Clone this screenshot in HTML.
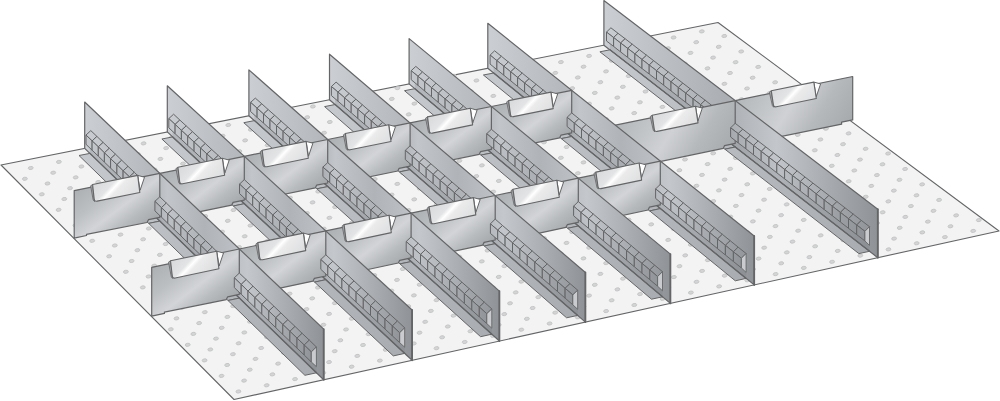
<!DOCTYPE html><html><head><meta charset="utf-8"><title>Drawer divider set</title><style>html,body{margin:0;padding:0;background:#fff}svg{display:block}</style></head><body><svg width="1000" height="401" viewBox="0 0 1000 401"><defs><linearGradient id="g1" gradientUnits="userSpaceOnUse" x1="735.2" y1="100.6" x2="829.9" y2="159.7"><stop offset="0" stop-color="#b4b7ba"/><stop offset="0.25" stop-color="#c2c5c8"/><stop offset="0.45" stop-color="#cfd1d4"/><stop offset="0.7" stop-color="#b6b9bc"/><stop offset="1" stop-color="#a6a9ac"/></linearGradient><linearGradient id="g2" gradientUnits="userSpaceOnUse" x1="771.3" y1="90.8" x2="799.8" y2="117.3"><stop offset="0" stop-color="#d8d9da"/><stop offset="0.36" stop-color="#e3e4e5"/><stop offset="0.46" stop-color="#ffffff"/><stop offset="0.56" stop-color="#ebebec"/><stop offset="1" stop-color="#dddedf"/></linearGradient><linearGradient id="g3" gradientUnits="userSpaceOnUse" x1="603.9" y1="45.2" x2="877.8" y2="45.2"><stop offset="0" stop-color="#cbced2"/><stop offset="0.45" stop-color="#abaeb2"/><stop offset="0.52" stop-color="#b5b8bc"/><stop offset="0.63" stop-color="#c3c6ca"/><stop offset="0.85" stop-color="#a3a6aa"/><stop offset="1" stop-color="#8f9296"/></linearGradient><linearGradient id="g4" gradientUnits="userSpaceOnUse" x1="603.9" y1="45.2" x2="877.8" y2="45.2"><stop offset="0" stop-color="#c5c8cc"/><stop offset="0.5" stop-color="#b6b9bd"/><stop offset="1" stop-color="#a8abaf"/></linearGradient><linearGradient id="g5" gradientUnits="userSpaceOnUse" x1="603.9" y1="45.2" x2="877.8" y2="45.2"><stop offset="0" stop-color="#c5c8cc"/><stop offset="0.45" stop-color="#a5a8ac"/><stop offset="0.52" stop-color="#afb2b6"/><stop offset="0.63" stop-color="#bdc0c4"/><stop offset="0.85" stop-color="#9da0a4"/><stop offset="1" stop-color="#898c90"/></linearGradient><linearGradient id="g6" gradientUnits="userSpaceOnUse" x1="603.9" y1="45.2" x2="877.8" y2="45.2"><stop offset="0" stop-color="#cacdd1"/><stop offset="0.45" stop-color="#aaadb1"/><stop offset="0.52" stop-color="#b4b7bb"/><stop offset="0.63" stop-color="#c2c5c9"/><stop offset="0.85" stop-color="#a2a5a9"/><stop offset="1" stop-color="#8e9195"/></linearGradient><linearGradient id="g7" gradientUnits="userSpaceOnUse" x1="615.4" y1="125.2" x2="711.8" y2="185.3"><stop offset="0" stop-color="#b4b7ba"/><stop offset="0.25" stop-color="#c2c5c8"/><stop offset="0.45" stop-color="#cfd1d4"/><stop offset="0.7" stop-color="#b6b9bc"/><stop offset="1" stop-color="#a6a9ac"/></linearGradient><linearGradient id="g8" gradientUnits="userSpaceOnUse" x1="652.2" y1="115.2" x2="680.7" y2="141.7"><stop offset="0" stop-color="#d8d9da"/><stop offset="0.36" stop-color="#e3e4e5"/><stop offset="0.46" stop-color="#ffffff"/><stop offset="0.56" stop-color="#ebebec"/><stop offset="1" stop-color="#dddedf"/></linearGradient><linearGradient id="g9" gradientUnits="userSpaceOnUse" x1="487.8" y1="68.3" x2="754.2" y2="68.3"><stop offset="0" stop-color="#cbced2"/><stop offset="0.3" stop-color="#b4b7bb"/><stop offset="0.345" stop-color="#c2c5c9"/><stop offset="0.5" stop-color="#b0b3b7"/><stop offset="0.62" stop-color="#bbbec2"/><stop offset="0.68" stop-color="#c4c7cb"/><stop offset="0.85" stop-color="#a8abaf"/><stop offset="1" stop-color="#8f9296"/></linearGradient><linearGradient id="g10" gradientUnits="userSpaceOnUse" x1="487.8" y1="68.3" x2="754.2" y2="68.3"><stop offset="0" stop-color="#c5c8cc"/><stop offset="0.5" stop-color="#b6b9bd"/><stop offset="1" stop-color="#a8abaf"/></linearGradient><linearGradient id="g11" gradientUnits="userSpaceOnUse" x1="487.8" y1="68.3" x2="754.2" y2="68.3"><stop offset="0" stop-color="#c5c8cc"/><stop offset="0.3" stop-color="#aeb1b5"/><stop offset="0.345" stop-color="#bcbfc3"/><stop offset="0.5" stop-color="#aaadb1"/><stop offset="0.62" stop-color="#b5b8bc"/><stop offset="0.68" stop-color="#bec1c5"/><stop offset="0.85" stop-color="#a2a5a9"/><stop offset="1" stop-color="#898c90"/></linearGradient><linearGradient id="g12" gradientUnits="userSpaceOnUse" x1="487.8" y1="68.3" x2="754.2" y2="68.3"><stop offset="0" stop-color="#cacdd1"/><stop offset="0.3" stop-color="#b3b6ba"/><stop offset="0.345" stop-color="#c1c4c8"/><stop offset="0.5" stop-color="#afb2b6"/><stop offset="0.62" stop-color="#babdc1"/><stop offset="0.68" stop-color="#c3c6ca"/><stop offset="0.85" stop-color="#a7aaae"/><stop offset="1" stop-color="#8e9195"/></linearGradient><linearGradient id="g13" gradientUnits="userSpaceOnUse" x1="491.4" y1="106.5" x2="535.7" y2="163.9"><stop offset="0" stop-color="#adb0b3"/><stop offset="0.3" stop-color="#bcbfc2"/><stop offset="0.55" stop-color="#d2d4d7"/><stop offset="0.75" stop-color="#b8bbbe"/><stop offset="1" stop-color="#a1a4a7"/></linearGradient><linearGradient id="g14" gradientUnits="userSpaceOnUse" x1="508.6" y1="100.6" x2="537.0" y2="127.1"><stop offset="0" stop-color="#d8d9da"/><stop offset="0.36" stop-color="#e3e4e5"/><stop offset="0.46" stop-color="#ffffff"/><stop offset="0.56" stop-color="#ebebec"/><stop offset="1" stop-color="#dddedf"/></linearGradient><linearGradient id="g15" gradientUnits="userSpaceOnUse" x1="578.3" y1="178.2" x2="623.5" y2="236.7"><stop offset="0" stop-color="#adb0b3"/><stop offset="0.3" stop-color="#bcbfc2"/><stop offset="0.55" stop-color="#d2d4d7"/><stop offset="0.75" stop-color="#b8bbbe"/><stop offset="1" stop-color="#a1a4a7"/></linearGradient><linearGradient id="g16" gradientUnits="userSpaceOnUse" x1="595.9" y1="172.1" x2="624.4" y2="198.6"><stop offset="0" stop-color="#d8d9da"/><stop offset="0.36" stop-color="#e3e4e5"/><stop offset="0.46" stop-color="#ffffff"/><stop offset="0.56" stop-color="#ebebec"/><stop offset="1" stop-color="#dddedf"/></linearGradient><linearGradient id="g17" gradientUnits="userSpaceOnUse" x1="409.1" y1="83.9" x2="670.4" y2="83.9"><stop offset="0" stop-color="#cbced2"/><stop offset="0.3" stop-color="#b4b7bb"/><stop offset="0.345" stop-color="#c2c5c9"/><stop offset="0.5" stop-color="#b0b3b7"/><stop offset="0.62" stop-color="#bbbec2"/><stop offset="0.68" stop-color="#c4c7cb"/><stop offset="0.85" stop-color="#a8abaf"/><stop offset="1" stop-color="#8f9296"/></linearGradient><linearGradient id="g18" gradientUnits="userSpaceOnUse" x1="409.1" y1="83.9" x2="670.4" y2="83.9"><stop offset="0" stop-color="#c5c8cc"/><stop offset="0.5" stop-color="#b6b9bd"/><stop offset="1" stop-color="#a8abaf"/></linearGradient><linearGradient id="g19" gradientUnits="userSpaceOnUse" x1="409.1" y1="83.9" x2="670.4" y2="83.9"><stop offset="0" stop-color="#c5c8cc"/><stop offset="0.3" stop-color="#aeb1b5"/><stop offset="0.345" stop-color="#bcbfc3"/><stop offset="0.5" stop-color="#aaadb1"/><stop offset="0.62" stop-color="#b5b8bc"/><stop offset="0.68" stop-color="#bec1c5"/><stop offset="0.85" stop-color="#a2a5a9"/><stop offset="1" stop-color="#898c90"/></linearGradient><linearGradient id="g20" gradientUnits="userSpaceOnUse" x1="409.1" y1="83.9" x2="670.4" y2="83.9"><stop offset="0" stop-color="#cacdd1"/><stop offset="0.3" stop-color="#b3b6ba"/><stop offset="0.345" stop-color="#c1c4c8"/><stop offset="0.5" stop-color="#afb2b6"/><stop offset="0.62" stop-color="#babdc1"/><stop offset="0.68" stop-color="#c3c6ca"/><stop offset="0.85" stop-color="#a7aaae"/><stop offset="1" stop-color="#8e9195"/></linearGradient><linearGradient id="g21" gradientUnits="userSpaceOnUse" x1="410.1" y1="122.9" x2="454.8" y2="180.8"><stop offset="0" stop-color="#adb0b3"/><stop offset="0.3" stop-color="#bcbfc2"/><stop offset="0.55" stop-color="#d2d4d7"/><stop offset="0.75" stop-color="#b8bbbe"/><stop offset="1" stop-color="#a1a4a7"/></linearGradient><linearGradient id="g22" gradientUnits="userSpaceOnUse" x1="427.5" y1="116.9" x2="456.0" y2="143.5"><stop offset="0" stop-color="#d8d9da"/><stop offset="0.36" stop-color="#e3e4e5"/><stop offset="0.46" stop-color="#ffffff"/><stop offset="0.56" stop-color="#ebebec"/><stop offset="1" stop-color="#dddedf"/></linearGradient><linearGradient id="g23" gradientUnits="userSpaceOnUse" x1="495.2" y1="195.5" x2="540.8" y2="254.6"><stop offset="0" stop-color="#adb0b3"/><stop offset="0.3" stop-color="#bcbfc2"/><stop offset="0.55" stop-color="#d2d4d7"/><stop offset="0.75" stop-color="#b8bbbe"/><stop offset="1" stop-color="#a1a4a7"/></linearGradient><linearGradient id="g24" gradientUnits="userSpaceOnUse" x1="513.0" y1="189.3" x2="541.5" y2="215.9"><stop offset="0" stop-color="#d8d9da"/><stop offset="0.36" stop-color="#e3e4e5"/><stop offset="0.46" stop-color="#ffffff"/><stop offset="0.56" stop-color="#ebebec"/><stop offset="1" stop-color="#dddedf"/></linearGradient><linearGradient id="g25" gradientUnits="userSpaceOnUse" x1="329.5" y1="99.7" x2="585.4" y2="99.7"><stop offset="0" stop-color="#cbced2"/><stop offset="0.3" stop-color="#b4b7bb"/><stop offset="0.345" stop-color="#c2c5c9"/><stop offset="0.5" stop-color="#b0b3b7"/><stop offset="0.62" stop-color="#bbbec2"/><stop offset="0.68" stop-color="#c4c7cb"/><stop offset="0.85" stop-color="#a8abaf"/><stop offset="1" stop-color="#8f9296"/></linearGradient><linearGradient id="g26" gradientUnits="userSpaceOnUse" x1="329.5" y1="99.7" x2="585.4" y2="99.7"><stop offset="0" stop-color="#c5c8cc"/><stop offset="0.5" stop-color="#b6b9bd"/><stop offset="1" stop-color="#a8abaf"/></linearGradient><linearGradient id="g27" gradientUnits="userSpaceOnUse" x1="329.5" y1="99.7" x2="585.4" y2="99.7"><stop offset="0" stop-color="#c5c8cc"/><stop offset="0.3" stop-color="#aeb1b5"/><stop offset="0.345" stop-color="#bcbfc3"/><stop offset="0.5" stop-color="#aaadb1"/><stop offset="0.62" stop-color="#b5b8bc"/><stop offset="0.68" stop-color="#bec1c5"/><stop offset="0.85" stop-color="#a2a5a9"/><stop offset="1" stop-color="#898c90"/></linearGradient><linearGradient id="g28" gradientUnits="userSpaceOnUse" x1="329.5" y1="99.7" x2="585.4" y2="99.7"><stop offset="0" stop-color="#cacdd1"/><stop offset="0.3" stop-color="#b3b6ba"/><stop offset="0.345" stop-color="#c1c4c8"/><stop offset="0.5" stop-color="#afb2b6"/><stop offset="0.62" stop-color="#babdc1"/><stop offset="0.68" stop-color="#c3c6ca"/><stop offset="0.85" stop-color="#a7aaae"/><stop offset="1" stop-color="#8e9195"/></linearGradient><linearGradient id="g29" gradientUnits="userSpaceOnUse" x1="327.7" y1="139.5" x2="372.9" y2="198.0"><stop offset="0" stop-color="#adb0b3"/><stop offset="0.3" stop-color="#bcbfc2"/><stop offset="0.55" stop-color="#d2d4d7"/><stop offset="0.75" stop-color="#b8bbbe"/><stop offset="1" stop-color="#a1a4a7"/></linearGradient><linearGradient id="g30" gradientUnits="userSpaceOnUse" x1="345.4" y1="133.5" x2="373.8" y2="160.0"><stop offset="0" stop-color="#d8d9da"/><stop offset="0.36" stop-color="#e3e4e5"/><stop offset="0.46" stop-color="#ffffff"/><stop offset="0.56" stop-color="#ebebec"/><stop offset="1" stop-color="#dddedf"/></linearGradient><linearGradient id="g31" gradientUnits="userSpaceOnUse" x1="411.1" y1="213.1" x2="457.1" y2="272.8"><stop offset="0" stop-color="#adb0b3"/><stop offset="0.3" stop-color="#bcbfc2"/><stop offset="0.55" stop-color="#d2d4d7"/><stop offset="0.75" stop-color="#b8bbbe"/><stop offset="1" stop-color="#a1a4a7"/></linearGradient><linearGradient id="g32" gradientUnits="userSpaceOnUse" x1="429.1" y1="206.8" x2="457.6" y2="233.4"><stop offset="0" stop-color="#d8d9da"/><stop offset="0.36" stop-color="#e3e4e5"/><stop offset="0.46" stop-color="#ffffff"/><stop offset="0.56" stop-color="#ebebec"/><stop offset="1" stop-color="#dddedf"/></linearGradient><linearGradient id="g33" gradientUnits="userSpaceOnUse" x1="248.9" y1="115.7" x2="499.4" y2="115.7"><stop offset="0" stop-color="#cbced2"/><stop offset="0.3" stop-color="#b4b7bb"/><stop offset="0.345" stop-color="#c2c5c9"/><stop offset="0.5" stop-color="#b0b3b7"/><stop offset="0.62" stop-color="#bbbec2"/><stop offset="0.68" stop-color="#c4c7cb"/><stop offset="0.85" stop-color="#a8abaf"/><stop offset="1" stop-color="#8f9296"/></linearGradient><linearGradient id="g34" gradientUnits="userSpaceOnUse" x1="248.9" y1="115.7" x2="499.4" y2="115.7"><stop offset="0" stop-color="#c5c8cc"/><stop offset="0.5" stop-color="#b6b9bd"/><stop offset="1" stop-color="#a8abaf"/></linearGradient><linearGradient id="g35" gradientUnits="userSpaceOnUse" x1="248.9" y1="115.7" x2="499.4" y2="115.7"><stop offset="0" stop-color="#c5c8cc"/><stop offset="0.3" stop-color="#aeb1b5"/><stop offset="0.345" stop-color="#bcbfc3"/><stop offset="0.5" stop-color="#aaadb1"/><stop offset="0.62" stop-color="#b5b8bc"/><stop offset="0.68" stop-color="#bec1c5"/><stop offset="0.85" stop-color="#a2a5a9"/><stop offset="1" stop-color="#898c90"/></linearGradient><linearGradient id="g36" gradientUnits="userSpaceOnUse" x1="248.9" y1="115.7" x2="499.4" y2="115.7"><stop offset="0" stop-color="#cacdd1"/><stop offset="0.3" stop-color="#b3b6ba"/><stop offset="0.345" stop-color="#c1c4c8"/><stop offset="0.5" stop-color="#afb2b6"/><stop offset="0.62" stop-color="#babdc1"/><stop offset="0.68" stop-color="#c3c6ca"/><stop offset="0.85" stop-color="#a7aaae"/><stop offset="1" stop-color="#8e9195"/></linearGradient><linearGradient id="g37" gradientUnits="userSpaceOnUse" x1="244.3" y1="156.3" x2="289.9" y2="215.4"><stop offset="0" stop-color="#adb0b3"/><stop offset="0.3" stop-color="#bcbfc2"/><stop offset="0.55" stop-color="#d2d4d7"/><stop offset="0.75" stop-color="#b8bbbe"/><stop offset="1" stop-color="#a1a4a7"/></linearGradient><linearGradient id="g38" gradientUnits="userSpaceOnUse" x1="262.2" y1="150.3" x2="290.6" y2="176.8"><stop offset="0" stop-color="#d8d9da"/><stop offset="0.36" stop-color="#e3e4e5"/><stop offset="0.46" stop-color="#ffffff"/><stop offset="0.56" stop-color="#ebebec"/><stop offset="1" stop-color="#dddedf"/></linearGradient><linearGradient id="g39" gradientUnits="userSpaceOnUse" x1="325.8" y1="230.9" x2="372.3" y2="291.2"><stop offset="0" stop-color="#adb0b3"/><stop offset="0.3" stop-color="#bcbfc2"/><stop offset="0.55" stop-color="#d2d4d7"/><stop offset="0.75" stop-color="#b8bbbe"/><stop offset="1" stop-color="#a1a4a7"/></linearGradient><linearGradient id="g40" gradientUnits="userSpaceOnUse" x1="344.1" y1="224.6" x2="372.5" y2="251.1"><stop offset="0" stop-color="#d8d9da"/><stop offset="0.36" stop-color="#e3e4e5"/><stop offset="0.46" stop-color="#ffffff"/><stop offset="0.56" stop-color="#ebebec"/><stop offset="1" stop-color="#dddedf"/></linearGradient><linearGradient id="g41" gradientUnits="userSpaceOnUse" x1="167.3" y1="131.9" x2="412.1" y2="131.9"><stop offset="0" stop-color="#cbced2"/><stop offset="0.3" stop-color="#b4b7bb"/><stop offset="0.345" stop-color="#c2c5c9"/><stop offset="0.5" stop-color="#b0b3b7"/><stop offset="0.62" stop-color="#bbbec2"/><stop offset="0.68" stop-color="#c4c7cb"/><stop offset="0.85" stop-color="#a8abaf"/><stop offset="1" stop-color="#8f9296"/></linearGradient><linearGradient id="g42" gradientUnits="userSpaceOnUse" x1="167.3" y1="131.9" x2="412.1" y2="131.9"><stop offset="0" stop-color="#c5c8cc"/><stop offset="0.5" stop-color="#b6b9bd"/><stop offset="1" stop-color="#a8abaf"/></linearGradient><linearGradient id="g43" gradientUnits="userSpaceOnUse" x1="167.3" y1="131.9" x2="412.1" y2="131.9"><stop offset="0" stop-color="#c5c8cc"/><stop offset="0.3" stop-color="#aeb1b5"/><stop offset="0.345" stop-color="#bcbfc3"/><stop offset="0.5" stop-color="#aaadb1"/><stop offset="0.62" stop-color="#b5b8bc"/><stop offset="0.68" stop-color="#bec1c5"/><stop offset="0.85" stop-color="#a2a5a9"/><stop offset="1" stop-color="#898c90"/></linearGradient><linearGradient id="g44" gradientUnits="userSpaceOnUse" x1="167.3" y1="131.9" x2="412.1" y2="131.9"><stop offset="0" stop-color="#cacdd1"/><stop offset="0.3" stop-color="#b3b6ba"/><stop offset="0.345" stop-color="#c1c4c8"/><stop offset="0.5" stop-color="#afb2b6"/><stop offset="0.62" stop-color="#babdc1"/><stop offset="0.68" stop-color="#c3c6ca"/><stop offset="0.85" stop-color="#a7aaae"/><stop offset="1" stop-color="#8e9195"/></linearGradient><linearGradient id="g45" gradientUnits="userSpaceOnUse" x1="159.8" y1="173.4" x2="205.9" y2="233.0"><stop offset="0" stop-color="#adb0b3"/><stop offset="0.3" stop-color="#bcbfc2"/><stop offset="0.55" stop-color="#d2d4d7"/><stop offset="0.75" stop-color="#b8bbbe"/><stop offset="1" stop-color="#a1a4a7"/></linearGradient><linearGradient id="g46" gradientUnits="userSpaceOnUse" x1="177.9" y1="167.3" x2="206.4" y2="193.8"><stop offset="0" stop-color="#d8d9da"/><stop offset="0.36" stop-color="#e3e4e5"/><stop offset="0.46" stop-color="#ffffff"/><stop offset="0.56" stop-color="#ebebec"/><stop offset="1" stop-color="#dddedf"/></linearGradient><linearGradient id="g47" gradientUnits="userSpaceOnUse" x1="239.3" y1="249.0" x2="286.3" y2="309.8"><stop offset="0" stop-color="#adb0b3"/><stop offset="0.3" stop-color="#bcbfc2"/><stop offset="0.55" stop-color="#d2d4d7"/><stop offset="0.75" stop-color="#b8bbbe"/><stop offset="1" stop-color="#a1a4a7"/></linearGradient><linearGradient id="g48" gradientUnits="userSpaceOnUse" x1="257.9" y1="242.6" x2="286.3" y2="269.1"><stop offset="0" stop-color="#d8d9da"/><stop offset="0.36" stop-color="#e3e4e5"/><stop offset="0.46" stop-color="#ffffff"/><stop offset="0.56" stop-color="#ebebec"/><stop offset="1" stop-color="#dddedf"/></linearGradient><linearGradient id="g49" gradientUnits="userSpaceOnUse" x1="84.7" y1="148.4" x2="323.7" y2="148.4"><stop offset="0" stop-color="#cbced2"/><stop offset="0.3" stop-color="#b4b7bb"/><stop offset="0.345" stop-color="#c2c5c9"/><stop offset="0.5" stop-color="#b0b3b7"/><stop offset="0.62" stop-color="#bbbec2"/><stop offset="0.68" stop-color="#c4c7cb"/><stop offset="0.85" stop-color="#a8abaf"/><stop offset="1" stop-color="#8f9296"/></linearGradient><linearGradient id="g50" gradientUnits="userSpaceOnUse" x1="84.7" y1="148.4" x2="323.7" y2="148.4"><stop offset="0" stop-color="#c5c8cc"/><stop offset="0.5" stop-color="#b6b9bd"/><stop offset="1" stop-color="#a8abaf"/></linearGradient><linearGradient id="g51" gradientUnits="userSpaceOnUse" x1="84.7" y1="148.4" x2="323.7" y2="148.4"><stop offset="0" stop-color="#c5c8cc"/><stop offset="0.3" stop-color="#aeb1b5"/><stop offset="0.345" stop-color="#bcbfc3"/><stop offset="0.5" stop-color="#aaadb1"/><stop offset="0.62" stop-color="#b5b8bc"/><stop offset="0.68" stop-color="#bec1c5"/><stop offset="0.85" stop-color="#a2a5a9"/><stop offset="1" stop-color="#898c90"/></linearGradient><linearGradient id="g52" gradientUnits="userSpaceOnUse" x1="84.7" y1="148.4" x2="323.7" y2="148.4"><stop offset="0" stop-color="#cacdd1"/><stop offset="0.3" stop-color="#b3b6ba"/><stop offset="0.345" stop-color="#c1c4c8"/><stop offset="0.5" stop-color="#afb2b6"/><stop offset="0.62" stop-color="#babdc1"/><stop offset="0.68" stop-color="#c3c6ca"/><stop offset="0.85" stop-color="#a7aaae"/><stop offset="1" stop-color="#8e9195"/></linearGradient><linearGradient id="g53" gradientUnits="userSpaceOnUse" x1="74.2" y1="190.6" x2="120.7" y2="250.9"><stop offset="0" stop-color="#adb0b3"/><stop offset="0.3" stop-color="#bcbfc2"/><stop offset="0.55" stop-color="#d2d4d7"/><stop offset="0.75" stop-color="#b8bbbe"/><stop offset="1" stop-color="#a1a4a7"/></linearGradient><linearGradient id="g54" gradientUnits="userSpaceOnUse" x1="92.6" y1="184.5" x2="121.0" y2="211.0"><stop offset="0" stop-color="#d8d9da"/><stop offset="0.36" stop-color="#e3e4e5"/><stop offset="0.46" stop-color="#ffffff"/><stop offset="0.56" stop-color="#ebebec"/><stop offset="1" stop-color="#dddedf"/></linearGradient><linearGradient id="g55" gradientUnits="userSpaceOnUse" x1="151.7" y1="267.3" x2="199.2" y2="328.7"><stop offset="0" stop-color="#adb0b3"/><stop offset="0.3" stop-color="#bcbfc2"/><stop offset="0.55" stop-color="#d2d4d7"/><stop offset="0.75" stop-color="#b8bbbe"/><stop offset="1" stop-color="#a1a4a7"/></linearGradient><linearGradient id="g56" gradientUnits="userSpaceOnUse" x1="170.5" y1="260.8" x2="199.0" y2="287.3"><stop offset="0" stop-color="#d8d9da"/><stop offset="0.36" stop-color="#e3e4e5"/><stop offset="0.46" stop-color="#ffffff"/><stop offset="0.56" stop-color="#ebebec"/><stop offset="1" stop-color="#dddedf"/></linearGradient></defs><polygon points="1.0,165.0 718.0,22.5 999.0,231.0 234.0,399.5" fill="#f3f3f3" stroke="#646567" stroke-width="1.1" stroke-linejoin="round" />
<g fill="#d4d4d5" stroke="#c3c4c5" stroke-width="0.9"><ellipse cx="30.7" cy="168.0" rx="2.45" ry="1.55" transform="rotate(-8 30.7 168.0)"/><ellipse cx="58.9" cy="161.9" rx="2.45" ry="1.55" transform="rotate(-8 58.9 161.9)"/><ellipse cx="87.1" cy="155.7" rx="2.45" ry="1.55" transform="rotate(-8 87.1 155.7)"/><ellipse cx="115.4" cy="149.6" rx="2.45" ry="1.55" transform="rotate(-8 115.4 149.6)"/><ellipse cx="143.6" cy="143.4" rx="2.45" ry="1.55" transform="rotate(-8 143.6 143.4)"/><ellipse cx="171.8" cy="137.3" rx="2.45" ry="1.55" transform="rotate(-8 171.8 137.3)"/><ellipse cx="200.0" cy="131.1" rx="2.45" ry="1.55" transform="rotate(-8 200.0 131.1)"/><ellipse cx="228.3" cy="125.0" rx="2.45" ry="1.55" transform="rotate(-8 228.3 125.0)"/><ellipse cx="256.5" cy="118.8" rx="2.45" ry="1.55" transform="rotate(-8 256.5 118.8)"/><ellipse cx="284.7" cy="112.7" rx="2.45" ry="1.55" transform="rotate(-8 284.7 112.7)"/><ellipse cx="312.9" cy="106.5" rx="2.45" ry="1.55" transform="rotate(-8 312.9 106.5)"/><ellipse cx="341.1" cy="100.4" rx="2.45" ry="1.55" transform="rotate(-8 341.1 100.4)"/><ellipse cx="369.3" cy="94.3" rx="2.45" ry="1.55" transform="rotate(-8 369.3 94.3)"/><ellipse cx="397.5" cy="88.1" rx="2.45" ry="1.55" transform="rotate(-8 397.5 88.1)"/><ellipse cx="425.7" cy="82.0" rx="2.45" ry="1.55" transform="rotate(-8 425.7 82.0)"/><ellipse cx="453.9" cy="75.8" rx="2.45" ry="1.55" transform="rotate(-8 453.9 75.8)"/><ellipse cx="24.9" cy="178.8" rx="2.45" ry="1.55" transform="rotate(-8 24.9 178.8)"/><ellipse cx="53.2" cy="172.7" rx="2.45" ry="1.55" transform="rotate(-8 53.2 172.7)"/><ellipse cx="81.4" cy="166.5" rx="2.45" ry="1.55" transform="rotate(-8 81.4 166.5)"/><ellipse cx="109.7" cy="160.4" rx="2.45" ry="1.55" transform="rotate(-8 109.7 160.4)"/><ellipse cx="137.9" cy="154.2" rx="2.45" ry="1.55" transform="rotate(-8 137.9 154.2)"/><ellipse cx="166.1" cy="148.1" rx="2.45" ry="1.55" transform="rotate(-8 166.1 148.1)"/><ellipse cx="194.4" cy="141.9" rx="2.45" ry="1.55" transform="rotate(-8 194.4 141.9)"/><ellipse cx="222.6" cy="135.8" rx="2.45" ry="1.55" transform="rotate(-8 222.6 135.8)"/><ellipse cx="250.8" cy="129.6" rx="2.45" ry="1.55" transform="rotate(-8 250.8 129.6)"/><ellipse cx="279.0" cy="123.5" rx="2.45" ry="1.55" transform="rotate(-8 279.0 123.5)"/><ellipse cx="307.2" cy="117.3" rx="2.45" ry="1.55" transform="rotate(-8 307.2 117.3)"/><ellipse cx="335.4" cy="111.2" rx="2.45" ry="1.55" transform="rotate(-8 335.4 111.2)"/><ellipse cx="363.6" cy="105.1" rx="2.45" ry="1.55" transform="rotate(-8 363.6 105.1)"/><ellipse cx="391.8" cy="98.9" rx="2.45" ry="1.55" transform="rotate(-8 391.8 98.9)"/><ellipse cx="420.0" cy="92.8" rx="2.45" ry="1.55" transform="rotate(-8 420.0 92.8)"/><ellipse cx="448.2" cy="86.6" rx="2.45" ry="1.55" transform="rotate(-8 448.2 86.6)"/><ellipse cx="476.4" cy="80.5" rx="2.45" ry="1.55" transform="rotate(-8 476.4 80.5)"/><ellipse cx="504.6" cy="74.3" rx="2.45" ry="1.55" transform="rotate(-8 504.6 74.3)"/><ellipse cx="532.8" cy="68.2" rx="2.45" ry="1.55" transform="rotate(-8 532.8 68.2)"/><ellipse cx="560.9" cy="62.1" rx="2.45" ry="1.55" transform="rotate(-8 560.9 62.1)"/><ellipse cx="589.1" cy="55.9" rx="2.45" ry="1.55" transform="rotate(-8 589.1 55.9)"/><ellipse cx="617.3" cy="49.8" rx="2.45" ry="1.55" transform="rotate(-8 617.3 49.8)"/><ellipse cx="645.5" cy="43.7" rx="2.45" ry="1.55" transform="rotate(-8 645.5 43.7)"/><ellipse cx="673.6" cy="37.5" rx="2.45" ry="1.55" transform="rotate(-8 673.6 37.5)"/><ellipse cx="701.8" cy="31.4" rx="2.45" ry="1.55" transform="rotate(-8 701.8 31.4)"/><ellipse cx="47.5" cy="183.5" rx="2.45" ry="1.55" transform="rotate(-8 47.5 183.5)"/><ellipse cx="75.7" cy="177.4" rx="2.45" ry="1.55" transform="rotate(-8 75.7 177.4)"/><ellipse cx="104.0" cy="171.2" rx="2.45" ry="1.55" transform="rotate(-8 104.0 171.2)"/><ellipse cx="132.2" cy="165.0" rx="2.45" ry="1.55" transform="rotate(-8 132.2 165.0)"/><ellipse cx="160.4" cy="158.9" rx="2.45" ry="1.55" transform="rotate(-8 160.4 158.9)"/><ellipse cx="188.7" cy="152.7" rx="2.45" ry="1.55" transform="rotate(-8 188.7 152.7)"/><ellipse cx="216.9" cy="146.6" rx="2.45" ry="1.55" transform="rotate(-8 216.9 146.6)"/><ellipse cx="245.1" cy="140.4" rx="2.45" ry="1.55" transform="rotate(-8 245.1 140.4)"/><ellipse cx="273.3" cy="134.3" rx="2.45" ry="1.55" transform="rotate(-8 273.3 134.3)"/><ellipse cx="301.5" cy="128.1" rx="2.45" ry="1.55" transform="rotate(-8 301.5 128.1)"/><ellipse cx="329.8" cy="122.0" rx="2.45" ry="1.55" transform="rotate(-8 329.8 122.0)"/><ellipse cx="358.0" cy="115.9" rx="2.45" ry="1.55" transform="rotate(-8 358.0 115.9)"/><ellipse cx="386.2" cy="109.7" rx="2.45" ry="1.55" transform="rotate(-8 386.2 109.7)"/><ellipse cx="414.4" cy="103.6" rx="2.45" ry="1.55" transform="rotate(-8 414.4 103.6)"/><ellipse cx="442.6" cy="97.4" rx="2.45" ry="1.55" transform="rotate(-8 442.6 97.4)"/><ellipse cx="470.8" cy="91.3" rx="2.45" ry="1.55" transform="rotate(-8 470.8 91.3)"/><ellipse cx="498.9" cy="85.1" rx="2.45" ry="1.55" transform="rotate(-8 498.9 85.1)"/><ellipse cx="527.1" cy="79.0" rx="2.45" ry="1.55" transform="rotate(-8 527.1 79.0)"/><ellipse cx="555.3" cy="72.9" rx="2.45" ry="1.55" transform="rotate(-8 555.3 72.9)"/><ellipse cx="583.5" cy="66.7" rx="2.45" ry="1.55" transform="rotate(-8 583.5 66.7)"/><ellipse cx="611.7" cy="60.6" rx="2.45" ry="1.55" transform="rotate(-8 611.7 60.6)"/><ellipse cx="639.8" cy="54.4" rx="2.45" ry="1.55" transform="rotate(-8 639.8 54.4)"/><ellipse cx="668.0" cy="48.3" rx="2.45" ry="1.55" transform="rotate(-8 668.0 48.3)"/><ellipse cx="696.2" cy="42.2" rx="2.45" ry="1.55" transform="rotate(-8 696.2 42.2)"/><ellipse cx="724.3" cy="36.0" rx="2.45" ry="1.55" transform="rotate(-8 724.3 36.0)"/><ellipse cx="41.8" cy="194.3" rx="2.45" ry="1.55" transform="rotate(-8 41.8 194.3)"/><ellipse cx="70.0" cy="188.2" rx="2.45" ry="1.55" transform="rotate(-8 70.0 188.2)"/><ellipse cx="98.2" cy="182.0" rx="2.45" ry="1.55" transform="rotate(-8 98.2 182.0)"/><ellipse cx="126.5" cy="175.9" rx="2.45" ry="1.55" transform="rotate(-8 126.5 175.9)"/><ellipse cx="154.7" cy="169.7" rx="2.45" ry="1.55" transform="rotate(-8 154.7 169.7)"/><ellipse cx="183.0" cy="163.6" rx="2.45" ry="1.55" transform="rotate(-8 183.0 163.6)"/><ellipse cx="211.2" cy="157.4" rx="2.45" ry="1.55" transform="rotate(-8 211.2 157.4)"/><ellipse cx="239.4" cy="151.3" rx="2.45" ry="1.55" transform="rotate(-8 239.4 151.3)"/><ellipse cx="267.6" cy="145.1" rx="2.45" ry="1.55" transform="rotate(-8 267.6 145.1)"/><ellipse cx="295.9" cy="139.0" rx="2.45" ry="1.55" transform="rotate(-8 295.9 139.0)"/><ellipse cx="324.1" cy="132.8" rx="2.45" ry="1.55" transform="rotate(-8 324.1 132.8)"/><ellipse cx="352.3" cy="126.7" rx="2.45" ry="1.55" transform="rotate(-8 352.3 126.7)"/><ellipse cx="380.5" cy="120.5" rx="2.45" ry="1.55" transform="rotate(-8 380.5 120.5)"/><ellipse cx="408.7" cy="114.4" rx="2.45" ry="1.55" transform="rotate(-8 408.7 114.4)"/><ellipse cx="436.9" cy="108.2" rx="2.45" ry="1.55" transform="rotate(-8 436.9 108.2)"/><ellipse cx="465.1" cy="102.1" rx="2.45" ry="1.55" transform="rotate(-8 465.1 102.1)"/><ellipse cx="493.3" cy="95.9" rx="2.45" ry="1.55" transform="rotate(-8 493.3 95.9)"/><ellipse cx="521.5" cy="89.8" rx="2.45" ry="1.55" transform="rotate(-8 521.5 89.8)"/><ellipse cx="549.7" cy="83.6" rx="2.45" ry="1.55" transform="rotate(-8 549.7 83.6)"/><ellipse cx="577.8" cy="77.5" rx="2.45" ry="1.55" transform="rotate(-8 577.8 77.5)"/><ellipse cx="606.0" cy="71.4" rx="2.45" ry="1.55" transform="rotate(-8 606.0 71.4)"/><ellipse cx="634.2" cy="65.2" rx="2.45" ry="1.55" transform="rotate(-8 634.2 65.2)"/><ellipse cx="662.4" cy="59.1" rx="2.45" ry="1.55" transform="rotate(-8 662.4 59.1)"/><ellipse cx="690.5" cy="52.9" rx="2.45" ry="1.55" transform="rotate(-8 690.5 52.9)"/><ellipse cx="718.7" cy="46.8" rx="2.45" ry="1.55" transform="rotate(-8 718.7 46.8)"/><ellipse cx="64.3" cy="199.0" rx="2.45" ry="1.55" transform="rotate(-8 64.3 199.0)"/><ellipse cx="92.5" cy="192.8" rx="2.45" ry="1.55" transform="rotate(-8 92.5 192.8)"/><ellipse cx="120.8" cy="186.7" rx="2.45" ry="1.55" transform="rotate(-8 120.8 186.7)"/><ellipse cx="149.0" cy="180.5" rx="2.45" ry="1.55" transform="rotate(-8 149.0 180.5)"/><ellipse cx="177.3" cy="174.4" rx="2.45" ry="1.55" transform="rotate(-8 177.3 174.4)"/><ellipse cx="205.5" cy="168.2" rx="2.45" ry="1.55" transform="rotate(-8 205.5 168.2)"/><ellipse cx="233.7" cy="162.1" rx="2.45" ry="1.55" transform="rotate(-8 233.7 162.1)"/><ellipse cx="262.0" cy="155.9" rx="2.45" ry="1.55" transform="rotate(-8 262.0 155.9)"/><ellipse cx="290.2" cy="149.8" rx="2.45" ry="1.55" transform="rotate(-8 290.2 149.8)"/><ellipse cx="318.4" cy="143.6" rx="2.45" ry="1.55" transform="rotate(-8 318.4 143.6)"/><ellipse cx="346.6" cy="137.5" rx="2.45" ry="1.55" transform="rotate(-8 346.6 137.5)"/><ellipse cx="374.8" cy="131.3" rx="2.45" ry="1.55" transform="rotate(-8 374.8 131.3)"/><ellipse cx="403.0" cy="125.2" rx="2.45" ry="1.55" transform="rotate(-8 403.0 125.2)"/><ellipse cx="431.2" cy="119.0" rx="2.45" ry="1.55" transform="rotate(-8 431.2 119.0)"/><ellipse cx="459.4" cy="112.9" rx="2.45" ry="1.55" transform="rotate(-8 459.4 112.9)"/><ellipse cx="487.6" cy="106.7" rx="2.45" ry="1.55" transform="rotate(-8 487.6 106.7)"/><ellipse cx="515.8" cy="100.6" rx="2.45" ry="1.55" transform="rotate(-8 515.8 100.6)"/><ellipse cx="544.0" cy="94.4" rx="2.45" ry="1.55" transform="rotate(-8 544.0 94.4)"/><ellipse cx="572.2" cy="88.3" rx="2.45" ry="1.55" transform="rotate(-8 572.2 88.3)"/><ellipse cx="600.4" cy="82.2" rx="2.45" ry="1.55" transform="rotate(-8 600.4 82.2)"/><ellipse cx="628.6" cy="76.0" rx="2.45" ry="1.55" transform="rotate(-8 628.6 76.0)"/><ellipse cx="656.7" cy="69.9" rx="2.45" ry="1.55" transform="rotate(-8 656.7 69.9)"/><ellipse cx="684.9" cy="63.7" rx="2.45" ry="1.55" transform="rotate(-8 684.9 63.7)"/><ellipse cx="713.1" cy="57.6" rx="2.45" ry="1.55" transform="rotate(-8 713.1 57.6)"/><ellipse cx="741.2" cy="51.5" rx="2.45" ry="1.55" transform="rotate(-8 741.2 51.5)"/><ellipse cx="58.6" cy="209.8" rx="2.45" ry="1.55" transform="rotate(-8 58.6 209.8)"/><ellipse cx="86.8" cy="203.7" rx="2.45" ry="1.55" transform="rotate(-8 86.8 203.7)"/><ellipse cx="115.1" cy="197.5" rx="2.45" ry="1.55" transform="rotate(-8 115.1 197.5)"/><ellipse cx="143.3" cy="191.3" rx="2.45" ry="1.55" transform="rotate(-8 143.3 191.3)"/><ellipse cx="171.6" cy="185.2" rx="2.45" ry="1.55" transform="rotate(-8 171.6 185.2)"/><ellipse cx="199.8" cy="179.0" rx="2.45" ry="1.55" transform="rotate(-8 199.8 179.0)"/><ellipse cx="228.0" cy="172.9" rx="2.45" ry="1.55" transform="rotate(-8 228.0 172.9)"/><ellipse cx="256.3" cy="166.7" rx="2.45" ry="1.55" transform="rotate(-8 256.3 166.7)"/><ellipse cx="284.5" cy="160.6" rx="2.45" ry="1.55" transform="rotate(-8 284.5 160.6)"/><ellipse cx="312.7" cy="154.4" rx="2.45" ry="1.55" transform="rotate(-8 312.7 154.4)"/><ellipse cx="340.9" cy="148.3" rx="2.45" ry="1.55" transform="rotate(-8 340.9 148.3)"/><ellipse cx="369.2" cy="142.1" rx="2.45" ry="1.55" transform="rotate(-8 369.2 142.1)"/><ellipse cx="397.4" cy="136.0" rx="2.45" ry="1.55" transform="rotate(-8 397.4 136.0)"/><ellipse cx="425.6" cy="129.8" rx="2.45" ry="1.55" transform="rotate(-8 425.6 129.8)"/><ellipse cx="453.8" cy="123.7" rx="2.45" ry="1.55" transform="rotate(-8 453.8 123.7)"/><ellipse cx="482.0" cy="117.5" rx="2.45" ry="1.55" transform="rotate(-8 482.0 117.5)"/><ellipse cx="510.2" cy="111.4" rx="2.45" ry="1.55" transform="rotate(-8 510.2 111.4)"/><ellipse cx="538.4" cy="105.2" rx="2.45" ry="1.55" transform="rotate(-8 538.4 105.2)"/><ellipse cx="566.6" cy="99.1" rx="2.45" ry="1.55" transform="rotate(-8 566.6 99.1)"/><ellipse cx="594.8" cy="92.9" rx="2.45" ry="1.55" transform="rotate(-8 594.8 92.9)"/><ellipse cx="622.9" cy="86.8" rx="2.45" ry="1.55" transform="rotate(-8 622.9 86.8)"/><ellipse cx="651.1" cy="80.7" rx="2.45" ry="1.55" transform="rotate(-8 651.1 80.7)"/><ellipse cx="679.3" cy="74.5" rx="2.45" ry="1.55" transform="rotate(-8 679.3 74.5)"/><ellipse cx="707.5" cy="68.4" rx="2.45" ry="1.55" transform="rotate(-8 707.5 68.4)"/><ellipse cx="735.6" cy="62.2" rx="2.45" ry="1.55" transform="rotate(-8 735.6 62.2)"/><ellipse cx="81.1" cy="214.5" rx="2.45" ry="1.55" transform="rotate(-8 81.1 214.5)"/><ellipse cx="109.4" cy="208.3" rx="2.45" ry="1.55" transform="rotate(-8 109.4 208.3)"/><ellipse cx="137.6" cy="202.2" rx="2.45" ry="1.55" transform="rotate(-8 137.6 202.2)"/><ellipse cx="165.9" cy="196.0" rx="2.45" ry="1.55" transform="rotate(-8 165.9 196.0)"/><ellipse cx="194.1" cy="189.8" rx="2.45" ry="1.55" transform="rotate(-8 194.1 189.8)"/><ellipse cx="222.4" cy="183.7" rx="2.45" ry="1.55" transform="rotate(-8 222.4 183.7)"/><ellipse cx="250.6" cy="177.5" rx="2.45" ry="1.55" transform="rotate(-8 250.6 177.5)"/><ellipse cx="278.8" cy="171.4" rx="2.45" ry="1.55" transform="rotate(-8 278.8 171.4)"/><ellipse cx="307.0" cy="165.2" rx="2.45" ry="1.55" transform="rotate(-8 307.0 165.2)"/><ellipse cx="335.3" cy="159.1" rx="2.45" ry="1.55" transform="rotate(-8 335.3 159.1)"/><ellipse cx="363.5" cy="152.9" rx="2.45" ry="1.55" transform="rotate(-8 363.5 152.9)"/><ellipse cx="391.7" cy="146.8" rx="2.45" ry="1.55" transform="rotate(-8 391.7 146.8)"/><ellipse cx="419.9" cy="140.6" rx="2.45" ry="1.55" transform="rotate(-8 419.9 140.6)"/><ellipse cx="448.1" cy="134.5" rx="2.45" ry="1.55" transform="rotate(-8 448.1 134.5)"/><ellipse cx="476.3" cy="128.3" rx="2.45" ry="1.55" transform="rotate(-8 476.3 128.3)"/><ellipse cx="504.5" cy="122.2" rx="2.45" ry="1.55" transform="rotate(-8 504.5 122.2)"/><ellipse cx="532.7" cy="116.0" rx="2.45" ry="1.55" transform="rotate(-8 532.7 116.0)"/><ellipse cx="560.9" cy="109.9" rx="2.45" ry="1.55" transform="rotate(-8 560.9 109.9)"/><ellipse cx="589.1" cy="103.7" rx="2.45" ry="1.55" transform="rotate(-8 589.1 103.7)"/><ellipse cx="617.3" cy="97.6" rx="2.45" ry="1.55" transform="rotate(-8 617.3 97.6)"/><ellipse cx="645.5" cy="91.5" rx="2.45" ry="1.55" transform="rotate(-8 645.5 91.5)"/><ellipse cx="673.7" cy="85.3" rx="2.45" ry="1.55" transform="rotate(-8 673.7 85.3)"/><ellipse cx="701.8" cy="79.2" rx="2.45" ry="1.55" transform="rotate(-8 701.8 79.2)"/><ellipse cx="730.0" cy="73.0" rx="2.45" ry="1.55" transform="rotate(-8 730.0 73.0)"/><ellipse cx="758.2" cy="66.9" rx="2.45" ry="1.55" transform="rotate(-8 758.2 66.9)"/><ellipse cx="75.4" cy="225.3" rx="2.45" ry="1.55" transform="rotate(-8 75.4 225.3)"/><ellipse cx="103.7" cy="219.1" rx="2.45" ry="1.55" transform="rotate(-8 103.7 219.1)"/><ellipse cx="131.9" cy="213.0" rx="2.45" ry="1.55" transform="rotate(-8 131.9 213.0)"/><ellipse cx="160.2" cy="206.8" rx="2.45" ry="1.55" transform="rotate(-8 160.2 206.8)"/><ellipse cx="188.4" cy="200.7" rx="2.45" ry="1.55" transform="rotate(-8 188.4 200.7)"/><ellipse cx="216.7" cy="194.5" rx="2.45" ry="1.55" transform="rotate(-8 216.7 194.5)"/><ellipse cx="244.9" cy="188.4" rx="2.45" ry="1.55" transform="rotate(-8 244.9 188.4)"/><ellipse cx="273.1" cy="182.2" rx="2.45" ry="1.55" transform="rotate(-8 273.1 182.2)"/><ellipse cx="301.4" cy="176.0" rx="2.45" ry="1.55" transform="rotate(-8 301.4 176.0)"/><ellipse cx="329.6" cy="169.9" rx="2.45" ry="1.55" transform="rotate(-8 329.6 169.9)"/><ellipse cx="357.8" cy="163.7" rx="2.45" ry="1.55" transform="rotate(-8 357.8 163.7)"/><ellipse cx="386.0" cy="157.6" rx="2.45" ry="1.55" transform="rotate(-8 386.0 157.6)"/><ellipse cx="414.3" cy="151.4" rx="2.45" ry="1.55" transform="rotate(-8 414.3 151.4)"/><ellipse cx="442.5" cy="145.3" rx="2.45" ry="1.55" transform="rotate(-8 442.5 145.3)"/><ellipse cx="470.7" cy="139.1" rx="2.45" ry="1.55" transform="rotate(-8 470.7 139.1)"/><ellipse cx="498.9" cy="133.0" rx="2.45" ry="1.55" transform="rotate(-8 498.9 133.0)"/><ellipse cx="527.1" cy="126.8" rx="2.45" ry="1.55" transform="rotate(-8 527.1 126.8)"/><ellipse cx="555.3" cy="120.7" rx="2.45" ry="1.55" transform="rotate(-8 555.3 120.7)"/><ellipse cx="583.5" cy="114.5" rx="2.45" ry="1.55" transform="rotate(-8 583.5 114.5)"/><ellipse cx="611.7" cy="108.4" rx="2.45" ry="1.55" transform="rotate(-8 611.7 108.4)"/><ellipse cx="639.9" cy="102.3" rx="2.45" ry="1.55" transform="rotate(-8 639.9 102.3)"/><ellipse cx="668.0" cy="96.1" rx="2.45" ry="1.55" transform="rotate(-8 668.0 96.1)"/><ellipse cx="696.2" cy="90.0" rx="2.45" ry="1.55" transform="rotate(-8 696.2 90.0)"/><ellipse cx="724.4" cy="83.8" rx="2.45" ry="1.55" transform="rotate(-8 724.4 83.8)"/><ellipse cx="752.6" cy="77.7" rx="2.45" ry="1.55" transform="rotate(-8 752.6 77.7)"/><ellipse cx="98.0" cy="230.0" rx="2.45" ry="1.55" transform="rotate(-8 98.0 230.0)"/><ellipse cx="126.2" cy="223.8" rx="2.45" ry="1.55" transform="rotate(-8 126.2 223.8)"/><ellipse cx="154.5" cy="217.7" rx="2.45" ry="1.55" transform="rotate(-8 154.5 217.7)"/><ellipse cx="182.7" cy="211.5" rx="2.45" ry="1.55" transform="rotate(-8 182.7 211.5)"/><ellipse cx="211.0" cy="205.3" rx="2.45" ry="1.55" transform="rotate(-8 211.0 205.3)"/><ellipse cx="239.2" cy="199.2" rx="2.45" ry="1.55" transform="rotate(-8 239.2 199.2)"/><ellipse cx="267.5" cy="193.0" rx="2.45" ry="1.55" transform="rotate(-8 267.5 193.0)"/><ellipse cx="295.7" cy="186.9" rx="2.45" ry="1.55" transform="rotate(-8 295.7 186.9)"/><ellipse cx="323.9" cy="180.7" rx="2.45" ry="1.55" transform="rotate(-8 323.9 180.7)"/><ellipse cx="352.1" cy="174.6" rx="2.45" ry="1.55" transform="rotate(-8 352.1 174.6)"/><ellipse cx="380.4" cy="168.4" rx="2.45" ry="1.55" transform="rotate(-8 380.4 168.4)"/><ellipse cx="408.6" cy="162.2" rx="2.45" ry="1.55" transform="rotate(-8 408.6 162.2)"/><ellipse cx="436.8" cy="156.1" rx="2.45" ry="1.55" transform="rotate(-8 436.8 156.1)"/><ellipse cx="465.0" cy="149.9" rx="2.45" ry="1.55" transform="rotate(-8 465.0 149.9)"/><ellipse cx="493.2" cy="143.8" rx="2.45" ry="1.55" transform="rotate(-8 493.2 143.8)"/><ellipse cx="521.4" cy="137.6" rx="2.45" ry="1.55" transform="rotate(-8 521.4 137.6)"/><ellipse cx="549.6" cy="131.5" rx="2.45" ry="1.55" transform="rotate(-8 549.6 131.5)"/><ellipse cx="577.8" cy="125.3" rx="2.45" ry="1.55" transform="rotate(-8 577.8 125.3)"/><ellipse cx="606.0" cy="119.2" rx="2.45" ry="1.55" transform="rotate(-8 606.0 119.2)"/><ellipse cx="634.2" cy="113.1" rx="2.45" ry="1.55" transform="rotate(-8 634.2 113.1)"/><ellipse cx="662.4" cy="106.9" rx="2.45" ry="1.55" transform="rotate(-8 662.4 106.9)"/><ellipse cx="690.6" cy="100.8" rx="2.45" ry="1.55" transform="rotate(-8 690.6 100.8)"/><ellipse cx="718.8" cy="94.6" rx="2.45" ry="1.55" transform="rotate(-8 718.8 94.6)"/><ellipse cx="747.0" cy="88.5" rx="2.45" ry="1.55" transform="rotate(-8 747.0 88.5)"/><ellipse cx="775.1" cy="82.3" rx="2.45" ry="1.55" transform="rotate(-8 775.1 82.3)"/><ellipse cx="92.2" cy="240.8" rx="2.45" ry="1.55" transform="rotate(-8 92.2 240.8)"/><ellipse cx="120.5" cy="234.6" rx="2.45" ry="1.55" transform="rotate(-8 120.5 234.6)"/><ellipse cx="148.8" cy="228.5" rx="2.45" ry="1.55" transform="rotate(-8 148.8 228.5)"/><ellipse cx="177.0" cy="222.3" rx="2.45" ry="1.55" transform="rotate(-8 177.0 222.3)"/><ellipse cx="205.3" cy="216.2" rx="2.45" ry="1.55" transform="rotate(-8 205.3 216.2)"/><ellipse cx="233.5" cy="210.0" rx="2.45" ry="1.55" transform="rotate(-8 233.5 210.0)"/><ellipse cx="261.8" cy="203.8" rx="2.45" ry="1.55" transform="rotate(-8 261.8 203.8)"/><ellipse cx="290.0" cy="197.7" rx="2.45" ry="1.55" transform="rotate(-8 290.0 197.7)"/><ellipse cx="318.2" cy="191.5" rx="2.45" ry="1.55" transform="rotate(-8 318.2 191.5)"/><ellipse cx="346.5" cy="185.4" rx="2.45" ry="1.55" transform="rotate(-8 346.5 185.4)"/><ellipse cx="374.7" cy="179.2" rx="2.45" ry="1.55" transform="rotate(-8 374.7 179.2)"/><ellipse cx="402.9" cy="173.1" rx="2.45" ry="1.55" transform="rotate(-8 402.9 173.1)"/><ellipse cx="431.2" cy="166.9" rx="2.45" ry="1.55" transform="rotate(-8 431.2 166.9)"/><ellipse cx="459.4" cy="160.8" rx="2.45" ry="1.55" transform="rotate(-8 459.4 160.8)"/><ellipse cx="487.6" cy="154.6" rx="2.45" ry="1.55" transform="rotate(-8 487.6 154.6)"/><ellipse cx="515.8" cy="148.5" rx="2.45" ry="1.55" transform="rotate(-8 515.8 148.5)"/><ellipse cx="544.0" cy="142.3" rx="2.45" ry="1.55" transform="rotate(-8 544.0 142.3)"/><ellipse cx="572.2" cy="136.2" rx="2.45" ry="1.55" transform="rotate(-8 572.2 136.2)"/><ellipse cx="600.4" cy="130.0" rx="2.45" ry="1.55" transform="rotate(-8 600.4 130.0)"/><ellipse cx="628.6" cy="123.9" rx="2.45" ry="1.55" transform="rotate(-8 628.6 123.9)"/><ellipse cx="656.8" cy="117.7" rx="2.45" ry="1.55" transform="rotate(-8 656.8 117.7)"/><ellipse cx="685.0" cy="111.6" rx="2.45" ry="1.55" transform="rotate(-8 685.0 111.6)"/><ellipse cx="713.2" cy="105.4" rx="2.45" ry="1.55" transform="rotate(-8 713.2 105.4)"/><ellipse cx="741.3" cy="99.3" rx="2.45" ry="1.55" transform="rotate(-8 741.3 99.3)"/><ellipse cx="769.5" cy="93.1" rx="2.45" ry="1.55" transform="rotate(-8 769.5 93.1)"/><ellipse cx="797.7" cy="87.0" rx="2.45" ry="1.55" transform="rotate(-8 797.7 87.0)"/><ellipse cx="114.8" cy="245.5" rx="2.45" ry="1.55" transform="rotate(-8 114.8 245.5)"/><ellipse cx="143.1" cy="239.3" rx="2.45" ry="1.55" transform="rotate(-8 143.1 239.3)"/><ellipse cx="171.3" cy="233.2" rx="2.45" ry="1.55" transform="rotate(-8 171.3 233.2)"/><ellipse cx="199.6" cy="227.0" rx="2.45" ry="1.55" transform="rotate(-8 199.6 227.0)"/><ellipse cx="227.8" cy="220.8" rx="2.45" ry="1.55" transform="rotate(-8 227.8 220.8)"/><ellipse cx="256.1" cy="214.7" rx="2.45" ry="1.55" transform="rotate(-8 256.1 214.7)"/><ellipse cx="284.3" cy="208.5" rx="2.45" ry="1.55" transform="rotate(-8 284.3 208.5)"/><ellipse cx="312.6" cy="202.4" rx="2.45" ry="1.55" transform="rotate(-8 312.6 202.4)"/><ellipse cx="340.8" cy="196.2" rx="2.45" ry="1.55" transform="rotate(-8 340.8 196.2)"/><ellipse cx="369.0" cy="190.0" rx="2.45" ry="1.55" transform="rotate(-8 369.0 190.0)"/><ellipse cx="397.3" cy="183.9" rx="2.45" ry="1.55" transform="rotate(-8 397.3 183.9)"/><ellipse cx="425.5" cy="177.7" rx="2.45" ry="1.55" transform="rotate(-8 425.5 177.7)"/><ellipse cx="453.7" cy="171.6" rx="2.45" ry="1.55" transform="rotate(-8 453.7 171.6)"/><ellipse cx="481.9" cy="165.4" rx="2.45" ry="1.55" transform="rotate(-8 481.9 165.4)"/><ellipse cx="510.1" cy="159.3" rx="2.45" ry="1.55" transform="rotate(-8 510.1 159.3)"/><ellipse cx="538.4" cy="153.1" rx="2.45" ry="1.55" transform="rotate(-8 538.4 153.1)"/><ellipse cx="566.6" cy="147.0" rx="2.45" ry="1.55" transform="rotate(-8 566.6 147.0)"/><ellipse cx="594.8" cy="140.8" rx="2.45" ry="1.55" transform="rotate(-8 594.8 140.8)"/><ellipse cx="623.0" cy="134.7" rx="2.45" ry="1.55" transform="rotate(-8 623.0 134.7)"/><ellipse cx="651.2" cy="128.5" rx="2.45" ry="1.55" transform="rotate(-8 651.2 128.5)"/><ellipse cx="679.3" cy="122.4" rx="2.45" ry="1.55" transform="rotate(-8 679.3 122.4)"/><ellipse cx="707.5" cy="116.2" rx="2.45" ry="1.55" transform="rotate(-8 707.5 116.2)"/><ellipse cx="735.7" cy="110.1" rx="2.45" ry="1.55" transform="rotate(-8 735.7 110.1)"/><ellipse cx="763.9" cy="103.9" rx="2.45" ry="1.55" transform="rotate(-8 763.9 103.9)"/><ellipse cx="792.1" cy="97.8" rx="2.45" ry="1.55" transform="rotate(-8 792.1 97.8)"/><ellipse cx="109.1" cy="256.3" rx="2.45" ry="1.55" transform="rotate(-8 109.1 256.3)"/><ellipse cx="137.4" cy="250.2" rx="2.45" ry="1.55" transform="rotate(-8 137.4 250.2)"/><ellipse cx="165.6" cy="244.0" rx="2.45" ry="1.55" transform="rotate(-8 165.6 244.0)"/><ellipse cx="193.9" cy="237.8" rx="2.45" ry="1.55" transform="rotate(-8 193.9 237.8)"/><ellipse cx="222.1" cy="231.7" rx="2.45" ry="1.55" transform="rotate(-8 222.1 231.7)"/><ellipse cx="250.4" cy="225.5" rx="2.45" ry="1.55" transform="rotate(-8 250.4 225.5)"/><ellipse cx="278.6" cy="219.3" rx="2.45" ry="1.55" transform="rotate(-8 278.6 219.3)"/><ellipse cx="306.9" cy="213.2" rx="2.45" ry="1.55" transform="rotate(-8 306.9 213.2)"/><ellipse cx="335.1" cy="207.0" rx="2.45" ry="1.55" transform="rotate(-8 335.1 207.0)"/><ellipse cx="363.4" cy="200.9" rx="2.45" ry="1.55" transform="rotate(-8 363.4 200.9)"/><ellipse cx="391.6" cy="194.7" rx="2.45" ry="1.55" transform="rotate(-8 391.6 194.7)"/><ellipse cx="419.8" cy="188.5" rx="2.45" ry="1.55" transform="rotate(-8 419.8 188.5)"/><ellipse cx="448.0" cy="182.4" rx="2.45" ry="1.55" transform="rotate(-8 448.0 182.4)"/><ellipse cx="476.3" cy="176.2" rx="2.45" ry="1.55" transform="rotate(-8 476.3 176.2)"/><ellipse cx="504.5" cy="170.1" rx="2.45" ry="1.55" transform="rotate(-8 504.5 170.1)"/><ellipse cx="532.7" cy="163.9" rx="2.45" ry="1.55" transform="rotate(-8 532.7 163.9)"/><ellipse cx="560.9" cy="157.8" rx="2.45" ry="1.55" transform="rotate(-8 560.9 157.8)"/><ellipse cx="589.1" cy="151.6" rx="2.45" ry="1.55" transform="rotate(-8 589.1 151.6)"/><ellipse cx="617.3" cy="145.5" rx="2.45" ry="1.55" transform="rotate(-8 617.3 145.5)"/><ellipse cx="645.5" cy="139.3" rx="2.45" ry="1.55" transform="rotate(-8 645.5 139.3)"/><ellipse cx="673.7" cy="133.2" rx="2.45" ry="1.55" transform="rotate(-8 673.7 133.2)"/><ellipse cx="701.9" cy="127.0" rx="2.45" ry="1.55" transform="rotate(-8 701.9 127.0)"/><ellipse cx="730.1" cy="120.9" rx="2.45" ry="1.55" transform="rotate(-8 730.1 120.9)"/><ellipse cx="758.3" cy="114.7" rx="2.45" ry="1.55" transform="rotate(-8 758.3 114.7)"/><ellipse cx="786.5" cy="108.6" rx="2.45" ry="1.55" transform="rotate(-8 786.5 108.6)"/><ellipse cx="814.6" cy="102.4" rx="2.45" ry="1.55" transform="rotate(-8 814.6 102.4)"/><ellipse cx="131.6" cy="261.0" rx="2.45" ry="1.55" transform="rotate(-8 131.6 261.0)"/><ellipse cx="159.9" cy="254.8" rx="2.45" ry="1.55" transform="rotate(-8 159.9 254.8)"/><ellipse cx="188.2" cy="248.7" rx="2.45" ry="1.55" transform="rotate(-8 188.2 248.7)"/><ellipse cx="216.4" cy="242.5" rx="2.45" ry="1.55" transform="rotate(-8 216.4 242.5)"/><ellipse cx="244.7" cy="236.3" rx="2.45" ry="1.55" transform="rotate(-8 244.7 236.3)"/><ellipse cx="272.9" cy="230.2" rx="2.45" ry="1.55" transform="rotate(-8 272.9 230.2)"/><ellipse cx="301.2" cy="224.0" rx="2.45" ry="1.55" transform="rotate(-8 301.2 224.0)"/><ellipse cx="329.4" cy="217.8" rx="2.45" ry="1.55" transform="rotate(-8 329.4 217.8)"/><ellipse cx="357.7" cy="211.7" rx="2.45" ry="1.55" transform="rotate(-8 357.7 211.7)"/><ellipse cx="385.9" cy="205.5" rx="2.45" ry="1.55" transform="rotate(-8 385.9 205.5)"/><ellipse cx="414.2" cy="199.4" rx="2.45" ry="1.55" transform="rotate(-8 414.2 199.4)"/><ellipse cx="442.4" cy="193.2" rx="2.45" ry="1.55" transform="rotate(-8 442.4 193.2)"/><ellipse cx="470.6" cy="187.1" rx="2.45" ry="1.55" transform="rotate(-8 470.6 187.1)"/><ellipse cx="498.8" cy="180.9" rx="2.45" ry="1.55" transform="rotate(-8 498.8 180.9)"/><ellipse cx="527.1" cy="174.7" rx="2.45" ry="1.55" transform="rotate(-8 527.1 174.7)"/><ellipse cx="555.3" cy="168.6" rx="2.45" ry="1.55" transform="rotate(-8 555.3 168.6)"/><ellipse cx="583.5" cy="162.4" rx="2.45" ry="1.55" transform="rotate(-8 583.5 162.4)"/><ellipse cx="611.7" cy="156.3" rx="2.45" ry="1.55" transform="rotate(-8 611.7 156.3)"/><ellipse cx="639.9" cy="150.1" rx="2.45" ry="1.55" transform="rotate(-8 639.9 150.1)"/><ellipse cx="668.1" cy="144.0" rx="2.45" ry="1.55" transform="rotate(-8 668.1 144.0)"/><ellipse cx="696.3" cy="137.8" rx="2.45" ry="1.55" transform="rotate(-8 696.3 137.8)"/><ellipse cx="724.5" cy="131.7" rx="2.45" ry="1.55" transform="rotate(-8 724.5 131.7)"/><ellipse cx="752.7" cy="125.5" rx="2.45" ry="1.55" transform="rotate(-8 752.7 125.5)"/><ellipse cx="780.9" cy="119.4" rx="2.45" ry="1.55" transform="rotate(-8 780.9 119.4)"/><ellipse cx="809.0" cy="113.2" rx="2.45" ry="1.55" transform="rotate(-8 809.0 113.2)"/><ellipse cx="125.9" cy="271.8" rx="2.45" ry="1.55" transform="rotate(-8 125.9 271.8)"/><ellipse cx="154.2" cy="265.7" rx="2.45" ry="1.55" transform="rotate(-8 154.2 265.7)"/><ellipse cx="182.5" cy="259.5" rx="2.45" ry="1.55" transform="rotate(-8 182.5 259.5)"/><ellipse cx="210.7" cy="253.3" rx="2.45" ry="1.55" transform="rotate(-8 210.7 253.3)"/><ellipse cx="239.0" cy="247.2" rx="2.45" ry="1.55" transform="rotate(-8 239.0 247.2)"/><ellipse cx="267.3" cy="241.0" rx="2.45" ry="1.55" transform="rotate(-8 267.3 241.0)"/><ellipse cx="295.5" cy="234.8" rx="2.45" ry="1.55" transform="rotate(-8 295.5 234.8)"/><ellipse cx="323.8" cy="228.7" rx="2.45" ry="1.55" transform="rotate(-8 323.8 228.7)"/><ellipse cx="352.0" cy="222.5" rx="2.45" ry="1.55" transform="rotate(-8 352.0 222.5)"/><ellipse cx="380.3" cy="216.4" rx="2.45" ry="1.55" transform="rotate(-8 380.3 216.4)"/><ellipse cx="408.5" cy="210.2" rx="2.45" ry="1.55" transform="rotate(-8 408.5 210.2)"/><ellipse cx="436.7" cy="204.0" rx="2.45" ry="1.55" transform="rotate(-8 436.7 204.0)"/><ellipse cx="465.0" cy="197.9" rx="2.45" ry="1.55" transform="rotate(-8 465.0 197.9)"/><ellipse cx="493.2" cy="191.7" rx="2.45" ry="1.55" transform="rotate(-8 493.2 191.7)"/><ellipse cx="521.4" cy="185.6" rx="2.45" ry="1.55" transform="rotate(-8 521.4 185.6)"/><ellipse cx="549.6" cy="179.4" rx="2.45" ry="1.55" transform="rotate(-8 549.6 179.4)"/><ellipse cx="577.8" cy="173.3" rx="2.45" ry="1.55" transform="rotate(-8 577.8 173.3)"/><ellipse cx="606.1" cy="167.1" rx="2.45" ry="1.55" transform="rotate(-8 606.1 167.1)"/><ellipse cx="634.3" cy="160.9" rx="2.45" ry="1.55" transform="rotate(-8 634.3 160.9)"/><ellipse cx="662.5" cy="154.8" rx="2.45" ry="1.55" transform="rotate(-8 662.5 154.8)"/><ellipse cx="690.7" cy="148.6" rx="2.45" ry="1.55" transform="rotate(-8 690.7 148.6)"/><ellipse cx="718.9" cy="142.5" rx="2.45" ry="1.55" transform="rotate(-8 718.9 142.5)"/><ellipse cx="747.1" cy="136.3" rx="2.45" ry="1.55" transform="rotate(-8 747.1 136.3)"/><ellipse cx="775.2" cy="130.2" rx="2.45" ry="1.55" transform="rotate(-8 775.2 130.2)"/><ellipse cx="803.4" cy="124.0" rx="2.45" ry="1.55" transform="rotate(-8 803.4 124.0)"/><ellipse cx="831.6" cy="117.9" rx="2.45" ry="1.55" transform="rotate(-8 831.6 117.9)"/><ellipse cx="148.5" cy="276.5" rx="2.45" ry="1.55" transform="rotate(-8 148.5 276.5)"/><ellipse cx="176.8" cy="270.3" rx="2.45" ry="1.55" transform="rotate(-8 176.8 270.3)"/><ellipse cx="205.0" cy="264.2" rx="2.45" ry="1.55" transform="rotate(-8 205.0 264.2)"/><ellipse cx="233.3" cy="258.0" rx="2.45" ry="1.55" transform="rotate(-8 233.3 258.0)"/><ellipse cx="261.6" cy="251.8" rx="2.45" ry="1.55" transform="rotate(-8 261.6 251.8)"/><ellipse cx="289.8" cy="245.7" rx="2.45" ry="1.55" transform="rotate(-8 289.8 245.7)"/><ellipse cx="318.1" cy="239.5" rx="2.45" ry="1.55" transform="rotate(-8 318.1 239.5)"/><ellipse cx="346.3" cy="233.3" rx="2.45" ry="1.55" transform="rotate(-8 346.3 233.3)"/><ellipse cx="374.6" cy="227.2" rx="2.45" ry="1.55" transform="rotate(-8 374.6 227.2)"/><ellipse cx="402.8" cy="221.0" rx="2.45" ry="1.55" transform="rotate(-8 402.8 221.0)"/><ellipse cx="431.1" cy="214.9" rx="2.45" ry="1.55" transform="rotate(-8 431.1 214.9)"/><ellipse cx="459.3" cy="208.7" rx="2.45" ry="1.55" transform="rotate(-8 459.3 208.7)"/><ellipse cx="487.5" cy="202.5" rx="2.45" ry="1.55" transform="rotate(-8 487.5 202.5)"/><ellipse cx="515.8" cy="196.4" rx="2.45" ry="1.55" transform="rotate(-8 515.8 196.4)"/><ellipse cx="544.0" cy="190.2" rx="2.45" ry="1.55" transform="rotate(-8 544.0 190.2)"/><ellipse cx="572.2" cy="184.1" rx="2.45" ry="1.55" transform="rotate(-8 572.2 184.1)"/><ellipse cx="600.4" cy="177.9" rx="2.45" ry="1.55" transform="rotate(-8 600.4 177.9)"/><ellipse cx="628.6" cy="171.8" rx="2.45" ry="1.55" transform="rotate(-8 628.6 171.8)"/><ellipse cx="656.8" cy="165.6" rx="2.45" ry="1.55" transform="rotate(-8 656.8 165.6)"/><ellipse cx="685.0" cy="159.5" rx="2.45" ry="1.55" transform="rotate(-8 685.0 159.5)"/><ellipse cx="713.2" cy="153.3" rx="2.45" ry="1.55" transform="rotate(-8 713.2 153.3)"/><ellipse cx="741.4" cy="147.1" rx="2.45" ry="1.55" transform="rotate(-8 741.4 147.1)"/><ellipse cx="769.6" cy="141.0" rx="2.45" ry="1.55" transform="rotate(-8 769.6 141.0)"/><ellipse cx="797.8" cy="134.8" rx="2.45" ry="1.55" transform="rotate(-8 797.8 134.8)"/><ellipse cx="826.0" cy="128.7" rx="2.45" ry="1.55" transform="rotate(-8 826.0 128.7)"/><ellipse cx="142.8" cy="287.4" rx="2.45" ry="1.55" transform="rotate(-8 142.8 287.4)"/><ellipse cx="171.1" cy="281.2" rx="2.45" ry="1.55" transform="rotate(-8 171.1 281.2)"/><ellipse cx="199.3" cy="275.0" rx="2.45" ry="1.55" transform="rotate(-8 199.3 275.0)"/><ellipse cx="227.6" cy="268.8" rx="2.45" ry="1.55" transform="rotate(-8 227.6 268.8)"/><ellipse cx="255.9" cy="262.7" rx="2.45" ry="1.55" transform="rotate(-8 255.9 262.7)"/><ellipse cx="284.1" cy="256.5" rx="2.45" ry="1.55" transform="rotate(-8 284.1 256.5)"/><ellipse cx="312.4" cy="250.3" rx="2.45" ry="1.55" transform="rotate(-8 312.4 250.3)"/><ellipse cx="340.7" cy="244.2" rx="2.45" ry="1.55" transform="rotate(-8 340.7 244.2)"/><ellipse cx="368.9" cy="238.0" rx="2.45" ry="1.55" transform="rotate(-8 368.9 238.0)"/><ellipse cx="397.1" cy="231.9" rx="2.45" ry="1.55" transform="rotate(-8 397.1 231.9)"/><ellipse cx="425.4" cy="225.7" rx="2.45" ry="1.55" transform="rotate(-8 425.4 225.7)"/><ellipse cx="453.6" cy="219.5" rx="2.45" ry="1.55" transform="rotate(-8 453.6 219.5)"/><ellipse cx="481.9" cy="213.4" rx="2.45" ry="1.55" transform="rotate(-8 481.9 213.4)"/><ellipse cx="510.1" cy="207.2" rx="2.45" ry="1.55" transform="rotate(-8 510.1 207.2)"/><ellipse cx="538.3" cy="201.1" rx="2.45" ry="1.55" transform="rotate(-8 538.3 201.1)"/><ellipse cx="566.5" cy="194.9" rx="2.45" ry="1.55" transform="rotate(-8 566.5 194.9)"/><ellipse cx="594.8" cy="188.7" rx="2.45" ry="1.55" transform="rotate(-8 594.8 188.7)"/><ellipse cx="623.0" cy="182.6" rx="2.45" ry="1.55" transform="rotate(-8 623.0 182.6)"/><ellipse cx="651.2" cy="176.4" rx="2.45" ry="1.55" transform="rotate(-8 651.2 176.4)"/><ellipse cx="679.4" cy="170.3" rx="2.45" ry="1.55" transform="rotate(-8 679.4 170.3)"/><ellipse cx="707.6" cy="164.1" rx="2.45" ry="1.55" transform="rotate(-8 707.6 164.1)"/><ellipse cx="735.8" cy="158.0" rx="2.45" ry="1.55" transform="rotate(-8 735.8 158.0)"/><ellipse cx="764.0" cy="151.8" rx="2.45" ry="1.55" transform="rotate(-8 764.0 151.8)"/><ellipse cx="792.2" cy="145.7" rx="2.45" ry="1.55" transform="rotate(-8 792.2 145.7)"/><ellipse cx="820.4" cy="139.5" rx="2.45" ry="1.55" transform="rotate(-8 820.4 139.5)"/><ellipse cx="848.6" cy="133.4" rx="2.45" ry="1.55" transform="rotate(-8 848.6 133.4)"/><ellipse cx="165.4" cy="292.0" rx="2.45" ry="1.55" transform="rotate(-8 165.4 292.0)"/><ellipse cx="193.6" cy="285.9" rx="2.45" ry="1.55" transform="rotate(-8 193.6 285.9)"/><ellipse cx="221.9" cy="279.7" rx="2.45" ry="1.55" transform="rotate(-8 221.9 279.7)"/><ellipse cx="250.2" cy="273.5" rx="2.45" ry="1.55" transform="rotate(-8 250.2 273.5)"/><ellipse cx="278.4" cy="267.4" rx="2.45" ry="1.55" transform="rotate(-8 278.4 267.4)"/><ellipse cx="306.7" cy="261.2" rx="2.45" ry="1.55" transform="rotate(-8 306.7 261.2)"/><ellipse cx="335.0" cy="255.0" rx="2.45" ry="1.55" transform="rotate(-8 335.0 255.0)"/><ellipse cx="363.2" cy="248.9" rx="2.45" ry="1.55" transform="rotate(-8 363.2 248.9)"/><ellipse cx="391.5" cy="242.7" rx="2.45" ry="1.55" transform="rotate(-8 391.5 242.7)"/><ellipse cx="419.7" cy="236.5" rx="2.45" ry="1.55" transform="rotate(-8 419.7 236.5)"/><ellipse cx="448.0" cy="230.4" rx="2.45" ry="1.55" transform="rotate(-8 448.0 230.4)"/><ellipse cx="476.2" cy="224.2" rx="2.45" ry="1.55" transform="rotate(-8 476.2 224.2)"/><ellipse cx="504.4" cy="218.0" rx="2.45" ry="1.55" transform="rotate(-8 504.4 218.0)"/><ellipse cx="532.7" cy="211.9" rx="2.45" ry="1.55" transform="rotate(-8 532.7 211.9)"/><ellipse cx="560.9" cy="205.7" rx="2.45" ry="1.55" transform="rotate(-8 560.9 205.7)"/><ellipse cx="589.1" cy="199.6" rx="2.45" ry="1.55" transform="rotate(-8 589.1 199.6)"/><ellipse cx="617.3" cy="193.4" rx="2.45" ry="1.55" transform="rotate(-8 617.3 193.4)"/><ellipse cx="645.6" cy="187.2" rx="2.45" ry="1.55" transform="rotate(-8 645.6 187.2)"/><ellipse cx="673.8" cy="181.1" rx="2.45" ry="1.55" transform="rotate(-8 673.8 181.1)"/><ellipse cx="702.0" cy="174.9" rx="2.45" ry="1.55" transform="rotate(-8 702.0 174.9)"/><ellipse cx="730.2" cy="168.8" rx="2.45" ry="1.55" transform="rotate(-8 730.2 168.8)"/><ellipse cx="758.4" cy="162.6" rx="2.45" ry="1.55" transform="rotate(-8 758.4 162.6)"/><ellipse cx="786.6" cy="156.5" rx="2.45" ry="1.55" transform="rotate(-8 786.6 156.5)"/><ellipse cx="814.8" cy="150.3" rx="2.45" ry="1.55" transform="rotate(-8 814.8 150.3)"/><ellipse cx="843.0" cy="144.2" rx="2.45" ry="1.55" transform="rotate(-8 843.0 144.2)"/><ellipse cx="159.7" cy="302.9" rx="2.45" ry="1.55" transform="rotate(-8 159.7 302.9)"/><ellipse cx="187.9" cy="296.7" rx="2.45" ry="1.55" transform="rotate(-8 187.9 296.7)"/><ellipse cx="216.2" cy="290.5" rx="2.45" ry="1.55" transform="rotate(-8 216.2 290.5)"/><ellipse cx="244.5" cy="284.4" rx="2.45" ry="1.55" transform="rotate(-8 244.5 284.4)"/><ellipse cx="272.8" cy="278.2" rx="2.45" ry="1.55" transform="rotate(-8 272.8 278.2)"/><ellipse cx="301.0" cy="272.0" rx="2.45" ry="1.55" transform="rotate(-8 301.0 272.0)"/><ellipse cx="329.3" cy="265.9" rx="2.45" ry="1.55" transform="rotate(-8 329.3 265.9)"/><ellipse cx="357.5" cy="259.7" rx="2.45" ry="1.55" transform="rotate(-8 357.5 259.7)"/><ellipse cx="385.8" cy="253.5" rx="2.45" ry="1.55" transform="rotate(-8 385.8 253.5)"/><ellipse cx="414.1" cy="247.4" rx="2.45" ry="1.55" transform="rotate(-8 414.1 247.4)"/><ellipse cx="442.3" cy="241.2" rx="2.45" ry="1.55" transform="rotate(-8 442.3 241.2)"/><ellipse cx="470.5" cy="235.0" rx="2.45" ry="1.55" transform="rotate(-8 470.5 235.0)"/><ellipse cx="498.8" cy="228.9" rx="2.45" ry="1.55" transform="rotate(-8 498.8 228.9)"/><ellipse cx="527.0" cy="222.7" rx="2.45" ry="1.55" transform="rotate(-8 527.0 222.7)"/><ellipse cx="555.3" cy="216.5" rx="2.45" ry="1.55" transform="rotate(-8 555.3 216.5)"/><ellipse cx="583.5" cy="210.4" rx="2.45" ry="1.55" transform="rotate(-8 583.5 210.4)"/><ellipse cx="611.7" cy="204.2" rx="2.45" ry="1.55" transform="rotate(-8 611.7 204.2)"/><ellipse cx="639.9" cy="198.1" rx="2.45" ry="1.55" transform="rotate(-8 639.9 198.1)"/><ellipse cx="668.1" cy="191.9" rx="2.45" ry="1.55" transform="rotate(-8 668.1 191.9)"/><ellipse cx="696.4" cy="185.8" rx="2.45" ry="1.55" transform="rotate(-8 696.4 185.8)"/><ellipse cx="724.6" cy="179.6" rx="2.45" ry="1.55" transform="rotate(-8 724.6 179.6)"/><ellipse cx="752.8" cy="173.4" rx="2.45" ry="1.55" transform="rotate(-8 752.8 173.4)"/><ellipse cx="781.0" cy="167.3" rx="2.45" ry="1.55" transform="rotate(-8 781.0 167.3)"/><ellipse cx="809.2" cy="161.1" rx="2.45" ry="1.55" transform="rotate(-8 809.2 161.1)"/><ellipse cx="837.4" cy="155.0" rx="2.45" ry="1.55" transform="rotate(-8 837.4 155.0)"/><ellipse cx="865.6" cy="148.8" rx="2.45" ry="1.55" transform="rotate(-8 865.6 148.8)"/><ellipse cx="153.9" cy="313.7" rx="2.45" ry="1.55" transform="rotate(-8 153.9 313.7)"/><ellipse cx="182.2" cy="307.6" rx="2.45" ry="1.55" transform="rotate(-8 182.2 307.6)"/><ellipse cx="210.5" cy="301.4" rx="2.45" ry="1.55" transform="rotate(-8 210.5 301.4)"/><ellipse cx="238.8" cy="295.2" rx="2.45" ry="1.55" transform="rotate(-8 238.8 295.2)"/><ellipse cx="267.1" cy="289.0" rx="2.45" ry="1.55" transform="rotate(-8 267.1 289.0)"/><ellipse cx="295.3" cy="282.9" rx="2.45" ry="1.55" transform="rotate(-8 295.3 282.9)"/><ellipse cx="323.6" cy="276.7" rx="2.45" ry="1.55" transform="rotate(-8 323.6 276.7)"/><ellipse cx="351.9" cy="270.5" rx="2.45" ry="1.55" transform="rotate(-8 351.9 270.5)"/><ellipse cx="380.1" cy="264.4" rx="2.45" ry="1.55" transform="rotate(-8 380.1 264.4)"/><ellipse cx="408.4" cy="258.2" rx="2.45" ry="1.55" transform="rotate(-8 408.4 258.2)"/><ellipse cx="436.6" cy="252.0" rx="2.45" ry="1.55" transform="rotate(-8 436.6 252.0)"/><ellipse cx="464.9" cy="245.9" rx="2.45" ry="1.55" transform="rotate(-8 464.9 245.9)"/><ellipse cx="493.1" cy="239.7" rx="2.45" ry="1.55" transform="rotate(-8 493.1 239.7)"/><ellipse cx="521.4" cy="233.5" rx="2.45" ry="1.55" transform="rotate(-8 521.4 233.5)"/><ellipse cx="549.6" cy="227.4" rx="2.45" ry="1.55" transform="rotate(-8 549.6 227.4)"/><ellipse cx="577.8" cy="221.2" rx="2.45" ry="1.55" transform="rotate(-8 577.8 221.2)"/><ellipse cx="606.1" cy="215.1" rx="2.45" ry="1.55" transform="rotate(-8 606.1 215.1)"/><ellipse cx="634.3" cy="208.9" rx="2.45" ry="1.55" transform="rotate(-8 634.3 208.9)"/><ellipse cx="662.5" cy="202.7" rx="2.45" ry="1.55" transform="rotate(-8 662.5 202.7)"/><ellipse cx="690.7" cy="196.6" rx="2.45" ry="1.55" transform="rotate(-8 690.7 196.6)"/><ellipse cx="718.9" cy="190.4" rx="2.45" ry="1.55" transform="rotate(-8 718.9 190.4)"/><ellipse cx="747.2" cy="184.3" rx="2.45" ry="1.55" transform="rotate(-8 747.2 184.3)"/><ellipse cx="775.4" cy="178.1" rx="2.45" ry="1.55" transform="rotate(-8 775.4 178.1)"/><ellipse cx="803.6" cy="171.9" rx="2.45" ry="1.55" transform="rotate(-8 803.6 171.9)"/><ellipse cx="831.8" cy="165.8" rx="2.45" ry="1.55" transform="rotate(-8 831.8 165.8)"/><ellipse cx="860.0" cy="159.6" rx="2.45" ry="1.55" transform="rotate(-8 860.0 159.6)"/><ellipse cx="888.1" cy="153.5" rx="2.45" ry="1.55" transform="rotate(-8 888.1 153.5)"/><ellipse cx="176.5" cy="318.4" rx="2.45" ry="1.55" transform="rotate(-8 176.5 318.4)"/><ellipse cx="204.8" cy="312.2" rx="2.45" ry="1.55" transform="rotate(-8 204.8 312.2)"/><ellipse cx="233.1" cy="306.1" rx="2.45" ry="1.55" transform="rotate(-8 233.1 306.1)"/><ellipse cx="261.4" cy="299.9" rx="2.45" ry="1.55" transform="rotate(-8 261.4 299.9)"/><ellipse cx="289.6" cy="293.7" rx="2.45" ry="1.55" transform="rotate(-8 289.6 293.7)"/><ellipse cx="317.9" cy="287.5" rx="2.45" ry="1.55" transform="rotate(-8 317.9 287.5)"/><ellipse cx="346.2" cy="281.4" rx="2.45" ry="1.55" transform="rotate(-8 346.2 281.4)"/><ellipse cx="374.4" cy="275.2" rx="2.45" ry="1.55" transform="rotate(-8 374.4 275.2)"/><ellipse cx="402.7" cy="269.0" rx="2.45" ry="1.55" transform="rotate(-8 402.7 269.0)"/><ellipse cx="431.0" cy="262.9" rx="2.45" ry="1.55" transform="rotate(-8 431.0 262.9)"/><ellipse cx="459.2" cy="256.7" rx="2.45" ry="1.55" transform="rotate(-8 459.2 256.7)"/><ellipse cx="487.5" cy="250.5" rx="2.45" ry="1.55" transform="rotate(-8 487.5 250.5)"/><ellipse cx="515.7" cy="244.4" rx="2.45" ry="1.55" transform="rotate(-8 515.7 244.4)"/><ellipse cx="544.0" cy="238.2" rx="2.45" ry="1.55" transform="rotate(-8 544.0 238.2)"/><ellipse cx="572.2" cy="232.0" rx="2.45" ry="1.55" transform="rotate(-8 572.2 232.0)"/><ellipse cx="600.4" cy="225.9" rx="2.45" ry="1.55" transform="rotate(-8 600.4 225.9)"/><ellipse cx="628.6" cy="219.7" rx="2.45" ry="1.55" transform="rotate(-8 628.6 219.7)"/><ellipse cx="656.9" cy="213.6" rx="2.45" ry="1.55" transform="rotate(-8 656.9 213.6)"/><ellipse cx="685.1" cy="207.4" rx="2.45" ry="1.55" transform="rotate(-8 685.1 207.4)"/><ellipse cx="713.3" cy="201.2" rx="2.45" ry="1.55" transform="rotate(-8 713.3 201.2)"/><ellipse cx="741.5" cy="195.1" rx="2.45" ry="1.55" transform="rotate(-8 741.5 195.1)"/><ellipse cx="769.7" cy="188.9" rx="2.45" ry="1.55" transform="rotate(-8 769.7 188.9)"/><ellipse cx="797.9" cy="182.8" rx="2.45" ry="1.55" transform="rotate(-8 797.9 182.8)"/><ellipse cx="826.1" cy="176.6" rx="2.45" ry="1.55" transform="rotate(-8 826.1 176.6)"/><ellipse cx="854.3" cy="170.5" rx="2.45" ry="1.55" transform="rotate(-8 854.3 170.5)"/><ellipse cx="882.5" cy="164.3" rx="2.45" ry="1.55" transform="rotate(-8 882.5 164.3)"/><ellipse cx="170.8" cy="329.3" rx="2.45" ry="1.55" transform="rotate(-8 170.8 329.3)"/><ellipse cx="199.1" cy="323.1" rx="2.45" ry="1.55" transform="rotate(-8 199.1 323.1)"/><ellipse cx="227.4" cy="316.9" rx="2.45" ry="1.55" transform="rotate(-8 227.4 316.9)"/><ellipse cx="255.7" cy="310.7" rx="2.45" ry="1.55" transform="rotate(-8 255.7 310.7)"/><ellipse cx="284.0" cy="304.6" rx="2.45" ry="1.55" transform="rotate(-8 284.0 304.6)"/><ellipse cx="312.2" cy="298.4" rx="2.45" ry="1.55" transform="rotate(-8 312.2 298.4)"/><ellipse cx="340.5" cy="292.2" rx="2.45" ry="1.55" transform="rotate(-8 340.5 292.2)"/><ellipse cx="368.8" cy="286.1" rx="2.45" ry="1.55" transform="rotate(-8 368.8 286.1)"/><ellipse cx="397.0" cy="279.9" rx="2.45" ry="1.55" transform="rotate(-8 397.0 279.9)"/><ellipse cx="425.3" cy="273.7" rx="2.45" ry="1.55" transform="rotate(-8 425.3 273.7)"/><ellipse cx="453.6" cy="267.5" rx="2.45" ry="1.55" transform="rotate(-8 453.6 267.5)"/><ellipse cx="481.8" cy="261.4" rx="2.45" ry="1.55" transform="rotate(-8 481.8 261.4)"/><ellipse cx="510.1" cy="255.2" rx="2.45" ry="1.55" transform="rotate(-8 510.1 255.2)"/><ellipse cx="538.3" cy="249.0" rx="2.45" ry="1.55" transform="rotate(-8 538.3 249.0)"/><ellipse cx="566.5" cy="242.9" rx="2.45" ry="1.55" transform="rotate(-8 566.5 242.9)"/><ellipse cx="594.8" cy="236.7" rx="2.45" ry="1.55" transform="rotate(-8 594.8 236.7)"/><ellipse cx="623.0" cy="230.6" rx="2.45" ry="1.55" transform="rotate(-8 623.0 230.6)"/><ellipse cx="651.2" cy="224.4" rx="2.45" ry="1.55" transform="rotate(-8 651.2 224.4)"/><ellipse cx="679.5" cy="218.2" rx="2.45" ry="1.55" transform="rotate(-8 679.5 218.2)"/><ellipse cx="707.7" cy="212.1" rx="2.45" ry="1.55" transform="rotate(-8 707.7 212.1)"/><ellipse cx="735.9" cy="205.9" rx="2.45" ry="1.55" transform="rotate(-8 735.9 205.9)"/><ellipse cx="764.1" cy="199.7" rx="2.45" ry="1.55" transform="rotate(-8 764.1 199.7)"/><ellipse cx="792.3" cy="193.6" rx="2.45" ry="1.55" transform="rotate(-8 792.3 193.6)"/><ellipse cx="820.5" cy="187.4" rx="2.45" ry="1.55" transform="rotate(-8 820.5 187.4)"/><ellipse cx="848.7" cy="181.3" rx="2.45" ry="1.55" transform="rotate(-8 848.7 181.3)"/><ellipse cx="876.9" cy="175.1" rx="2.45" ry="1.55" transform="rotate(-8 876.9 175.1)"/><ellipse cx="905.1" cy="169.0" rx="2.45" ry="1.55" transform="rotate(-8 905.1 169.0)"/><ellipse cx="193.4" cy="333.9" rx="2.45" ry="1.55" transform="rotate(-8 193.4 333.9)"/><ellipse cx="221.7" cy="327.8" rx="2.45" ry="1.55" transform="rotate(-8 221.7 327.8)"/><ellipse cx="250.0" cy="321.6" rx="2.45" ry="1.55" transform="rotate(-8 250.0 321.6)"/><ellipse cx="278.3" cy="315.4" rx="2.45" ry="1.55" transform="rotate(-8 278.3 315.4)"/><ellipse cx="306.5" cy="309.2" rx="2.45" ry="1.55" transform="rotate(-8 306.5 309.2)"/><ellipse cx="334.8" cy="303.1" rx="2.45" ry="1.55" transform="rotate(-8 334.8 303.1)"/><ellipse cx="363.1" cy="296.9" rx="2.45" ry="1.55" transform="rotate(-8 363.1 296.9)"/><ellipse cx="391.4" cy="290.7" rx="2.45" ry="1.55" transform="rotate(-8 391.4 290.7)"/><ellipse cx="419.6" cy="284.6" rx="2.45" ry="1.55" transform="rotate(-8 419.6 284.6)"/><ellipse cx="447.9" cy="278.4" rx="2.45" ry="1.55" transform="rotate(-8 447.9 278.4)"/><ellipse cx="476.1" cy="272.2" rx="2.45" ry="1.55" transform="rotate(-8 476.1 272.2)"/><ellipse cx="504.4" cy="266.1" rx="2.45" ry="1.55" transform="rotate(-8 504.4 266.1)"/><ellipse cx="532.6" cy="259.9" rx="2.45" ry="1.55" transform="rotate(-8 532.6 259.9)"/><ellipse cx="560.9" cy="253.7" rx="2.45" ry="1.55" transform="rotate(-8 560.9 253.7)"/><ellipse cx="589.1" cy="247.6" rx="2.45" ry="1.55" transform="rotate(-8 589.1 247.6)"/><ellipse cx="617.4" cy="241.4" rx="2.45" ry="1.55" transform="rotate(-8 617.4 241.4)"/><ellipse cx="645.6" cy="235.2" rx="2.45" ry="1.55" transform="rotate(-8 645.6 235.2)"/><ellipse cx="673.8" cy="229.1" rx="2.45" ry="1.55" transform="rotate(-8 673.8 229.1)"/><ellipse cx="702.1" cy="222.9" rx="2.45" ry="1.55" transform="rotate(-8 702.1 222.9)"/><ellipse cx="730.3" cy="216.7" rx="2.45" ry="1.55" transform="rotate(-8 730.3 216.7)"/><ellipse cx="758.5" cy="210.6" rx="2.45" ry="1.55" transform="rotate(-8 758.5 210.6)"/><ellipse cx="786.7" cy="204.4" rx="2.45" ry="1.55" transform="rotate(-8 786.7 204.4)"/><ellipse cx="814.9" cy="198.3" rx="2.45" ry="1.55" transform="rotate(-8 814.9 198.3)"/><ellipse cx="843.1" cy="192.1" rx="2.45" ry="1.55" transform="rotate(-8 843.1 192.1)"/><ellipse cx="871.3" cy="185.9" rx="2.45" ry="1.55" transform="rotate(-8 871.3 185.9)"/><ellipse cx="899.5" cy="179.8" rx="2.45" ry="1.55" transform="rotate(-8 899.5 179.8)"/><ellipse cx="187.7" cy="344.8" rx="2.45" ry="1.55" transform="rotate(-8 187.7 344.8)"/><ellipse cx="216.0" cy="338.6" rx="2.45" ry="1.55" transform="rotate(-8 216.0 338.6)"/><ellipse cx="244.3" cy="332.5" rx="2.45" ry="1.55" transform="rotate(-8 244.3 332.5)"/><ellipse cx="272.6" cy="326.3" rx="2.45" ry="1.55" transform="rotate(-8 272.6 326.3)"/><ellipse cx="300.9" cy="320.1" rx="2.45" ry="1.55" transform="rotate(-8 300.9 320.1)"/><ellipse cx="329.1" cy="313.9" rx="2.45" ry="1.55" transform="rotate(-8 329.1 313.9)"/><ellipse cx="357.4" cy="307.8" rx="2.45" ry="1.55" transform="rotate(-8 357.4 307.8)"/><ellipse cx="385.7" cy="301.6" rx="2.45" ry="1.55" transform="rotate(-8 385.7 301.6)"/><ellipse cx="413.9" cy="295.4" rx="2.45" ry="1.55" transform="rotate(-8 413.9 295.4)"/><ellipse cx="442.2" cy="289.2" rx="2.45" ry="1.55" transform="rotate(-8 442.2 289.2)"/><ellipse cx="470.5" cy="283.1" rx="2.45" ry="1.55" transform="rotate(-8 470.5 283.1)"/><ellipse cx="498.7" cy="276.9" rx="2.45" ry="1.55" transform="rotate(-8 498.7 276.9)"/><ellipse cx="527.0" cy="270.7" rx="2.45" ry="1.55" transform="rotate(-8 527.0 270.7)"/><ellipse cx="555.2" cy="264.6" rx="2.45" ry="1.55" transform="rotate(-8 555.2 264.6)"/><ellipse cx="583.5" cy="258.4" rx="2.45" ry="1.55" transform="rotate(-8 583.5 258.4)"/><ellipse cx="611.7" cy="252.2" rx="2.45" ry="1.55" transform="rotate(-8 611.7 252.2)"/><ellipse cx="640.0" cy="246.1" rx="2.45" ry="1.55" transform="rotate(-8 640.0 246.1)"/><ellipse cx="668.2" cy="239.9" rx="2.45" ry="1.55" transform="rotate(-8 668.2 239.9)"/><ellipse cx="696.4" cy="233.7" rx="2.45" ry="1.55" transform="rotate(-8 696.4 233.7)"/><ellipse cx="724.7" cy="227.6" rx="2.45" ry="1.55" transform="rotate(-8 724.7 227.6)"/><ellipse cx="752.9" cy="221.4" rx="2.45" ry="1.55" transform="rotate(-8 752.9 221.4)"/><ellipse cx="781.1" cy="215.2" rx="2.45" ry="1.55" transform="rotate(-8 781.1 215.2)"/><ellipse cx="809.3" cy="209.1" rx="2.45" ry="1.55" transform="rotate(-8 809.3 209.1)"/><ellipse cx="837.5" cy="202.9" rx="2.45" ry="1.55" transform="rotate(-8 837.5 202.9)"/><ellipse cx="865.7" cy="196.8" rx="2.45" ry="1.55" transform="rotate(-8 865.7 196.8)"/><ellipse cx="893.9" cy="190.6" rx="2.45" ry="1.55" transform="rotate(-8 893.9 190.6)"/><ellipse cx="922.1" cy="184.4" rx="2.45" ry="1.55" transform="rotate(-8 922.1 184.4)"/><ellipse cx="210.3" cy="349.5" rx="2.45" ry="1.55" transform="rotate(-8 210.3 349.5)"/><ellipse cx="238.6" cy="343.3" rx="2.45" ry="1.55" transform="rotate(-8 238.6 343.3)"/><ellipse cx="266.9" cy="337.1" rx="2.45" ry="1.55" transform="rotate(-8 266.9 337.1)"/><ellipse cx="295.2" cy="331.0" rx="2.45" ry="1.55" transform="rotate(-8 295.2 331.0)"/><ellipse cx="323.4" cy="324.8" rx="2.45" ry="1.55" transform="rotate(-8 323.4 324.8)"/><ellipse cx="351.7" cy="318.6" rx="2.45" ry="1.55" transform="rotate(-8 351.7 318.6)"/><ellipse cx="380.0" cy="312.4" rx="2.45" ry="1.55" transform="rotate(-8 380.0 312.4)"/><ellipse cx="408.3" cy="306.3" rx="2.45" ry="1.55" transform="rotate(-8 408.3 306.3)"/><ellipse cx="436.5" cy="300.1" rx="2.45" ry="1.55" transform="rotate(-8 436.5 300.1)"/><ellipse cx="464.8" cy="293.9" rx="2.45" ry="1.55" transform="rotate(-8 464.8 293.9)"/><ellipse cx="493.1" cy="287.7" rx="2.45" ry="1.55" transform="rotate(-8 493.1 287.7)"/><ellipse cx="521.3" cy="281.6" rx="2.45" ry="1.55" transform="rotate(-8 521.3 281.6)"/><ellipse cx="549.6" cy="275.4" rx="2.45" ry="1.55" transform="rotate(-8 549.6 275.4)"/><ellipse cx="577.8" cy="269.2" rx="2.45" ry="1.55" transform="rotate(-8 577.8 269.2)"/><ellipse cx="606.1" cy="263.1" rx="2.45" ry="1.55" transform="rotate(-8 606.1 263.1)"/><ellipse cx="634.3" cy="256.9" rx="2.45" ry="1.55" transform="rotate(-8 634.3 256.9)"/><ellipse cx="662.6" cy="250.7" rx="2.45" ry="1.55" transform="rotate(-8 662.6 250.7)"/><ellipse cx="690.8" cy="244.6" rx="2.45" ry="1.55" transform="rotate(-8 690.8 244.6)"/><ellipse cx="719.0" cy="238.4" rx="2.45" ry="1.55" transform="rotate(-8 719.0 238.4)"/><ellipse cx="747.2" cy="232.2" rx="2.45" ry="1.55" transform="rotate(-8 747.2 232.2)"/><ellipse cx="775.5" cy="226.1" rx="2.45" ry="1.55" transform="rotate(-8 775.5 226.1)"/><ellipse cx="803.7" cy="219.9" rx="2.45" ry="1.55" transform="rotate(-8 803.7 219.9)"/><ellipse cx="831.9" cy="213.8" rx="2.45" ry="1.55" transform="rotate(-8 831.9 213.8)"/><ellipse cx="860.1" cy="207.6" rx="2.45" ry="1.55" transform="rotate(-8 860.1 207.6)"/><ellipse cx="888.3" cy="201.4" rx="2.45" ry="1.55" transform="rotate(-8 888.3 201.4)"/><ellipse cx="916.5" cy="195.3" rx="2.45" ry="1.55" transform="rotate(-8 916.5 195.3)"/><ellipse cx="204.6" cy="360.4" rx="2.45" ry="1.55" transform="rotate(-8 204.6 360.4)"/><ellipse cx="232.9" cy="354.2" rx="2.45" ry="1.55" transform="rotate(-8 232.9 354.2)"/><ellipse cx="261.2" cy="348.0" rx="2.45" ry="1.55" transform="rotate(-8 261.2 348.0)"/><ellipse cx="289.5" cy="341.8" rx="2.45" ry="1.55" transform="rotate(-8 289.5 341.8)"/><ellipse cx="317.8" cy="335.6" rx="2.45" ry="1.55" transform="rotate(-8 317.8 335.6)"/><ellipse cx="346.0" cy="329.5" rx="2.45" ry="1.55" transform="rotate(-8 346.0 329.5)"/><ellipse cx="374.3" cy="323.3" rx="2.45" ry="1.55" transform="rotate(-8 374.3 323.3)"/><ellipse cx="402.6" cy="317.1" rx="2.45" ry="1.55" transform="rotate(-8 402.6 317.1)"/><ellipse cx="430.9" cy="310.9" rx="2.45" ry="1.55" transform="rotate(-8 430.9 310.9)"/><ellipse cx="459.1" cy="304.8" rx="2.45" ry="1.55" transform="rotate(-8 459.1 304.8)"/><ellipse cx="487.4" cy="298.6" rx="2.45" ry="1.55" transform="rotate(-8 487.4 298.6)"/><ellipse cx="515.7" cy="292.4" rx="2.45" ry="1.55" transform="rotate(-8 515.7 292.4)"/><ellipse cx="543.9" cy="286.2" rx="2.45" ry="1.55" transform="rotate(-8 543.9 286.2)"/><ellipse cx="572.2" cy="280.1" rx="2.45" ry="1.55" transform="rotate(-8 572.2 280.1)"/><ellipse cx="600.4" cy="273.9" rx="2.45" ry="1.55" transform="rotate(-8 600.4 273.9)"/><ellipse cx="628.7" cy="267.7" rx="2.45" ry="1.55" transform="rotate(-8 628.7 267.7)"/><ellipse cx="656.9" cy="261.6" rx="2.45" ry="1.55" transform="rotate(-8 656.9 261.6)"/><ellipse cx="685.2" cy="255.4" rx="2.45" ry="1.55" transform="rotate(-8 685.2 255.4)"/><ellipse cx="713.4" cy="249.2" rx="2.45" ry="1.55" transform="rotate(-8 713.4 249.2)"/><ellipse cx="741.6" cy="243.1" rx="2.45" ry="1.55" transform="rotate(-8 741.6 243.1)"/><ellipse cx="769.9" cy="236.9" rx="2.45" ry="1.55" transform="rotate(-8 769.9 236.9)"/><ellipse cx="798.1" cy="230.7" rx="2.45" ry="1.55" transform="rotate(-8 798.1 230.7)"/><ellipse cx="826.3" cy="224.6" rx="2.45" ry="1.55" transform="rotate(-8 826.3 224.6)"/><ellipse cx="854.5" cy="218.4" rx="2.45" ry="1.55" transform="rotate(-8 854.5 218.4)"/><ellipse cx="882.7" cy="212.3" rx="2.45" ry="1.55" transform="rotate(-8 882.7 212.3)"/><ellipse cx="910.9" cy="206.1" rx="2.45" ry="1.55" transform="rotate(-8 910.9 206.1)"/><ellipse cx="939.1" cy="199.9" rx="2.45" ry="1.55" transform="rotate(-8 939.1 199.9)"/><ellipse cx="227.2" cy="365.0" rx="2.45" ry="1.55" transform="rotate(-8 227.2 365.0)"/><ellipse cx="255.5" cy="358.9" rx="2.45" ry="1.55" transform="rotate(-8 255.5 358.9)"/><ellipse cx="283.8" cy="352.7" rx="2.45" ry="1.55" transform="rotate(-8 283.8 352.7)"/><ellipse cx="312.1" cy="346.5" rx="2.45" ry="1.55" transform="rotate(-8 312.1 346.5)"/><ellipse cx="340.4" cy="340.3" rx="2.45" ry="1.55" transform="rotate(-8 340.4 340.3)"/><ellipse cx="368.6" cy="334.1" rx="2.45" ry="1.55" transform="rotate(-8 368.6 334.1)"/><ellipse cx="396.9" cy="328.0" rx="2.45" ry="1.55" transform="rotate(-8 396.9 328.0)"/><ellipse cx="425.2" cy="321.8" rx="2.45" ry="1.55" transform="rotate(-8 425.2 321.8)"/><ellipse cx="453.5" cy="315.6" rx="2.45" ry="1.55" transform="rotate(-8 453.5 315.6)"/><ellipse cx="481.7" cy="309.4" rx="2.45" ry="1.55" transform="rotate(-8 481.7 309.4)"/><ellipse cx="510.0" cy="303.3" rx="2.45" ry="1.55" transform="rotate(-8 510.0 303.3)"/><ellipse cx="538.3" cy="297.1" rx="2.45" ry="1.55" transform="rotate(-8 538.3 297.1)"/><ellipse cx="566.5" cy="290.9" rx="2.45" ry="1.55" transform="rotate(-8 566.5 290.9)"/><ellipse cx="594.8" cy="284.8" rx="2.45" ry="1.55" transform="rotate(-8 594.8 284.8)"/><ellipse cx="623.0" cy="278.6" rx="2.45" ry="1.55" transform="rotate(-8 623.0 278.6)"/><ellipse cx="651.3" cy="272.4" rx="2.45" ry="1.55" transform="rotate(-8 651.3 272.4)"/><ellipse cx="679.5" cy="266.2" rx="2.45" ry="1.55" transform="rotate(-8 679.5 266.2)"/><ellipse cx="707.8" cy="260.1" rx="2.45" ry="1.55" transform="rotate(-8 707.8 260.1)"/><ellipse cx="736.0" cy="253.9" rx="2.45" ry="1.55" transform="rotate(-8 736.0 253.9)"/><ellipse cx="764.2" cy="247.7" rx="2.45" ry="1.55" transform="rotate(-8 764.2 247.7)"/><ellipse cx="792.5" cy="241.6" rx="2.45" ry="1.55" transform="rotate(-8 792.5 241.6)"/><ellipse cx="820.7" cy="235.4" rx="2.45" ry="1.55" transform="rotate(-8 820.7 235.4)"/><ellipse cx="848.9" cy="229.3" rx="2.45" ry="1.55" transform="rotate(-8 848.9 229.3)"/><ellipse cx="877.1" cy="223.1" rx="2.45" ry="1.55" transform="rotate(-8 877.1 223.1)"/><ellipse cx="905.3" cy="216.9" rx="2.45" ry="1.55" transform="rotate(-8 905.3 216.9)"/><ellipse cx="933.5" cy="210.8" rx="2.45" ry="1.55" transform="rotate(-8 933.5 210.8)"/><ellipse cx="221.5" cy="375.9" rx="2.45" ry="1.55" transform="rotate(-8 221.5 375.9)"/><ellipse cx="249.8" cy="369.7" rx="2.45" ry="1.55" transform="rotate(-8 249.8 369.7)"/><ellipse cx="278.1" cy="363.6" rx="2.45" ry="1.55" transform="rotate(-8 278.1 363.6)"/><ellipse cx="306.4" cy="357.4" rx="2.45" ry="1.55" transform="rotate(-8 306.4 357.4)"/><ellipse cx="334.7" cy="351.2" rx="2.45" ry="1.55" transform="rotate(-8 334.7 351.2)"/><ellipse cx="363.0" cy="345.0" rx="2.45" ry="1.55" transform="rotate(-8 363.0 345.0)"/><ellipse cx="391.2" cy="338.8" rx="2.45" ry="1.55" transform="rotate(-8 391.2 338.8)"/><ellipse cx="419.5" cy="332.7" rx="2.45" ry="1.55" transform="rotate(-8 419.5 332.7)"/><ellipse cx="447.8" cy="326.5" rx="2.45" ry="1.55" transform="rotate(-8 447.8 326.5)"/><ellipse cx="476.1" cy="320.3" rx="2.45" ry="1.55" transform="rotate(-8 476.1 320.3)"/><ellipse cx="504.3" cy="314.1" rx="2.45" ry="1.55" transform="rotate(-8 504.3 314.1)"/><ellipse cx="532.6" cy="308.0" rx="2.45" ry="1.55" transform="rotate(-8 532.6 308.0)"/><ellipse cx="560.9" cy="301.8" rx="2.45" ry="1.55" transform="rotate(-8 560.9 301.8)"/><ellipse cx="589.1" cy="295.6" rx="2.45" ry="1.55" transform="rotate(-8 589.1 295.6)"/><ellipse cx="617.4" cy="289.4" rx="2.45" ry="1.55" transform="rotate(-8 617.4 289.4)"/><ellipse cx="645.6" cy="283.3" rx="2.45" ry="1.55" transform="rotate(-8 645.6 283.3)"/><ellipse cx="673.9" cy="277.1" rx="2.45" ry="1.55" transform="rotate(-8 673.9 277.1)"/><ellipse cx="702.1" cy="270.9" rx="2.45" ry="1.55" transform="rotate(-8 702.1 270.9)"/><ellipse cx="730.4" cy="264.8" rx="2.45" ry="1.55" transform="rotate(-8 730.4 264.8)"/><ellipse cx="758.6" cy="258.6" rx="2.45" ry="1.55" transform="rotate(-8 758.6 258.6)"/><ellipse cx="786.8" cy="252.4" rx="2.45" ry="1.55" transform="rotate(-8 786.8 252.4)"/><ellipse cx="815.1" cy="246.3" rx="2.45" ry="1.55" transform="rotate(-8 815.1 246.3)"/><ellipse cx="843.3" cy="240.1" rx="2.45" ry="1.55" transform="rotate(-8 843.3 240.1)"/><ellipse cx="871.5" cy="233.9" rx="2.45" ry="1.55" transform="rotate(-8 871.5 233.9)"/><ellipse cx="899.7" cy="227.8" rx="2.45" ry="1.55" transform="rotate(-8 899.7 227.8)"/><ellipse cx="927.9" cy="221.6" rx="2.45" ry="1.55" transform="rotate(-8 927.9 221.6)"/><ellipse cx="956.1" cy="215.4" rx="2.45" ry="1.55" transform="rotate(-8 956.1 215.4)"/><ellipse cx="244.1" cy="380.6" rx="2.45" ry="1.55" transform="rotate(-8 244.1 380.6)"/><ellipse cx="272.4" cy="374.4" rx="2.45" ry="1.55" transform="rotate(-8 272.4 374.4)"/><ellipse cx="300.7" cy="368.2" rx="2.45" ry="1.55" transform="rotate(-8 300.7 368.2)"/><ellipse cx="329.0" cy="362.1" rx="2.45" ry="1.55" transform="rotate(-8 329.0 362.1)"/><ellipse cx="357.3" cy="355.9" rx="2.45" ry="1.55" transform="rotate(-8 357.3 355.9)"/><ellipse cx="385.6" cy="349.7" rx="2.45" ry="1.55" transform="rotate(-8 385.6 349.7)"/><ellipse cx="413.8" cy="343.5" rx="2.45" ry="1.55" transform="rotate(-8 413.8 343.5)"/><ellipse cx="442.1" cy="337.3" rx="2.45" ry="1.55" transform="rotate(-8 442.1 337.3)"/><ellipse cx="470.4" cy="331.2" rx="2.45" ry="1.55" transform="rotate(-8 470.4 331.2)"/><ellipse cx="498.7" cy="325.0" rx="2.45" ry="1.55" transform="rotate(-8 498.7 325.0)"/><ellipse cx="526.9" cy="318.8" rx="2.45" ry="1.55" transform="rotate(-8 526.9 318.8)"/><ellipse cx="555.2" cy="312.6" rx="2.45" ry="1.55" transform="rotate(-8 555.2 312.6)"/><ellipse cx="583.5" cy="306.5" rx="2.45" ry="1.55" transform="rotate(-8 583.5 306.5)"/><ellipse cx="611.7" cy="300.3" rx="2.45" ry="1.55" transform="rotate(-8 611.7 300.3)"/><ellipse cx="640.0" cy="294.1" rx="2.45" ry="1.55" transform="rotate(-8 640.0 294.1)"/><ellipse cx="668.2" cy="287.9" rx="2.45" ry="1.55" transform="rotate(-8 668.2 287.9)"/><ellipse cx="696.5" cy="281.8" rx="2.45" ry="1.55" transform="rotate(-8 696.5 281.8)"/><ellipse cx="724.7" cy="275.6" rx="2.45" ry="1.55" transform="rotate(-8 724.7 275.6)"/><ellipse cx="753.0" cy="269.4" rx="2.45" ry="1.55" transform="rotate(-8 753.0 269.4)"/><ellipse cx="781.2" cy="263.3" rx="2.45" ry="1.55" transform="rotate(-8 781.2 263.3)"/><ellipse cx="809.4" cy="257.1" rx="2.45" ry="1.55" transform="rotate(-8 809.4 257.1)"/><ellipse cx="837.7" cy="250.9" rx="2.45" ry="1.55" transform="rotate(-8 837.7 250.9)"/><ellipse cx="865.9" cy="244.8" rx="2.45" ry="1.55" transform="rotate(-8 865.9 244.8)"/><ellipse cx="894.1" cy="238.6" rx="2.45" ry="1.55" transform="rotate(-8 894.1 238.6)"/><ellipse cx="922.3" cy="232.4" rx="2.45" ry="1.55" transform="rotate(-8 922.3 232.4)"/><ellipse cx="950.5" cy="226.3" rx="2.45" ry="1.55" transform="rotate(-8 950.5 226.3)"/><ellipse cx="978.8" cy="220.1" rx="2.45" ry="1.55" transform="rotate(-8 978.8 220.1)"/><ellipse cx="238.4" cy="391.5" rx="2.45" ry="1.55" transform="rotate(-8 238.4 391.5)"/><ellipse cx="266.7" cy="385.3" rx="2.45" ry="1.55" transform="rotate(-8 266.7 385.3)"/><ellipse cx="295.0" cy="379.1" rx="2.45" ry="1.55" transform="rotate(-8 295.0 379.1)"/><ellipse cx="323.3" cy="372.9" rx="2.45" ry="1.55" transform="rotate(-8 323.3 372.9)"/><ellipse cx="351.6" cy="366.7" rx="2.45" ry="1.55" transform="rotate(-8 351.6 366.7)"/><ellipse cx="379.9" cy="360.6" rx="2.45" ry="1.55" transform="rotate(-8 379.9 360.6)"/><ellipse cx="408.2" cy="354.4" rx="2.45" ry="1.55" transform="rotate(-8 408.2 354.4)"/><ellipse cx="436.5" cy="348.2" rx="2.45" ry="1.55" transform="rotate(-8 436.5 348.2)"/><ellipse cx="464.7" cy="342.0" rx="2.45" ry="1.55" transform="rotate(-8 464.7 342.0)"/><ellipse cx="493.0" cy="335.8" rx="2.45" ry="1.55" transform="rotate(-8 493.0 335.8)"/><ellipse cx="521.3" cy="329.7" rx="2.45" ry="1.55" transform="rotate(-8 521.3 329.7)"/><ellipse cx="549.6" cy="323.5" rx="2.45" ry="1.55" transform="rotate(-8 549.6 323.5)"/><ellipse cx="577.8" cy="317.3" rx="2.45" ry="1.55" transform="rotate(-8 577.8 317.3)"/><ellipse cx="606.1" cy="311.1" rx="2.45" ry="1.55" transform="rotate(-8 606.1 311.1)"/><ellipse cx="634.3" cy="305.0" rx="2.45" ry="1.55" transform="rotate(-8 634.3 305.0)"/><ellipse cx="662.6" cy="298.8" rx="2.45" ry="1.55" transform="rotate(-8 662.6 298.8)"/><ellipse cx="690.9" cy="292.6" rx="2.45" ry="1.55" transform="rotate(-8 690.9 292.6)"/><ellipse cx="719.1" cy="286.4" rx="2.45" ry="1.55" transform="rotate(-8 719.1 286.4)"/><ellipse cx="747.3" cy="280.3" rx="2.45" ry="1.55" transform="rotate(-8 747.3 280.3)"/><ellipse cx="775.6" cy="274.1" rx="2.45" ry="1.55" transform="rotate(-8 775.6 274.1)"/><ellipse cx="803.8" cy="267.9" rx="2.45" ry="1.55" transform="rotate(-8 803.8 267.9)"/><ellipse cx="832.1" cy="261.8" rx="2.45" ry="1.55" transform="rotate(-8 832.1 261.8)"/><ellipse cx="860.3" cy="255.6" rx="2.45" ry="1.55" transform="rotate(-8 860.3 255.6)"/><ellipse cx="888.5" cy="249.4" rx="2.45" ry="1.55" transform="rotate(-8 888.5 249.4)"/><ellipse cx="916.7" cy="243.3" rx="2.45" ry="1.55" transform="rotate(-8 916.7 243.3)"/><ellipse cx="944.9" cy="237.1" rx="2.45" ry="1.55" transform="rotate(-8 944.9 237.1)"/><ellipse cx="973.2" cy="230.9" rx="2.45" ry="1.55" transform="rotate(-8 973.2 230.9)"/></g>
<polygon points="735.2,100.6 852.7,76.5 852.7,119.9 841.6,122.2 841.6,124.2 735.2,145.8" fill="url(#g1)" stroke="#646567" stroke-width="1.2" stroke-linejoin="round" />
<polygon points="769.3,92.1 771.3,90.8 773.8,107.3 772.4,105.7" fill="#a4a6a9" stroke="#646567" stroke-width="0.8" stroke-linejoin="round" />
<polygon points="813.8,82.1 820.6,83.9 816.2,96.9" fill="#ffffff" stroke="#646567" stroke-width="1" stroke-linejoin="round" />
<path d="M771.3,90.8 L813.8,82.1 L816.3,98.5 L776.3,106.8 Q773.8,107.3 773.4,104.8 Z" fill="url(#g2)" stroke="#646567" stroke-width="1.1" stroke-linejoin="round"/>
<polygon points="603.9,45.2 603.9,0.6 877.8,209.2 877.8,257.7" fill="url(#g3)" stroke="#646567" stroke-width="1.2" stroke-linejoin="round" />
<polyline points="877.8,209.2 877.8,257.7" fill="none" stroke="#646567" stroke-width="1.8" stroke-linejoin="round" stroke-linecap="round"/>
<polygon points="609.9,49.8 735.2,147.0 724.9,149.2 599.9,51.8" fill="url(#g4)" stroke="#646567" stroke-width="1" stroke-linejoin="round" />
<polygon points="609.9,43.4 735.2,140.4 735.2,147.0 609.9,49.8" fill="rgba(120,122,126,0.25)" stroke="none" stroke-width="1" stroke-linejoin="round" />
<polyline points="609.9,49.8 735.2,147.0" fill="none" stroke="#646567" stroke-width="1.3" stroke-linejoin="round" stroke-linecap="round"/>
<polygon points="610.9,27.8 618.0,33.3 613.6,37.5 606.5,32.1" fill="url(#g6)" stroke="#646567" stroke-width="1" stroke-linejoin="round" />
<polygon points="606.5,32.1 613.6,37.5 613.6,46.4 606.5,41.0" fill="url(#g5)" stroke="#646567" stroke-width="1" stroke-linejoin="round" />
<polygon points="618.0,33.3 625.1,38.7 620.6,43.0 613.6,37.5" fill="url(#g6)" stroke="#646567" stroke-width="1" stroke-linejoin="round" />
<polygon points="613.6,37.5 620.6,43.0 620.6,51.9 613.6,46.4" fill="url(#g5)" stroke="#646567" stroke-width="1" stroke-linejoin="round" />
<polygon points="625.1,38.7 632.2,44.2 627.7,48.4 620.6,43.0" fill="url(#g6)" stroke="#646567" stroke-width="1" stroke-linejoin="round" />
<polygon points="620.6,43.0 627.7,48.4 627.7,57.4 620.6,51.9" fill="url(#g5)" stroke="#646567" stroke-width="1" stroke-linejoin="round" />
<polygon points="632.2,44.2 639.3,49.7 634.9,53.9 627.7,48.4" fill="url(#g6)" stroke="#646567" stroke-width="1" stroke-linejoin="round" />
<polygon points="627.7,48.4 634.9,53.9 634.9,62.9 627.7,57.4" fill="url(#g5)" stroke="#646567" stroke-width="1" stroke-linejoin="round" />
<polygon points="639.3,49.7 646.5,55.2 642.0,59.5 634.9,53.9" fill="url(#g6)" stroke="#646567" stroke-width="1" stroke-linejoin="round" />
<polygon points="634.9,53.9 642.0,59.5 642.0,68.5 634.9,62.9" fill="url(#g5)" stroke="#646567" stroke-width="1" stroke-linejoin="round" />
<polygon points="646.5,55.2 653.7,60.7 649.2,65.0 642.0,59.5" fill="url(#g6)" stroke="#646567" stroke-width="1" stroke-linejoin="round" />
<polygon points="642.0,59.5 649.2,65.0 649.2,74.0 642.0,68.5" fill="url(#g5)" stroke="#646567" stroke-width="1" stroke-linejoin="round" />
<polygon points="653.7,60.7 660.9,66.3 656.5,70.6 649.2,65.0" fill="url(#g6)" stroke="#646567" stroke-width="1" stroke-linejoin="round" />
<polygon points="649.2,65.0 656.5,70.6 656.5,79.6 649.2,74.0" fill="url(#g5)" stroke="#646567" stroke-width="1" stroke-linejoin="round" />
<polygon points="660.9,66.3 668.2,71.9 663.7,76.2 656.5,70.6" fill="url(#g6)" stroke="#646567" stroke-width="1" stroke-linejoin="round" />
<polygon points="656.5,70.6 663.7,76.2 663.7,85.2 656.5,79.6" fill="url(#g5)" stroke="#646567" stroke-width="1" stroke-linejoin="round" />
<polygon points="668.2,71.9 675.5,77.5 671.0,81.8 663.7,76.2" fill="url(#g6)" stroke="#646567" stroke-width="1" stroke-linejoin="round" />
<polygon points="663.7,76.2 671.0,81.8 671.0,90.9 663.7,85.2" fill="url(#g5)" stroke="#646567" stroke-width="1" stroke-linejoin="round" />
<polygon points="675.5,77.5 682.8,83.1 678.3,87.5 671.0,81.8" fill="url(#g6)" stroke="#646567" stroke-width="1" stroke-linejoin="round" />
<polygon points="671.0,81.8 678.3,87.5 678.3,96.6 671.0,90.9" fill="url(#g5)" stroke="#646567" stroke-width="1" stroke-linejoin="round" />
<polygon points="682.8,83.1 690.2,88.8 685.7,93.1 678.3,87.5" fill="url(#g6)" stroke="#646567" stroke-width="1" stroke-linejoin="round" />
<polygon points="678.3,87.5 685.7,93.1 685.7,102.3 678.3,96.6" fill="url(#g5)" stroke="#646567" stroke-width="1" stroke-linejoin="round" />
<polygon points="690.2,88.8 697.6,94.5 693.1,98.9 685.7,93.1" fill="url(#g6)" stroke="#646567" stroke-width="1" stroke-linejoin="round" />
<polygon points="685.7,93.1 693.1,98.9 693.1,108.0 685.7,102.3" fill="url(#g5)" stroke="#646567" stroke-width="1" stroke-linejoin="round" />
<polygon points="697.6,94.5 705.1,100.2 700.5,104.6 693.1,98.9" fill="url(#g6)" stroke="#646567" stroke-width="1" stroke-linejoin="round" />
<polygon points="693.1,98.9 700.5,104.6 700.5,113.7 693.1,108.0" fill="url(#g5)" stroke="#646567" stroke-width="1" stroke-linejoin="round" />
<polygon points="705.1,100.2 712.5,106.0 708.0,110.3 700.5,104.6" fill="url(#g6)" stroke="#646567" stroke-width="1" stroke-linejoin="round" />
<polygon points="700.5,104.6 708.0,110.3 708.0,119.5 700.5,113.7" fill="url(#g5)" stroke="#646567" stroke-width="1" stroke-linejoin="round" />
<polygon points="712.5,106.0 720.0,111.7 715.5,116.1 708.0,110.3" fill="url(#g6)" stroke="#646567" stroke-width="1" stroke-linejoin="round" />
<polygon points="708.0,110.3 715.5,116.1 715.5,125.3 708.0,119.5" fill="url(#g5)" stroke="#646567" stroke-width="1" stroke-linejoin="round" />
<polygon points="720.0,111.7 727.6,117.5 723.0,121.9 715.5,116.1" fill="url(#g6)" stroke="#646567" stroke-width="1" stroke-linejoin="round" />
<polygon points="715.5,116.1 723.0,121.9 723.0,131.2 715.5,125.3" fill="url(#g5)" stroke="#646567" stroke-width="1" stroke-linejoin="round" />
<polygon points="727.6,117.5 735.2,123.3 730.6,127.8 723.0,121.9" fill="url(#g6)" stroke="#646567" stroke-width="1" stroke-linejoin="round" />
<polygon points="723.0,121.9 730.6,127.8 730.6,137.0 723.0,131.2" fill="url(#g5)" stroke="#646567" stroke-width="1" stroke-linejoin="round" />
<polygon points="615.4,125.2 735.2,100.6 735.2,143.4 724.6,145.6 723.3,148.3 615.4,170.8" fill="url(#g7)" stroke="#646567" stroke-width="1.2" stroke-linejoin="round" />
<polygon points="650.2,116.5 652.2,115.2 654.7,131.9 653.3,130.3" fill="#a4a6a9" stroke="#646567" stroke-width="0.8" stroke-linejoin="round" />
<polygon points="695.5,106.3 702.3,108.1 697.9,121.1" fill="#ffffff" stroke="#646567" stroke-width="1" stroke-linejoin="round" />
<path d="M652.2,115.2 L695.5,106.3 L698.0,122.9 L657.2,131.4 Q654.7,131.9 654.3,129.4 Z" fill="url(#g8)" stroke="#646567" stroke-width="1.1" stroke-linejoin="round"/>
<polygon points="735.2,147.0 869.5,251.3 858.9,253.6 724.9,149.2" fill="url(#g4)" stroke="#646567" stroke-width="1" stroke-linejoin="round" />
<polygon points="735.2,140.4 869.5,244.4 869.5,251.3 735.2,147.0" fill="rgba(120,122,126,0.25)" stroke="none" stroke-width="1" stroke-linejoin="round" />
<polyline points="735.2,147.0 869.5,251.3" fill="none" stroke="#646567" stroke-width="1.3" stroke-linejoin="round" stroke-linecap="round"/>
<polygon points="735.2,123.3 742.8,129.2 738.2,133.6 730.6,127.8" fill="url(#g6)" stroke="#646567" stroke-width="1" stroke-linejoin="round" />
<polygon points="730.6,127.8 738.2,133.6 738.2,142.9 730.6,137.0" fill="url(#g5)" stroke="#646567" stroke-width="1" stroke-linejoin="round" />
<polygon points="742.8,129.2 750.4,135.1 745.9,139.5 738.2,133.6" fill="url(#g6)" stroke="#646567" stroke-width="1" stroke-linejoin="round" />
<polygon points="738.2,133.6 745.9,139.5 745.9,148.8 738.2,142.9" fill="url(#g5)" stroke="#646567" stroke-width="1" stroke-linejoin="round" />
<polygon points="750.4,135.1 758.1,141.0 753.5,145.4 745.9,139.5" fill="url(#g6)" stroke="#646567" stroke-width="1" stroke-linejoin="round" />
<polygon points="745.9,139.5 753.5,145.4 753.5,154.8 745.9,148.8" fill="url(#g5)" stroke="#646567" stroke-width="1" stroke-linejoin="round" />
<polygon points="758.1,141.0 765.8,146.9 761.2,151.4 753.5,145.4" fill="url(#g6)" stroke="#646567" stroke-width="1" stroke-linejoin="round" />
<polygon points="753.5,145.4 761.2,151.4 761.2,160.7 753.5,154.8" fill="url(#g5)" stroke="#646567" stroke-width="1" stroke-linejoin="round" />
<polygon points="765.8,146.9 773.6,152.9 769.0,157.4 761.2,151.4" fill="url(#g6)" stroke="#646567" stroke-width="1" stroke-linejoin="round" />
<polygon points="761.2,151.4 769.0,157.4 769.0,166.7 761.2,160.7" fill="url(#g5)" stroke="#646567" stroke-width="1" stroke-linejoin="round" />
<polygon points="773.6,152.9 781.4,158.9 776.8,163.4 769.0,157.4" fill="url(#g6)" stroke="#646567" stroke-width="1" stroke-linejoin="round" />
<polygon points="769.0,157.4 776.8,163.4 776.8,172.8 769.0,166.7" fill="url(#g5)" stroke="#646567" stroke-width="1" stroke-linejoin="round" />
<polygon points="781.4,158.9 789.2,164.9 784.6,169.4 776.8,163.4" fill="url(#g6)" stroke="#646567" stroke-width="1" stroke-linejoin="round" />
<polygon points="776.8,163.4 784.6,169.4 784.6,178.8 776.8,172.8" fill="url(#g5)" stroke="#646567" stroke-width="1" stroke-linejoin="round" />
<polygon points="789.2,164.9 797.1,170.9 792.4,175.5 784.6,169.4" fill="url(#g6)" stroke="#646567" stroke-width="1" stroke-linejoin="round" />
<polygon points="784.6,169.4 792.4,175.5 792.4,184.9 784.6,178.8" fill="url(#g5)" stroke="#646567" stroke-width="1" stroke-linejoin="round" />
<polygon points="797.1,170.9 805.0,177.0 800.3,181.5 792.4,175.5" fill="url(#g6)" stroke="#646567" stroke-width="1" stroke-linejoin="round" />
<polygon points="792.4,175.5 800.3,181.5 800.3,191.0 792.4,184.9" fill="url(#g5)" stroke="#646567" stroke-width="1" stroke-linejoin="round" />
<polygon points="805.0,177.0 812.9,183.1 808.3,187.7 800.3,181.5" fill="url(#g6)" stroke="#646567" stroke-width="1" stroke-linejoin="round" />
<polygon points="800.3,181.5 808.3,187.7 808.3,197.1 800.3,191.0" fill="url(#g5)" stroke="#646567" stroke-width="1" stroke-linejoin="round" />
<polygon points="812.9,183.1 820.9,189.2 816.2,193.8 808.3,187.7" fill="url(#g6)" stroke="#646567" stroke-width="1" stroke-linejoin="round" />
<polygon points="808.3,187.7 816.2,193.8 816.2,203.3 808.3,197.1" fill="url(#g5)" stroke="#646567" stroke-width="1" stroke-linejoin="round" />
<polygon points="820.9,189.2 828.9,195.4 824.2,200.0 816.2,193.8" fill="url(#g6)" stroke="#646567" stroke-width="1" stroke-linejoin="round" />
<polygon points="816.2,193.8 824.2,200.0 824.2,209.5 816.2,203.3" fill="url(#g5)" stroke="#646567" stroke-width="1" stroke-linejoin="round" />
<polygon points="828.9,195.4 836.9,201.6 832.3,206.2 824.2,200.0" fill="url(#g6)" stroke="#646567" stroke-width="1" stroke-linejoin="round" />
<polygon points="824.2,200.0 832.3,206.2 832.3,215.7 824.2,209.5" fill="url(#g5)" stroke="#646567" stroke-width="1" stroke-linejoin="round" />
<polygon points="836.9,201.6 845.0,207.8 840.4,212.4 832.3,206.2" fill="url(#g6)" stroke="#646567" stroke-width="1" stroke-linejoin="round" />
<polygon points="832.3,206.2 840.4,212.4 840.4,222.0 832.3,215.7" fill="url(#g5)" stroke="#646567" stroke-width="1" stroke-linejoin="round" />
<polygon points="845.0,207.8 853.2,214.1 848.5,218.7 840.4,212.4" fill="url(#g6)" stroke="#646567" stroke-width="1" stroke-linejoin="round" />
<polygon points="840.4,212.4 848.5,218.7 848.5,228.3 840.4,222.0" fill="url(#g5)" stroke="#646567" stroke-width="1" stroke-linejoin="round" />
<polygon points="853.2,214.1 861.3,220.4 856.7,225.0 848.5,218.7" fill="url(#g6)" stroke="#646567" stroke-width="1" stroke-linejoin="round" />
<polygon points="848.5,218.7 856.7,225.0 856.7,234.6 848.5,228.3" fill="url(#g5)" stroke="#646567" stroke-width="1" stroke-linejoin="round" />
<polygon points="861.3,220.4 869.5,226.7 864.9,231.3 856.7,225.0" fill="url(#g6)" stroke="#646567" stroke-width="1" stroke-linejoin="round" />
<polygon points="856.7,225.0 864.9,231.3 864.9,240.9 856.7,234.6" fill="url(#g5)" stroke="#646567" stroke-width="1" stroke-linejoin="round" />
<polygon points="864.9,231.3 869.5,226.7 869.5,245.4 864.9,240.9" fill="#c9cbce" stroke="#646567" stroke-width="0.9" stroke-linejoin="round" />
<polygon points="487.8,68.3 487.8,23.3 754.2,236.0 754.2,284.9" fill="url(#g9)" stroke="#646567" stroke-width="1.2" stroke-linejoin="round" />
<polyline points="754.2,236.0 754.2,284.9" fill="none" stroke="#646567" stroke-width="1.8" stroke-linejoin="round" stroke-linecap="round"/>
<polygon points="493.6,73.0 571.7,136.5 561.3,138.6 483.4,75.0" fill="url(#g10)" stroke="#646567" stroke-width="1" stroke-linejoin="round" />
<polygon points="493.6,66.5 571.7,129.9 571.7,136.5 493.6,73.0" fill="rgba(120,122,126,0.25)" stroke="none" stroke-width="1" stroke-linejoin="round" />
<polyline points="493.6,73.0 571.7,136.5" fill="none" stroke="#646567" stroke-width="1.3" stroke-linejoin="round" stroke-linecap="round"/>
<polygon points="494.6,50.8 501.4,56.3 496.9,60.6 490.1,55.1" fill="url(#g12)" stroke="#646567" stroke-width="1" stroke-linejoin="round" />
<polygon points="490.1,55.1 496.9,60.6 496.9,69.6 490.1,64.1" fill="url(#g11)" stroke="#646567" stroke-width="1" stroke-linejoin="round" />
<polygon points="501.4,56.3 508.3,61.9 503.8,66.2 496.9,60.6" fill="url(#g12)" stroke="#646567" stroke-width="1" stroke-linejoin="round" />
<polygon points="496.9,60.6 503.8,66.2 503.8,75.2 496.9,69.6" fill="url(#g11)" stroke="#646567" stroke-width="1" stroke-linejoin="round" />
<polygon points="508.3,61.9 515.2,67.5 510.7,71.8 503.8,66.2" fill="url(#g12)" stroke="#646567" stroke-width="1" stroke-linejoin="round" />
<polygon points="503.8,66.2 510.7,71.8 510.7,80.8 503.8,75.2" fill="url(#g11)" stroke="#646567" stroke-width="1" stroke-linejoin="round" />
<polygon points="515.2,67.5 522.2,73.1 517.6,77.4 510.7,71.8" fill="url(#g12)" stroke="#646567" stroke-width="1" stroke-linejoin="round" />
<polygon points="510.7,71.8 517.6,77.4 517.6,86.4 510.7,80.8" fill="url(#g11)" stroke="#646567" stroke-width="1" stroke-linejoin="round" />
<polygon points="522.2,73.1 529.1,78.7 524.6,83.0 517.6,77.4" fill="url(#g12)" stroke="#646567" stroke-width="1" stroke-linejoin="round" />
<polygon points="517.6,77.4 524.6,83.0 524.6,92.1 517.6,86.4" fill="url(#g11)" stroke="#646567" stroke-width="1" stroke-linejoin="round" />
<polygon points="529.1,78.7 536.1,84.3 531.6,88.7 524.6,83.0" fill="url(#g12)" stroke="#646567" stroke-width="1" stroke-linejoin="round" />
<polygon points="524.6,83.0 531.6,88.7 531.6,97.8 524.6,92.1" fill="url(#g11)" stroke="#646567" stroke-width="1" stroke-linejoin="round" />
<polygon points="536.1,84.3 543.2,90.0 538.6,94.3 531.6,88.7" fill="url(#g12)" stroke="#646567" stroke-width="1" stroke-linejoin="round" />
<polygon points="531.6,88.7 538.6,94.3 538.6,103.5 531.6,97.8" fill="url(#g11)" stroke="#646567" stroke-width="1" stroke-linejoin="round" />
<polygon points="543.2,90.0 550.2,95.7 545.7,100.0 538.6,94.3" fill="url(#g12)" stroke="#646567" stroke-width="1" stroke-linejoin="round" />
<polygon points="538.6,94.3 545.7,100.0 545.7,109.2 538.6,103.5" fill="url(#g11)" stroke="#646567" stroke-width="1" stroke-linejoin="round" />
<polygon points="550.2,95.7 557.4,101.4 552.8,105.8 545.7,100.0" fill="url(#g12)" stroke="#646567" stroke-width="1" stroke-linejoin="round" />
<polygon points="545.7,100.0 552.8,105.8 552.8,115.0 545.7,109.2" fill="url(#g11)" stroke="#646567" stroke-width="1" stroke-linejoin="round" />
<polygon points="557.4,101.4 564.5,107.2 559.9,111.5 552.8,105.8" fill="url(#g12)" stroke="#646567" stroke-width="1" stroke-linejoin="round" />
<polygon points="552.8,105.8 559.9,111.5 559.9,120.7 552.8,115.0" fill="url(#g11)" stroke="#646567" stroke-width="1" stroke-linejoin="round" />
<polygon points="564.5,107.2 571.7,112.9 567.1,117.3 559.9,111.5" fill="url(#g12)" stroke="#646567" stroke-width="1" stroke-linejoin="round" />
<polygon points="559.9,111.5 567.1,117.3 567.1,126.5 559.9,120.7" fill="url(#g11)" stroke="#646567" stroke-width="1" stroke-linejoin="round" />
<polygon points="491.4,106.5 571.7,90.3 571.7,132.9 561.0,135.1 559.7,137.8 491.4,151.8" fill="url(#g13)" stroke="#646567" stroke-width="1.2" stroke-linejoin="round" />
<polygon points="506.6,101.9 508.6,100.6 510.9,117.1 509.5,115.5" fill="#a4a6a9" stroke="#646567" stroke-width="0.8" stroke-linejoin="round" />
<polygon points="550.9,92.1 557.7,93.9 553.3,106.9" fill="#ffffff" stroke="#646567" stroke-width="1" stroke-linejoin="round" />
<path d="M508.6,100.6 L550.9,92.1 L553.2,108.6 L513.4,116.6 Q510.9,117.1 510.5,114.6 Z" fill="url(#g14)" stroke="#646567" stroke-width="1.1" stroke-linejoin="round"/>
<polygon points="571.7,136.5 660.3,208.6 649.7,210.9 561.3,138.6" fill="url(#g10)" stroke="#646567" stroke-width="1" stroke-linejoin="round" />
<polygon points="571.7,129.9 660.3,201.8 660.3,208.6 571.7,136.5" fill="rgba(120,122,126,0.25)" stroke="none" stroke-width="1" stroke-linejoin="round" />
<polyline points="571.7,136.5 660.3,208.6" fill="none" stroke="#646567" stroke-width="1.3" stroke-linejoin="round" stroke-linecap="round"/>
<polygon points="571.7,112.9 578.9,118.7 574.3,123.1 567.1,117.3" fill="url(#g12)" stroke="#646567" stroke-width="1" stroke-linejoin="round" />
<polygon points="567.1,117.3 574.3,123.1 574.3,132.4 567.1,126.5" fill="url(#g11)" stroke="#646567" stroke-width="1" stroke-linejoin="round" />
<polygon points="578.9,118.7 586.1,124.6 581.5,129.0 574.3,123.1" fill="url(#g12)" stroke="#646567" stroke-width="1" stroke-linejoin="round" />
<polygon points="574.3,123.1 581.5,129.0 581.5,138.2 574.3,132.4" fill="url(#g11)" stroke="#646567" stroke-width="1" stroke-linejoin="round" />
<polygon points="586.1,124.6 593.4,130.4 588.7,134.9 581.5,129.0" fill="url(#g12)" stroke="#646567" stroke-width="1" stroke-linejoin="round" />
<polygon points="581.5,129.0 588.7,134.9 588.7,144.1 581.5,138.2" fill="url(#g11)" stroke="#646567" stroke-width="1" stroke-linejoin="round" />
<polygon points="593.4,130.4 600.7,136.3 596.0,140.8 588.7,134.9" fill="url(#g12)" stroke="#646567" stroke-width="1" stroke-linejoin="round" />
<polygon points="588.7,134.9 596.0,140.8 596.0,150.0 588.7,144.1" fill="url(#g11)" stroke="#646567" stroke-width="1" stroke-linejoin="round" />
<polygon points="600.7,136.3 608.0,142.2 603.4,146.7 596.0,140.8" fill="url(#g12)" stroke="#646567" stroke-width="1" stroke-linejoin="round" />
<polygon points="596.0,140.8 603.4,146.7 603.4,156.0 596.0,150.0" fill="url(#g11)" stroke="#646567" stroke-width="1" stroke-linejoin="round" />
<polygon points="608.0,142.2 615.4,148.2 610.7,152.6 603.4,146.7" fill="url(#g12)" stroke="#646567" stroke-width="1" stroke-linejoin="round" />
<polygon points="603.4,146.7 610.7,152.6 610.7,162.0 603.4,156.0" fill="url(#g11)" stroke="#646567" stroke-width="1" stroke-linejoin="round" />
<polygon points="615.4,148.2 622.8,154.1 618.1,158.6 610.7,152.6" fill="url(#g12)" stroke="#646567" stroke-width="1" stroke-linejoin="round" />
<polygon points="610.7,152.6 618.1,158.6 618.1,168.0 610.7,162.0" fill="url(#g11)" stroke="#646567" stroke-width="1" stroke-linejoin="round" />
<polygon points="622.8,154.1 630.2,160.1 625.6,164.6 618.1,158.6" fill="url(#g12)" stroke="#646567" stroke-width="1" stroke-linejoin="round" />
<polygon points="618.1,158.6 625.6,164.6 625.6,174.0 618.1,168.0" fill="url(#g11)" stroke="#646567" stroke-width="1" stroke-linejoin="round" />
<polygon points="630.2,160.1 637.7,166.1 633.0,170.6 625.6,164.6" fill="url(#g12)" stroke="#646567" stroke-width="1" stroke-linejoin="round" />
<polygon points="625.6,164.6 633.0,170.6 633.0,180.1 625.6,174.0" fill="url(#g11)" stroke="#646567" stroke-width="1" stroke-linejoin="round" />
<polygon points="637.7,166.1 645.2,172.2 640.5,176.7 633.0,170.6" fill="url(#g12)" stroke="#646567" stroke-width="1" stroke-linejoin="round" />
<polygon points="633.0,170.6 640.5,176.7 640.5,186.1 633.0,180.1" fill="url(#g11)" stroke="#646567" stroke-width="1" stroke-linejoin="round" />
<polygon points="645.2,172.2 652.7,178.3 648.1,182.8 640.5,176.7" fill="url(#g12)" stroke="#646567" stroke-width="1" stroke-linejoin="round" />
<polygon points="640.5,176.7 648.1,182.8 648.1,192.3 640.5,186.1" fill="url(#g11)" stroke="#646567" stroke-width="1" stroke-linejoin="round" />
<polygon points="652.7,178.3 660.3,184.4 655.6,188.9 648.1,182.8" fill="url(#g12)" stroke="#646567" stroke-width="1" stroke-linejoin="round" />
<polygon points="648.1,182.8 655.6,188.9 655.6,198.4 648.1,192.3" fill="url(#g11)" stroke="#646567" stroke-width="1" stroke-linejoin="round" />
<polygon points="578.3,178.2 660.3,161.1 660.3,204.9 649.4,207.2 648.1,210.0 578.3,224.8" fill="url(#g15)" stroke="#646567" stroke-width="1.2" stroke-linejoin="round" />
<polygon points="593.9,173.4 595.9,172.1 598.4,189.1 597.0,187.5" fill="#a4a6a9" stroke="#646567" stroke-width="0.8" stroke-linejoin="round" />
<polygon points="639.1,163.0 645.9,164.8 641.5,177.8" fill="#ffffff" stroke="#646567" stroke-width="1" stroke-linejoin="round" />
<path d="M595.9,172.1 L639.1,163.0 L641.6,180.1 L600.9,188.6 Q598.4,189.1 598.0,186.6 Z" fill="url(#g16)" stroke="#646567" stroke-width="1.1" stroke-linejoin="round"/>
<polygon points="660.3,208.6 746.1,278.4 735.3,280.8 649.7,210.9" fill="url(#g10)" stroke="#646567" stroke-width="1" stroke-linejoin="round" />
<polygon points="660.3,201.8 746.1,271.4 746.1,278.4 660.3,208.6" fill="rgba(120,122,126,0.25)" stroke="none" stroke-width="1" stroke-linejoin="round" />
<polyline points="660.3,208.6 746.1,278.4" fill="none" stroke="#646567" stroke-width="1.3" stroke-linejoin="round" stroke-linecap="round"/>
<polygon points="660.3,184.4 667.9,190.5 663.2,195.1 655.6,188.9" fill="url(#g12)" stroke="#646567" stroke-width="1" stroke-linejoin="round" />
<polygon points="655.6,188.9 663.2,195.1 663.2,204.6 655.6,198.4" fill="url(#g11)" stroke="#646567" stroke-width="1" stroke-linejoin="round" />
<polygon points="667.9,190.5 675.6,196.7 670.9,201.3 663.2,195.1" fill="url(#g12)" stroke="#646567" stroke-width="1" stroke-linejoin="round" />
<polygon points="663.2,195.1 670.9,201.3 670.9,210.8 663.2,204.6" fill="url(#g11)" stroke="#646567" stroke-width="1" stroke-linejoin="round" />
<polygon points="675.6,196.7 683.3,202.9 678.6,207.5 670.9,201.3" fill="url(#g12)" stroke="#646567" stroke-width="1" stroke-linejoin="round" />
<polygon points="670.9,201.3 678.6,207.5 678.6,217.0 670.9,210.8" fill="url(#g11)" stroke="#646567" stroke-width="1" stroke-linejoin="round" />
<polygon points="683.3,202.9 691.0,209.1 686.3,213.7 678.6,207.5" fill="url(#g12)" stroke="#646567" stroke-width="1" stroke-linejoin="round" />
<polygon points="678.6,207.5 686.3,213.7 686.3,223.3 678.6,217.0" fill="url(#g11)" stroke="#646567" stroke-width="1" stroke-linejoin="round" />
<polygon points="691.0,209.1 698.8,215.4 694.0,220.0 686.3,213.7" fill="url(#g12)" stroke="#646567" stroke-width="1" stroke-linejoin="round" />
<polygon points="686.3,213.7 694.0,220.0 694.0,229.6 686.3,223.3" fill="url(#g11)" stroke="#646567" stroke-width="1" stroke-linejoin="round" />
<polygon points="698.8,215.4 706.6,221.6 701.8,226.3 694.0,220.0" fill="url(#g12)" stroke="#646567" stroke-width="1" stroke-linejoin="round" />
<polygon points="694.0,220.0 701.8,226.3 701.8,235.9 694.0,229.6" fill="url(#g11)" stroke="#646567" stroke-width="1" stroke-linejoin="round" />
<polygon points="706.6,221.6 714.4,228.0 709.7,232.6 701.8,226.3" fill="url(#g12)" stroke="#646567" stroke-width="1" stroke-linejoin="round" />
<polygon points="701.8,226.3 709.7,232.6 709.7,242.2 701.8,235.9" fill="url(#g11)" stroke="#646567" stroke-width="1" stroke-linejoin="round" />
<polygon points="714.4,228.0 722.3,234.3 717.5,239.0 709.7,232.6" fill="url(#g12)" stroke="#646567" stroke-width="1" stroke-linejoin="round" />
<polygon points="709.7,232.6 717.5,239.0 717.5,248.6 709.7,242.2" fill="url(#g11)" stroke="#646567" stroke-width="1" stroke-linejoin="round" />
<polygon points="722.3,234.3 730.2,240.7 725.4,245.3 717.5,239.0" fill="url(#g12)" stroke="#646567" stroke-width="1" stroke-linejoin="round" />
<polygon points="717.5,239.0 725.4,245.3 725.4,255.0 717.5,248.6" fill="url(#g11)" stroke="#646567" stroke-width="1" stroke-linejoin="round" />
<polygon points="730.2,240.7 738.1,247.1 733.4,251.8 725.4,245.3" fill="url(#g12)" stroke="#646567" stroke-width="1" stroke-linejoin="round" />
<polygon points="725.4,245.3 733.4,251.8 733.4,261.5 725.4,255.0" fill="url(#g11)" stroke="#646567" stroke-width="1" stroke-linejoin="round" />
<polygon points="738.1,247.1 746.1,253.5 741.4,258.2 733.4,251.8" fill="url(#g12)" stroke="#646567" stroke-width="1" stroke-linejoin="round" />
<polygon points="733.4,251.8 741.4,258.2 741.4,267.9 733.4,261.5" fill="url(#g11)" stroke="#646567" stroke-width="1" stroke-linejoin="round" />
<polygon points="741.4,258.2 746.1,253.5 746.1,272.4 741.4,267.9" fill="#c9cbce" stroke="#646567" stroke-width="0.9" stroke-linejoin="round" />
<polygon points="409.1,83.9 409.1,38.6 670.4,254.1 670.4,303.4" fill="url(#g17)" stroke="#646567" stroke-width="1.2" stroke-linejoin="round" />
<polyline points="670.4,254.1 670.4,303.4" fill="none" stroke="#646567" stroke-width="1.8" stroke-linejoin="round" stroke-linecap="round"/>
<polygon points="414.8,88.7 491.4,153.0 480.9,155.1 404.5,90.7" fill="url(#g18)" stroke="#646567" stroke-width="1" stroke-linejoin="round" />
<polygon points="414.8,82.2 491.4,146.3 491.4,153.0 414.8,88.7" fill="rgba(120,122,126,0.25)" stroke="none" stroke-width="1" stroke-linejoin="round" />
<polyline points="414.8,88.7 491.4,153.0" fill="none" stroke="#646567" stroke-width="1.3" stroke-linejoin="round" stroke-linecap="round"/>
<polygon points="415.8,66.4 422.5,72.0 418.0,76.3 411.2,70.7" fill="url(#g20)" stroke="#646567" stroke-width="1" stroke-linejoin="round" />
<polygon points="411.2,70.7 418.0,76.3 418.0,85.3 411.2,79.7" fill="url(#g19)" stroke="#646567" stroke-width="1" stroke-linejoin="round" />
<polygon points="422.5,72.0 429.3,77.6 424.7,81.9 418.0,76.3" fill="url(#g20)" stroke="#646567" stroke-width="1" stroke-linejoin="round" />
<polygon points="418.0,76.3 424.7,81.9 424.7,91.0 418.0,85.3" fill="url(#g19)" stroke="#646567" stroke-width="1" stroke-linejoin="round" />
<polygon points="429.3,77.6 436.0,83.2 431.5,87.6 424.7,81.9" fill="url(#g20)" stroke="#646567" stroke-width="1" stroke-linejoin="round" />
<polygon points="424.7,81.9 431.5,87.6 431.5,96.7 424.7,91.0" fill="url(#g19)" stroke="#646567" stroke-width="1" stroke-linejoin="round" />
<polygon points="436.0,83.2 442.8,88.9 438.3,93.2 431.5,87.6" fill="url(#g20)" stroke="#646567" stroke-width="1" stroke-linejoin="round" />
<polygon points="431.5,87.6 438.3,93.2 438.3,102.4 431.5,96.7" fill="url(#g19)" stroke="#646567" stroke-width="1" stroke-linejoin="round" />
<polygon points="442.8,88.9 449.7,94.6 445.1,98.9 438.3,93.2" fill="url(#g20)" stroke="#646567" stroke-width="1" stroke-linejoin="round" />
<polygon points="438.3,93.2 445.1,98.9 445.1,108.1 438.3,102.4" fill="url(#g19)" stroke="#646567" stroke-width="1" stroke-linejoin="round" />
<polygon points="449.7,94.6 456.5,100.3 451.9,104.7 445.1,98.9" fill="url(#g20)" stroke="#646567" stroke-width="1" stroke-linejoin="round" />
<polygon points="445.1,98.9 451.9,104.7 451.9,113.8 445.1,108.1" fill="url(#g19)" stroke="#646567" stroke-width="1" stroke-linejoin="round" />
<polygon points="456.5,100.3 463.4,106.0 458.8,110.4 451.9,104.7" fill="url(#g20)" stroke="#646567" stroke-width="1" stroke-linejoin="round" />
<polygon points="451.9,104.7 458.8,110.4 458.8,119.6 451.9,113.8" fill="url(#g19)" stroke="#646567" stroke-width="1" stroke-linejoin="round" />
<polygon points="463.4,106.0 470.4,111.8 465.8,116.2 458.8,110.4" fill="url(#g20)" stroke="#646567" stroke-width="1" stroke-linejoin="round" />
<polygon points="458.8,110.4 465.8,116.2 465.8,125.4 458.8,119.6" fill="url(#g19)" stroke="#646567" stroke-width="1" stroke-linejoin="round" />
<polygon points="470.4,111.8 477.3,117.6 472.7,122.0 465.8,116.2" fill="url(#g20)" stroke="#646567" stroke-width="1" stroke-linejoin="round" />
<polygon points="465.8,116.2 472.7,122.0 472.7,131.2 465.8,125.4" fill="url(#g19)" stroke="#646567" stroke-width="1" stroke-linejoin="round" />
<polygon points="477.3,117.6 484.3,123.4 479.7,127.8 472.7,122.0" fill="url(#g20)" stroke="#646567" stroke-width="1" stroke-linejoin="round" />
<polygon points="472.7,122.0 479.7,127.8 479.7,137.1 472.7,131.2" fill="url(#g19)" stroke="#646567" stroke-width="1" stroke-linejoin="round" />
<polygon points="484.3,123.4 491.4,129.3 486.7,133.7 479.7,127.8" fill="url(#g20)" stroke="#646567" stroke-width="1" stroke-linejoin="round" />
<polygon points="479.7,127.8 486.7,133.7 486.7,143.0 479.7,137.1" fill="url(#g19)" stroke="#646567" stroke-width="1" stroke-linejoin="round" />
<polygon points="410.1,122.9 491.4,106.5 491.4,149.4 480.6,151.6 479.2,154.3 410.1,168.5" fill="url(#g21)" stroke="#646567" stroke-width="1.2" stroke-linejoin="round" />
<polygon points="425.5,118.2 427.5,116.9 429.8,133.6 428.4,132.0" fill="#a4a6a9" stroke="#646567" stroke-width="0.8" stroke-linejoin="round" />
<polygon points="470.3,108.3 477.1,110.1 472.7,123.1" fill="#ffffff" stroke="#646567" stroke-width="1" stroke-linejoin="round" />
<path d="M427.5,116.9 L470.3,108.3 L472.6,124.9 L432.3,133.1 Q429.8,133.6 429.4,131.1 Z" fill="url(#g22)" stroke="#646567" stroke-width="1.1" stroke-linejoin="round"/>
<polygon points="491.4,153.0 578.3,226.0 567.6,228.3 480.9,155.1" fill="url(#g18)" stroke="#646567" stroke-width="1" stroke-linejoin="round" />
<polygon points="491.4,146.3 578.3,219.2 578.3,226.0 491.4,153.0" fill="rgba(120,122,126,0.25)" stroke="none" stroke-width="1" stroke-linejoin="round" />
<polyline points="491.4,153.0 578.3,226.0" fill="none" stroke="#646567" stroke-width="1.3" stroke-linejoin="round" stroke-linecap="round"/>
<polygon points="491.4,129.3 498.4,135.2 493.8,139.6 486.7,133.7" fill="url(#g20)" stroke="#646567" stroke-width="1" stroke-linejoin="round" />
<polygon points="486.7,133.7 493.8,139.6 493.8,148.9 486.7,143.0" fill="url(#g19)" stroke="#646567" stroke-width="1" stroke-linejoin="round" />
<polygon points="498.4,135.2 505.5,141.1 500.9,145.5 493.8,139.6" fill="url(#g20)" stroke="#646567" stroke-width="1" stroke-linejoin="round" />
<polygon points="493.8,139.6 500.9,145.5 500.9,154.8 493.8,148.9" fill="url(#g19)" stroke="#646567" stroke-width="1" stroke-linejoin="round" />
<polygon points="505.5,141.1 512.6,147.0 508.0,151.5 500.9,145.5" fill="url(#g20)" stroke="#646567" stroke-width="1" stroke-linejoin="round" />
<polygon points="500.9,145.5 508.0,151.5 508.0,160.8 500.9,154.8" fill="url(#g19)" stroke="#646567" stroke-width="1" stroke-linejoin="round" />
<polygon points="512.6,147.0 519.8,152.9 515.1,157.4 508.0,151.5" fill="url(#g20)" stroke="#646567" stroke-width="1" stroke-linejoin="round" />
<polygon points="508.0,151.5 515.1,157.4 515.1,166.8 508.0,160.8" fill="url(#g19)" stroke="#646567" stroke-width="1" stroke-linejoin="round" />
<polygon points="519.8,152.9 527.0,158.9 522.3,163.4 515.1,157.4" fill="url(#g20)" stroke="#646567" stroke-width="1" stroke-linejoin="round" />
<polygon points="515.1,157.4 522.3,163.4 522.3,172.8 515.1,166.8" fill="url(#g19)" stroke="#646567" stroke-width="1" stroke-linejoin="round" />
<polygon points="527.0,158.9 534.2,165.0 529.5,169.5 522.3,163.4" fill="url(#g20)" stroke="#646567" stroke-width="1" stroke-linejoin="round" />
<polygon points="522.3,163.4 529.5,169.5 529.5,178.9 522.3,172.8" fill="url(#g19)" stroke="#646567" stroke-width="1" stroke-linejoin="round" />
<polygon points="534.2,165.0 541.5,171.0 536.8,175.5 529.5,169.5" fill="url(#g20)" stroke="#646567" stroke-width="1" stroke-linejoin="round" />
<polygon points="529.5,169.5 536.8,175.5 536.8,184.9 529.5,178.9" fill="url(#g19)" stroke="#646567" stroke-width="1" stroke-linejoin="round" />
<polygon points="541.5,171.0 548.8,177.1 544.1,181.6 536.8,175.5" fill="url(#g20)" stroke="#646567" stroke-width="1" stroke-linejoin="round" />
<polygon points="536.8,175.5 544.1,181.6 544.1,191.0 536.8,184.9" fill="url(#g19)" stroke="#646567" stroke-width="1" stroke-linejoin="round" />
<polygon points="548.8,177.1 556.1,183.2 551.4,187.7 544.1,181.6" fill="url(#g20)" stroke="#646567" stroke-width="1" stroke-linejoin="round" />
<polygon points="544.1,181.6 551.4,187.7 551.4,197.2 544.1,191.0" fill="url(#g19)" stroke="#646567" stroke-width="1" stroke-linejoin="round" />
<polygon points="556.1,183.2 563.5,189.3 558.7,193.9 551.4,187.7" fill="url(#g20)" stroke="#646567" stroke-width="1" stroke-linejoin="round" />
<polygon points="551.4,187.7 558.7,193.9 558.7,203.3 551.4,197.2" fill="url(#g19)" stroke="#646567" stroke-width="1" stroke-linejoin="round" />
<polygon points="563.5,189.3 570.9,195.5 566.1,200.0 558.7,193.9" fill="url(#g20)" stroke="#646567" stroke-width="1" stroke-linejoin="round" />
<polygon points="558.7,193.9 566.1,200.0 566.1,209.5 558.7,203.3" fill="url(#g19)" stroke="#646567" stroke-width="1" stroke-linejoin="round" />
<polygon points="570.9,195.5 578.3,201.6 573.6,206.2 566.1,200.0" fill="url(#g20)" stroke="#646567" stroke-width="1" stroke-linejoin="round" />
<polygon points="566.1,200.0 573.6,206.2 573.6,215.8 566.1,209.5" fill="url(#g19)" stroke="#646567" stroke-width="1" stroke-linejoin="round" />
<polygon points="495.2,195.5 578.3,178.2 578.3,222.3 567.3,224.7 565.9,227.4 495.2,242.5" fill="url(#g23)" stroke="#646567" stroke-width="1.2" stroke-linejoin="round" />
<polygon points="511.0,190.6 513.0,189.3 515.5,206.5 514.1,204.9" fill="#a4a6a9" stroke="#646567" stroke-width="0.8" stroke-linejoin="round" />
<polygon points="556.8,180.2 563.6,182.0 559.2,195.0" fill="#ffffff" stroke="#646567" stroke-width="1" stroke-linejoin="round" />
<path d="M513.0,189.3 L556.8,180.2 L559.3,197.3 L518.0,206.0 Q515.5,206.5 515.1,204.0 Z" fill="url(#g24)" stroke="#646567" stroke-width="1.1" stroke-linejoin="round"/>
<polygon points="578.3,226.0 662.5,296.8 651.5,299.2 567.6,228.3" fill="url(#g18)" stroke="#646567" stroke-width="1" stroke-linejoin="round" />
<polygon points="578.3,219.2 662.5,289.7 662.5,296.8 578.3,226.0" fill="rgba(120,122,126,0.25)" stroke="none" stroke-width="1" stroke-linejoin="round" />
<polyline points="578.3,226.0 662.5,296.8" fill="none" stroke="#646567" stroke-width="1.3" stroke-linejoin="round" stroke-linecap="round"/>
<polygon points="578.3,201.6 585.8,207.9 581.0,212.5 573.6,206.2" fill="url(#g20)" stroke="#646567" stroke-width="1" stroke-linejoin="round" />
<polygon points="573.6,206.2 581.0,212.5 581.0,222.0 573.6,215.8" fill="url(#g19)" stroke="#646567" stroke-width="1" stroke-linejoin="round" />
<polygon points="585.8,207.9 593.3,214.1 588.5,218.7 581.0,212.5" fill="url(#g20)" stroke="#646567" stroke-width="1" stroke-linejoin="round" />
<polygon points="581.0,212.5 588.5,218.7 588.5,228.3 581.0,222.0" fill="url(#g19)" stroke="#646567" stroke-width="1" stroke-linejoin="round" />
<polygon points="593.3,214.1 600.8,220.4 596.1,225.0 588.5,218.7" fill="url(#g20)" stroke="#646567" stroke-width="1" stroke-linejoin="round" />
<polygon points="588.5,218.7 596.1,225.0 596.1,234.6 588.5,228.3" fill="url(#g19)" stroke="#646567" stroke-width="1" stroke-linejoin="round" />
<polygon points="600.8,220.4 608.4,226.7 603.6,231.3 596.1,225.0" fill="url(#g20)" stroke="#646567" stroke-width="1" stroke-linejoin="round" />
<polygon points="596.1,225.0 603.6,231.3 603.6,241.0 596.1,234.6" fill="url(#g19)" stroke="#646567" stroke-width="1" stroke-linejoin="round" />
<polygon points="608.4,226.7 616.0,233.0 611.2,237.7 603.6,231.3" fill="url(#g20)" stroke="#646567" stroke-width="1" stroke-linejoin="round" />
<polygon points="603.6,231.3 611.2,237.7 611.2,247.3 603.6,241.0" fill="url(#g19)" stroke="#646567" stroke-width="1" stroke-linejoin="round" />
<polygon points="616.0,233.0 623.7,239.4 618.9,244.1 611.2,237.7" fill="url(#g20)" stroke="#646567" stroke-width="1" stroke-linejoin="round" />
<polygon points="611.2,237.7 618.9,244.1 618.9,253.7 611.2,247.3" fill="url(#g19)" stroke="#646567" stroke-width="1" stroke-linejoin="round" />
<polygon points="623.7,239.4 631.4,245.8 626.6,250.5 618.9,244.1" fill="url(#g20)" stroke="#646567" stroke-width="1" stroke-linejoin="round" />
<polygon points="618.9,244.1 626.6,250.5 626.6,260.2 618.9,253.7" fill="url(#g19)" stroke="#646567" stroke-width="1" stroke-linejoin="round" />
<polygon points="631.4,245.8 639.1,252.2 634.3,256.9 626.6,250.5" fill="url(#g20)" stroke="#646567" stroke-width="1" stroke-linejoin="round" />
<polygon points="626.6,250.5 634.3,256.9 634.3,266.7 626.6,260.2" fill="url(#g19)" stroke="#646567" stroke-width="1" stroke-linejoin="round" />
<polygon points="639.1,252.2 646.8,258.7 642.0,263.4 634.3,256.9" fill="url(#g20)" stroke="#646567" stroke-width="1" stroke-linejoin="round" />
<polygon points="634.3,256.9 642.0,263.4 642.0,273.2 634.3,266.7" fill="url(#g19)" stroke="#646567" stroke-width="1" stroke-linejoin="round" />
<polygon points="646.8,258.7 654.7,265.2 649.8,269.9 642.0,263.4" fill="url(#g20)" stroke="#646567" stroke-width="1" stroke-linejoin="round" />
<polygon points="642.0,263.4 649.8,269.9 649.8,279.7 642.0,273.2" fill="url(#g19)" stroke="#646567" stroke-width="1" stroke-linejoin="round" />
<polygon points="654.7,265.2 662.5,271.7 657.6,276.5 649.8,269.9" fill="url(#g20)" stroke="#646567" stroke-width="1" stroke-linejoin="round" />
<polygon points="649.8,269.9 657.6,276.5 657.6,286.2 649.8,279.7" fill="url(#g19)" stroke="#646567" stroke-width="1" stroke-linejoin="round" />
<polygon points="657.6,276.5 662.5,271.7 662.5,290.8 657.6,286.2" fill="#c9cbce" stroke="#646567" stroke-width="0.9" stroke-linejoin="round" />
<polygon points="329.5,99.7 329.5,54.2 585.4,272.5 585.4,322.1" fill="url(#g25)" stroke="#646567" stroke-width="1.2" stroke-linejoin="round" />
<polyline points="585.4,272.5 585.4,322.1" fill="none" stroke="#646567" stroke-width="1.8" stroke-linejoin="round" stroke-linecap="round"/>
<polygon points="335.1,104.5 410.1,169.7 399.4,171.9 324.6,106.6" fill="url(#g26)" stroke="#646567" stroke-width="1" stroke-linejoin="round" />
<polygon points="335.1,98.0 410.1,163.0 410.1,169.7 335.1,104.5" fill="rgba(120,122,126,0.25)" stroke="none" stroke-width="1" stroke-linejoin="round" />
<polyline points="335.1,104.5 410.1,169.7" fill="none" stroke="#646567" stroke-width="1.3" stroke-linejoin="round" stroke-linecap="round"/>
<polygon points="336.1,82.1 342.6,87.8 338.0,92.1 331.4,86.5" fill="url(#g28)" stroke="#646567" stroke-width="1" stroke-linejoin="round" />
<polygon points="331.4,86.5 338.0,92.1 338.0,101.2 331.4,95.6" fill="url(#g27)" stroke="#646567" stroke-width="1" stroke-linejoin="round" />
<polygon points="342.6,87.8 349.2,93.5 344.6,97.8 338.0,92.1" fill="url(#g28)" stroke="#646567" stroke-width="1" stroke-linejoin="round" />
<polygon points="338.0,92.1 344.6,97.8 344.6,107.0 338.0,101.2" fill="url(#g27)" stroke="#646567" stroke-width="1" stroke-linejoin="round" />
<polygon points="349.2,93.5 355.9,99.2 351.2,103.6 344.6,97.8" fill="url(#g28)" stroke="#646567" stroke-width="1" stroke-linejoin="round" />
<polygon points="344.6,97.8 351.2,103.6 351.2,112.7 344.6,107.0" fill="url(#g27)" stroke="#646567" stroke-width="1" stroke-linejoin="round" />
<polygon points="355.9,99.2 362.5,104.9 357.9,109.3 351.2,103.6" fill="url(#g28)" stroke="#646567" stroke-width="1" stroke-linejoin="round" />
<polygon points="351.2,103.6 357.9,109.3 357.9,118.5 351.2,112.7" fill="url(#g27)" stroke="#646567" stroke-width="1" stroke-linejoin="round" />
<polygon points="362.5,104.9 369.2,110.7 364.6,115.1 357.9,109.3" fill="url(#g28)" stroke="#646567" stroke-width="1" stroke-linejoin="round" />
<polygon points="357.9,109.3 364.6,115.1 364.6,124.3 357.9,118.5" fill="url(#g27)" stroke="#646567" stroke-width="1" stroke-linejoin="round" />
<polygon points="369.2,110.7 376.0,116.5 371.3,120.9 364.6,115.1" fill="url(#g28)" stroke="#646567" stroke-width="1" stroke-linejoin="round" />
<polygon points="364.6,115.1 371.3,120.9 371.3,130.1 364.6,124.3" fill="url(#g27)" stroke="#646567" stroke-width="1" stroke-linejoin="round" />
<polygon points="376.0,116.5 382.7,122.3 378.0,126.7 371.3,120.9" fill="url(#g28)" stroke="#646567" stroke-width="1" stroke-linejoin="round" />
<polygon points="371.3,120.9 378.0,126.7 378.0,136.0 371.3,130.1" fill="url(#g27)" stroke="#646567" stroke-width="1" stroke-linejoin="round" />
<polygon points="382.7,122.3 389.5,128.1 384.8,132.6 378.0,126.7" fill="url(#g28)" stroke="#646567" stroke-width="1" stroke-linejoin="round" />
<polygon points="378.0,126.7 384.8,132.6 384.8,141.8 378.0,136.0" fill="url(#g27)" stroke="#646567" stroke-width="1" stroke-linejoin="round" />
<polygon points="389.5,128.1 396.3,134.0 391.6,138.4 384.8,132.6" fill="url(#g28)" stroke="#646567" stroke-width="1" stroke-linejoin="round" />
<polygon points="384.8,132.6 391.6,138.4 391.6,147.7 384.8,141.8" fill="url(#g27)" stroke="#646567" stroke-width="1" stroke-linejoin="round" />
<polygon points="396.3,134.0 403.2,139.9 398.5,144.4 391.6,138.4" fill="url(#g28)" stroke="#646567" stroke-width="1" stroke-linejoin="round" />
<polygon points="391.6,138.4 398.5,144.4 398.5,153.7 391.6,147.7" fill="url(#g27)" stroke="#646567" stroke-width="1" stroke-linejoin="round" />
<polygon points="403.2,139.9 410.1,145.8 405.3,150.3 398.5,144.4" fill="url(#g28)" stroke="#646567" stroke-width="1" stroke-linejoin="round" />
<polygon points="398.5,144.4 405.3,150.3 405.3,159.6 398.5,153.7" fill="url(#g27)" stroke="#646567" stroke-width="1" stroke-linejoin="round" />
<polygon points="327.7,139.5 410.1,122.9 410.1,166.1 399.1,168.3 397.8,171.0 327.7,185.4" fill="url(#g29)" stroke="#646567" stroke-width="1.2" stroke-linejoin="round" />
<polygon points="343.4,134.8 345.4,133.5 347.6,150.3 346.2,148.7" fill="#a4a6a9" stroke="#646567" stroke-width="0.8" stroke-linejoin="round" />
<polygon points="388.7,124.8 395.5,126.6 391.1,139.6" fill="#ffffff" stroke="#646567" stroke-width="1" stroke-linejoin="round" />
<path d="M345.4,133.5 L388.7,124.8 L391.0,141.5 L350.1,149.8 Q347.6,150.3 347.2,147.8 Z" fill="url(#g30)" stroke="#646567" stroke-width="1.1" stroke-linejoin="round"/>
<polygon points="410.1,169.7 495.2,243.7 484.3,246.0 399.4,171.9" fill="url(#g26)" stroke="#646567" stroke-width="1" stroke-linejoin="round" />
<polygon points="410.1,163.0 495.2,236.8 495.2,243.7 410.1,169.7" fill="rgba(120,122,126,0.25)" stroke="none" stroke-width="1" stroke-linejoin="round" />
<polyline points="410.1,169.7 495.2,243.7" fill="none" stroke="#646567" stroke-width="1.3" stroke-linejoin="round" stroke-linecap="round"/>
<polygon points="410.1,145.8 417.0,151.8 412.3,156.3 405.3,150.3" fill="url(#g28)" stroke="#646567" stroke-width="1" stroke-linejoin="round" />
<polygon points="405.3,150.3 412.3,156.3 412.3,165.6 405.3,159.6" fill="url(#g27)" stroke="#646567" stroke-width="1" stroke-linejoin="round" />
<polygon points="417.0,151.8 423.9,157.8 419.2,162.3 412.3,156.3" fill="url(#g28)" stroke="#646567" stroke-width="1" stroke-linejoin="round" />
<polygon points="412.3,156.3 419.2,162.3 419.2,171.6 412.3,165.6" fill="url(#g27)" stroke="#646567" stroke-width="1" stroke-linejoin="round" />
<polygon points="423.9,157.8 430.9,163.8 426.2,168.3 419.2,162.3" fill="url(#g28)" stroke="#646567" stroke-width="1" stroke-linejoin="round" />
<polygon points="419.2,162.3 426.2,168.3 426.2,177.7 419.2,171.6" fill="url(#g27)" stroke="#646567" stroke-width="1" stroke-linejoin="round" />
<polygon points="430.9,163.8 437.9,169.8 433.2,174.3 426.2,168.3" fill="url(#g28)" stroke="#646567" stroke-width="1" stroke-linejoin="round" />
<polygon points="426.2,168.3 433.2,174.3 433.2,183.7 426.2,177.7" fill="url(#g27)" stroke="#646567" stroke-width="1" stroke-linejoin="round" />
<polygon points="437.9,169.8 445.0,175.9 440.2,180.4 433.2,174.3" fill="url(#g28)" stroke="#646567" stroke-width="1" stroke-linejoin="round" />
<polygon points="433.2,174.3 440.2,180.4 440.2,189.8 433.2,183.7" fill="url(#g27)" stroke="#646567" stroke-width="1" stroke-linejoin="round" />
<polygon points="445.0,175.9 452.0,182.0 447.3,186.5 440.2,180.4" fill="url(#g28)" stroke="#646567" stroke-width="1" stroke-linejoin="round" />
<polygon points="440.2,180.4 447.3,186.5 447.3,196.0 440.2,189.8" fill="url(#g27)" stroke="#646567" stroke-width="1" stroke-linejoin="round" />
<polygon points="452.0,182.0 459.1,188.1 454.4,192.7 447.3,186.5" fill="url(#g28)" stroke="#646567" stroke-width="1" stroke-linejoin="round" />
<polygon points="447.3,186.5 454.4,192.7 454.4,202.1 447.3,196.0" fill="url(#g27)" stroke="#646567" stroke-width="1" stroke-linejoin="round" />
<polygon points="459.1,188.1 466.3,194.2 461.5,198.8 454.4,192.7" fill="url(#g28)" stroke="#646567" stroke-width="1" stroke-linejoin="round" />
<polygon points="454.4,192.7 461.5,198.8 461.5,208.3 454.4,202.1" fill="url(#g27)" stroke="#646567" stroke-width="1" stroke-linejoin="round" />
<polygon points="466.3,194.2 473.5,200.4 468.7,205.0 461.5,198.8" fill="url(#g28)" stroke="#646567" stroke-width="1" stroke-linejoin="round" />
<polygon points="461.5,198.8 468.7,205.0 468.7,214.5 461.5,208.3" fill="url(#g27)" stroke="#646567" stroke-width="1" stroke-linejoin="round" />
<polygon points="473.5,200.4 480.7,206.6 475.9,211.2 468.7,205.0" fill="url(#g28)" stroke="#646567" stroke-width="1" stroke-linejoin="round" />
<polygon points="468.7,205.0 475.9,211.2 475.9,220.8 468.7,214.5" fill="url(#g27)" stroke="#646567" stroke-width="1" stroke-linejoin="round" />
<polygon points="480.7,206.6 487.9,212.9 483.1,217.5 475.9,211.2" fill="url(#g28)" stroke="#646567" stroke-width="1" stroke-linejoin="round" />
<polygon points="475.9,211.2 483.1,217.5 483.1,227.1 475.9,220.8" fill="url(#g27)" stroke="#646567" stroke-width="1" stroke-linejoin="round" />
<polygon points="487.9,212.9 495.2,219.1 490.4,223.8 483.1,217.5" fill="url(#g28)" stroke="#646567" stroke-width="1" stroke-linejoin="round" />
<polygon points="483.1,217.5 490.4,223.8 490.4,233.4 483.1,227.1" fill="url(#g27)" stroke="#646567" stroke-width="1" stroke-linejoin="round" />
<polygon points="411.1,213.1 495.2,195.5 495.2,240.0 484.1,242.4 482.7,245.1 411.1,260.3" fill="url(#g31)" stroke="#646567" stroke-width="1.2" stroke-linejoin="round" />
<polygon points="427.1,208.1 429.1,206.8 431.5,224.2 430.1,222.6" fill="#a4a6a9" stroke="#646567" stroke-width="0.8" stroke-linejoin="round" />
<polygon points="473.4,197.6 480.2,199.4 475.8,212.4" fill="#ffffff" stroke="#646567" stroke-width="1" stroke-linejoin="round" />
<path d="M429.1,206.8 L473.4,197.6 L475.8,214.9 L434.0,223.7 Q431.5,224.2 431.1,221.7 Z" fill="url(#g32)" stroke="#646567" stroke-width="1.1" stroke-linejoin="round"/>
<polygon points="495.2,243.7 577.7,315.4 566.6,317.8 484.3,246.0" fill="url(#g26)" stroke="#646567" stroke-width="1" stroke-linejoin="round" />
<polygon points="495.2,236.8 577.7,308.3 577.7,315.4 495.2,243.7" fill="rgba(120,122,126,0.25)" stroke="none" stroke-width="1" stroke-linejoin="round" />
<polyline points="495.2,243.7 577.7,315.4" fill="none" stroke="#646567" stroke-width="1.3" stroke-linejoin="round" stroke-linecap="round"/>
<polygon points="495.2,219.1 502.5,225.5 497.7,230.1 490.4,223.8" fill="url(#g28)" stroke="#646567" stroke-width="1" stroke-linejoin="round" />
<polygon points="490.4,223.8 497.7,230.1 497.7,239.7 490.4,233.4" fill="url(#g27)" stroke="#646567" stroke-width="1" stroke-linejoin="round" />
<polygon points="502.5,225.5 509.9,231.8 505.1,236.4 497.7,230.1" fill="url(#g28)" stroke="#646567" stroke-width="1" stroke-linejoin="round" />
<polygon points="497.7,230.1 505.1,236.4 505.1,246.1 497.7,239.7" fill="url(#g27)" stroke="#646567" stroke-width="1" stroke-linejoin="round" />
<polygon points="509.9,231.8 517.3,238.1 512.5,242.8 505.1,236.4" fill="url(#g28)" stroke="#646567" stroke-width="1" stroke-linejoin="round" />
<polygon points="505.1,236.4 512.5,242.8 512.5,252.5 505.1,246.1" fill="url(#g27)" stroke="#646567" stroke-width="1" stroke-linejoin="round" />
<polygon points="517.3,238.1 524.7,244.5 519.9,249.2 512.5,242.8" fill="url(#g28)" stroke="#646567" stroke-width="1" stroke-linejoin="round" />
<polygon points="512.5,242.8 519.9,249.2 519.9,258.9 512.5,252.5" fill="url(#g27)" stroke="#646567" stroke-width="1" stroke-linejoin="round" />
<polygon points="524.7,244.5 532.2,251.0 527.3,255.7 519.9,249.2" fill="url(#g28)" stroke="#646567" stroke-width="1" stroke-linejoin="round" />
<polygon points="519.9,249.2 527.3,255.7 527.3,265.4 519.9,258.9" fill="url(#g27)" stroke="#646567" stroke-width="1" stroke-linejoin="round" />
<polygon points="532.2,251.0 539.7,257.4 534.8,262.1 527.3,255.7" fill="url(#g28)" stroke="#646567" stroke-width="1" stroke-linejoin="round" />
<polygon points="527.3,255.7 534.8,262.1 534.8,271.9 527.3,265.4" fill="url(#g27)" stroke="#646567" stroke-width="1" stroke-linejoin="round" />
<polygon points="539.7,257.4 547.2,263.9 542.3,268.6 534.8,262.1" fill="url(#g28)" stroke="#646567" stroke-width="1" stroke-linejoin="round" />
<polygon points="534.8,262.1 542.3,268.6 542.3,278.4 534.8,271.9" fill="url(#g27)" stroke="#646567" stroke-width="1" stroke-linejoin="round" />
<polygon points="547.2,263.9 554.8,270.4 549.9,275.2 542.3,268.6" fill="url(#g28)" stroke="#646567" stroke-width="1" stroke-linejoin="round" />
<polygon points="542.3,268.6 549.9,275.2 549.9,284.9 542.3,278.4" fill="url(#g27)" stroke="#646567" stroke-width="1" stroke-linejoin="round" />
<polygon points="554.8,270.4 562.4,277.0 557.5,281.7 549.9,275.2" fill="url(#g28)" stroke="#646567" stroke-width="1" stroke-linejoin="round" />
<polygon points="549.9,275.2 557.5,281.7 557.5,291.5 549.9,284.9" fill="url(#g27)" stroke="#646567" stroke-width="1" stroke-linejoin="round" />
<polygon points="562.4,277.0 570.0,283.6 565.1,288.3 557.5,281.7" fill="url(#g28)" stroke="#646567" stroke-width="1" stroke-linejoin="round" />
<polygon points="557.5,281.7 565.1,288.3 565.1,298.1 557.5,291.5" fill="url(#g27)" stroke="#646567" stroke-width="1" stroke-linejoin="round" />
<polygon points="570.0,283.6 577.7,290.2 572.8,294.9 565.1,288.3" fill="url(#g28)" stroke="#646567" stroke-width="1" stroke-linejoin="round" />
<polygon points="565.1,288.3 572.8,294.9 572.8,304.8 565.1,298.1" fill="url(#g27)" stroke="#646567" stroke-width="1" stroke-linejoin="round" />
<polygon points="572.8,294.9 577.7,290.2 577.7,309.3 572.8,304.8" fill="#c9cbce" stroke="#646567" stroke-width="0.9" stroke-linejoin="round" />
<polygon points="248.9,115.7 248.9,69.9 499.4,291.1 499.4,341.0" fill="url(#g33)" stroke="#646567" stroke-width="1.2" stroke-linejoin="round" />
<polyline points="499.4,291.1 499.4,341.0" fill="none" stroke="#646567" stroke-width="1.8" stroke-linejoin="round" stroke-linecap="round"/>
<polygon points="254.4,120.6 327.7,186.6 316.9,188.8 243.8,122.7" fill="url(#g34)" stroke="#646567" stroke-width="1" stroke-linejoin="round" />
<polygon points="254.4,114.0 327.7,179.8 327.7,186.6 254.4,120.6" fill="rgba(120,122,126,0.25)" stroke="none" stroke-width="1" stroke-linejoin="round" />
<polyline points="254.4,120.6 327.7,186.6" fill="none" stroke="#646567" stroke-width="1.3" stroke-linejoin="round" stroke-linecap="round"/>
<polygon points="255.3,98.1 261.8,103.8 257.1,108.2 250.6,102.4" fill="url(#g36)" stroke="#646567" stroke-width="1" stroke-linejoin="round" />
<polygon points="250.6,102.4 257.1,108.2 257.1,117.4 250.6,111.6" fill="url(#g35)" stroke="#646567" stroke-width="1" stroke-linejoin="round" />
<polygon points="261.8,103.8 268.2,109.6 263.5,114.0 257.1,108.2" fill="url(#g36)" stroke="#646567" stroke-width="1" stroke-linejoin="round" />
<polygon points="257.1,108.2 263.5,114.0 263.5,123.1 257.1,117.4" fill="url(#g35)" stroke="#646567" stroke-width="1" stroke-linejoin="round" />
<polygon points="268.2,109.6 274.7,115.3 270.0,119.8 263.5,114.0" fill="url(#g36)" stroke="#646567" stroke-width="1" stroke-linejoin="round" />
<polygon points="263.5,114.0 270.0,119.8 270.0,129.0 263.5,123.1" fill="url(#g35)" stroke="#646567" stroke-width="1" stroke-linejoin="round" />
<polygon points="274.7,115.3 281.2,121.2 276.5,125.6 270.0,119.8" fill="url(#g36)" stroke="#646567" stroke-width="1" stroke-linejoin="round" />
<polygon points="270.0,119.8 276.5,125.6 276.5,134.8 270.0,129.0" fill="url(#g35)" stroke="#646567" stroke-width="1" stroke-linejoin="round" />
<polygon points="281.2,121.2 287.8,127.0 283.1,131.4 276.5,125.6" fill="url(#g36)" stroke="#646567" stroke-width="1" stroke-linejoin="round" />
<polygon points="276.5,125.6 283.1,131.4 283.1,140.7 276.5,134.8" fill="url(#g35)" stroke="#646567" stroke-width="1" stroke-linejoin="round" />
<polygon points="287.8,127.0 294.3,132.9 289.6,137.3 283.1,131.4" fill="url(#g36)" stroke="#646567" stroke-width="1" stroke-linejoin="round" />
<polygon points="283.1,131.4 289.6,137.3 289.6,146.6 283.1,140.7" fill="url(#g35)" stroke="#646567" stroke-width="1" stroke-linejoin="round" />
<polygon points="294.3,132.9 301.0,138.8 296.2,143.2 289.6,137.3" fill="url(#g36)" stroke="#646567" stroke-width="1" stroke-linejoin="round" />
<polygon points="289.6,137.3 296.2,143.2 296.2,152.5 289.6,146.6" fill="url(#g35)" stroke="#646567" stroke-width="1" stroke-linejoin="round" />
<polygon points="301.0,138.8 307.6,144.7 302.9,149.1 296.2,143.2" fill="url(#g36)" stroke="#646567" stroke-width="1" stroke-linejoin="round" />
<polygon points="296.2,143.2 302.9,149.1 302.9,158.5 296.2,152.5" fill="url(#g35)" stroke="#646567" stroke-width="1" stroke-linejoin="round" />
<polygon points="307.6,144.7 314.3,150.6 309.5,155.1 302.9,149.1" fill="url(#g36)" stroke="#646567" stroke-width="1" stroke-linejoin="round" />
<polygon points="302.9,149.1 309.5,155.1 309.5,164.4 302.9,158.5" fill="url(#g35)" stroke="#646567" stroke-width="1" stroke-linejoin="round" />
<polygon points="314.3,150.6 321.0,156.6 316.2,161.1 309.5,155.1" fill="url(#g36)" stroke="#646567" stroke-width="1" stroke-linejoin="round" />
<polygon points="309.5,155.1 316.2,161.1 316.2,170.4 309.5,164.4" fill="url(#g35)" stroke="#646567" stroke-width="1" stroke-linejoin="round" />
<polygon points="321.0,156.6 327.7,162.6 322.9,167.1 316.2,161.1" fill="url(#g36)" stroke="#646567" stroke-width="1" stroke-linejoin="round" />
<polygon points="316.2,161.1 322.9,167.1 322.9,176.5 316.2,170.4" fill="url(#g35)" stroke="#646567" stroke-width="1" stroke-linejoin="round" />
<polygon points="244.3,156.3 327.7,139.5 327.7,183.0 316.6,185.2 315.3,187.9 244.3,202.5" fill="url(#g37)" stroke="#646567" stroke-width="1.2" stroke-linejoin="round" />
<polygon points="260.2,151.6 262.2,150.3 264.4,167.2 263.0,165.6" fill="#a4a6a9" stroke="#646567" stroke-width="0.8" stroke-linejoin="round" />
<polygon points="306.1,141.4 312.9,143.2 308.5,156.2" fill="#ffffff" stroke="#646567" stroke-width="1" stroke-linejoin="round" />
<path d="M262.2,150.3 L306.1,141.4 L308.3,158.3 L266.9,166.7 Q264.4,167.2 264.0,164.7 Z" fill="url(#g38)" stroke="#646567" stroke-width="1.1" stroke-linejoin="round"/>
<polygon points="327.7,186.6 411.1,261.6 400.0,263.9 316.9,188.8" fill="url(#g34)" stroke="#646567" stroke-width="1" stroke-linejoin="round" />
<polygon points="327.7,179.8 411.1,254.6 411.1,261.6 327.7,186.6" fill="rgba(120,122,126,0.25)" stroke="none" stroke-width="1" stroke-linejoin="round" />
<polyline points="327.7,186.6 411.1,261.6" fill="none" stroke="#646567" stroke-width="1.3" stroke-linejoin="round" stroke-linecap="round"/>
<polygon points="327.7,162.6 334.5,168.6 329.7,173.1 322.9,167.1" fill="url(#g36)" stroke="#646567" stroke-width="1" stroke-linejoin="round" />
<polygon points="322.9,167.1 329.7,173.1 329.7,182.5 322.9,176.5" fill="url(#g35)" stroke="#646567" stroke-width="1" stroke-linejoin="round" />
<polygon points="334.5,168.6 341.3,174.7 336.5,179.2 329.7,173.1" fill="url(#g36)" stroke="#646567" stroke-width="1" stroke-linejoin="round" />
<polygon points="329.7,173.1 336.5,179.2 336.5,188.6 329.7,182.5" fill="url(#g35)" stroke="#646567" stroke-width="1" stroke-linejoin="round" />
<polygon points="341.3,174.7 348.1,180.8 343.3,185.3 336.5,179.2" fill="url(#g36)" stroke="#646567" stroke-width="1" stroke-linejoin="round" />
<polygon points="336.5,179.2 343.3,185.3 343.3,194.8 336.5,188.6" fill="url(#g35)" stroke="#646567" stroke-width="1" stroke-linejoin="round" />
<polygon points="348.1,180.8 355.0,186.9 350.2,191.4 343.3,185.3" fill="url(#g36)" stroke="#646567" stroke-width="1" stroke-linejoin="round" />
<polygon points="343.3,185.3 350.2,191.4 350.2,200.9 343.3,194.8" fill="url(#g35)" stroke="#646567" stroke-width="1" stroke-linejoin="round" />
<polygon points="355.0,186.9 361.9,193.0 357.0,197.6 350.2,191.4" fill="url(#g36)" stroke="#646567" stroke-width="1" stroke-linejoin="round" />
<polygon points="350.2,191.4 357.0,197.6 357.0,207.1 350.2,200.9" fill="url(#g35)" stroke="#646567" stroke-width="1" stroke-linejoin="round" />
<polygon points="361.9,193.0 368.8,199.2 364.0,203.8 357.0,197.6" fill="url(#g36)" stroke="#646567" stroke-width="1" stroke-linejoin="round" />
<polygon points="357.0,197.6 364.0,203.8 364.0,213.3 357.0,207.1" fill="url(#g35)" stroke="#646567" stroke-width="1" stroke-linejoin="round" />
<polygon points="368.8,199.2 375.7,205.4 370.9,210.0 364.0,203.8" fill="url(#g36)" stroke="#646567" stroke-width="1" stroke-linejoin="round" />
<polygon points="364.0,203.8 370.9,210.0 370.9,219.5 364.0,213.3" fill="url(#g35)" stroke="#646567" stroke-width="1" stroke-linejoin="round" />
<polygon points="375.7,205.4 382.7,211.6 377.9,216.3 370.9,210.0" fill="url(#g36)" stroke="#646567" stroke-width="1" stroke-linejoin="round" />
<polygon points="370.9,210.0 377.9,216.3 377.9,225.8 370.9,219.5" fill="url(#g35)" stroke="#646567" stroke-width="1" stroke-linejoin="round" />
<polygon points="382.7,211.6 389.8,217.9 384.9,222.5 377.9,216.3" fill="url(#g36)" stroke="#646567" stroke-width="1" stroke-linejoin="round" />
<polygon points="377.9,216.3 384.9,222.5 384.9,232.1 377.9,225.8" fill="url(#g35)" stroke="#646567" stroke-width="1" stroke-linejoin="round" />
<polygon points="389.8,217.9 396.8,224.2 392.0,228.8 384.9,222.5" fill="url(#g36)" stroke="#646567" stroke-width="1" stroke-linejoin="round" />
<polygon points="384.9,222.5 392.0,228.8 392.0,238.4 384.9,232.1" fill="url(#g35)" stroke="#646567" stroke-width="1" stroke-linejoin="round" />
<polygon points="396.8,224.2 403.9,230.5 399.1,235.2 392.0,228.8" fill="url(#g36)" stroke="#646567" stroke-width="1" stroke-linejoin="round" />
<polygon points="392.0,228.8 399.1,235.2 399.1,244.8 392.0,238.4" fill="url(#g35)" stroke="#646567" stroke-width="1" stroke-linejoin="round" />
<polygon points="403.9,230.5 411.1,236.9 406.2,241.5 399.1,235.2" fill="url(#g36)" stroke="#646567" stroke-width="1" stroke-linejoin="round" />
<polygon points="399.1,235.2 406.2,241.5 406.2,251.2 399.1,244.8" fill="url(#g35)" stroke="#646567" stroke-width="1" stroke-linejoin="round" />
<polygon points="325.8,230.9 411.1,213.1 411.1,257.9 399.7,260.3 398.3,263.0 325.8,278.5" fill="url(#g39)" stroke="#646567" stroke-width="1.2" stroke-linejoin="round" />
<polygon points="342.1,225.9 344.1,224.6 346.4,242.1 345.0,240.5" fill="#a4a6a9" stroke="#646567" stroke-width="0.8" stroke-linejoin="round" />
<polygon points="389.0,215.2 395.8,217.0 391.4,230.0" fill="#ffffff" stroke="#646567" stroke-width="1" stroke-linejoin="round" />
<path d="M344.1,224.6 L389.0,215.2 L391.3,232.6 L348.9,241.6 Q346.4,242.1 346.0,239.6 Z" fill="url(#g40)" stroke="#646567" stroke-width="1.1" stroke-linejoin="round"/>
<polygon points="411.1,261.6 491.8,334.2 480.6,336.7 400.0,263.9" fill="url(#g34)" stroke="#646567" stroke-width="1" stroke-linejoin="round" />
<polygon points="411.1,254.6 491.8,327.1 491.8,334.2 411.1,261.6" fill="rgba(120,122,126,0.25)" stroke="none" stroke-width="1" stroke-linejoin="round" />
<polyline points="411.1,261.6 491.8,334.2" fill="none" stroke="#646567" stroke-width="1.3" stroke-linejoin="round" stroke-linecap="round"/>
<polygon points="411.1,236.9 418.2,243.3 413.3,247.9 406.2,241.5" fill="url(#g36)" stroke="#646567" stroke-width="1" stroke-linejoin="round" />
<polygon points="406.2,241.5 413.3,247.9 413.3,257.6 406.2,251.2" fill="url(#g35)" stroke="#646567" stroke-width="1" stroke-linejoin="round" />
<polygon points="418.2,243.3 425.4,249.7 420.5,254.4 413.3,247.9" fill="url(#g36)" stroke="#646567" stroke-width="1" stroke-linejoin="round" />
<polygon points="413.3,247.9 420.5,254.4 420.5,264.1 413.3,257.6" fill="url(#g35)" stroke="#646567" stroke-width="1" stroke-linejoin="round" />
<polygon points="425.4,249.7 432.6,256.1 427.7,260.8 420.5,254.4" fill="url(#g36)" stroke="#646567" stroke-width="1" stroke-linejoin="round" />
<polygon points="420.5,254.4 427.7,260.8 427.7,270.6 420.5,264.1" fill="url(#g35)" stroke="#646567" stroke-width="1" stroke-linejoin="round" />
<polygon points="432.6,256.1 439.9,262.6 435.0,267.3 427.7,260.8" fill="url(#g36)" stroke="#646567" stroke-width="1" stroke-linejoin="round" />
<polygon points="427.7,260.8 435.0,267.3 435.0,277.1 427.7,270.6" fill="url(#g35)" stroke="#646567" stroke-width="1" stroke-linejoin="round" />
<polygon points="439.9,262.6 447.2,269.1 442.3,273.9 435.0,267.3" fill="url(#g36)" stroke="#646567" stroke-width="1" stroke-linejoin="round" />
<polygon points="435.0,267.3 442.3,273.9 442.3,283.6 435.0,277.1" fill="url(#g35)" stroke="#646567" stroke-width="1" stroke-linejoin="round" />
<polygon points="447.2,269.1 454.6,275.7 449.6,280.4 442.3,273.9" fill="url(#g36)" stroke="#646567" stroke-width="1" stroke-linejoin="round" />
<polygon points="442.3,273.9 449.6,280.4 449.6,290.2 442.3,283.6" fill="url(#g35)" stroke="#646567" stroke-width="1" stroke-linejoin="round" />
<polygon points="454.6,275.7 461.9,282.2 457.0,287.0 449.6,280.4" fill="url(#g36)" stroke="#646567" stroke-width="1" stroke-linejoin="round" />
<polygon points="449.6,280.4 457.0,287.0 457.0,296.8 449.6,290.2" fill="url(#g35)" stroke="#646567" stroke-width="1" stroke-linejoin="round" />
<polygon points="461.9,282.2 469.4,288.8 464.4,293.6 457.0,287.0" fill="url(#g36)" stroke="#646567" stroke-width="1" stroke-linejoin="round" />
<polygon points="457.0,287.0 464.4,293.6 464.4,303.5 457.0,296.8" fill="url(#g35)" stroke="#646567" stroke-width="1" stroke-linejoin="round" />
<polygon points="469.4,288.8 476.8,295.5 471.8,300.3 464.4,293.6" fill="url(#g36)" stroke="#646567" stroke-width="1" stroke-linejoin="round" />
<polygon points="464.4,293.6 471.8,300.3 471.8,310.1 464.4,303.5" fill="url(#g35)" stroke="#646567" stroke-width="1" stroke-linejoin="round" />
<polygon points="476.8,295.5 484.3,302.2 479.3,307.0 471.8,300.3" fill="url(#g36)" stroke="#646567" stroke-width="1" stroke-linejoin="round" />
<polygon points="471.8,300.3 479.3,307.0 479.3,316.9 471.8,310.1" fill="url(#g35)" stroke="#646567" stroke-width="1" stroke-linejoin="round" />
<polygon points="484.3,302.2 491.8,308.9 486.8,313.7 479.3,307.0" fill="url(#g36)" stroke="#646567" stroke-width="1" stroke-linejoin="round" />
<polygon points="479.3,307.0 486.8,313.7 486.8,323.6 479.3,316.9" fill="url(#g35)" stroke="#646567" stroke-width="1" stroke-linejoin="round" />
<polygon points="486.8,313.7 491.8,308.9 491.8,328.2 486.8,323.6" fill="#c9cbce" stroke="#646567" stroke-width="0.9" stroke-linejoin="round" />
<polygon points="167.3,131.9 167.3,85.8 412.1,310.0 412.1,360.3" fill="url(#g41)" stroke="#646567" stroke-width="1.2" stroke-linejoin="round" />
<polyline points="412.1,310.0 412.1,360.3" fill="none" stroke="#646567" stroke-width="1.8" stroke-linejoin="round" stroke-linecap="round"/>
<polygon points="172.6,136.9 244.3,203.7 233.4,206.0 161.9,139.0" fill="url(#g42)" stroke="#646567" stroke-width="1" stroke-linejoin="round" />
<polygon points="172.6,130.3 244.3,196.9 244.3,203.7 172.6,136.9" fill="rgba(120,122,126,0.25)" stroke="none" stroke-width="1" stroke-linejoin="round" />
<polyline points="172.6,136.9 244.3,203.7" fill="none" stroke="#646567" stroke-width="1.3" stroke-linejoin="round" stroke-linecap="round"/>
<polygon points="173.6,114.2 179.8,120.0 175.1,124.4 168.8,118.6" fill="url(#g44)" stroke="#646567" stroke-width="1" stroke-linejoin="round" />
<polygon points="168.8,118.6 175.1,124.4 175.1,133.7 168.8,127.8" fill="url(#g43)" stroke="#646567" stroke-width="1" stroke-linejoin="round" />
<polygon points="179.8,120.0 186.2,125.9 181.4,130.3 175.1,124.4" fill="url(#g44)" stroke="#646567" stroke-width="1" stroke-linejoin="round" />
<polygon points="175.1,124.4 181.4,130.3 181.4,139.5 175.1,133.7" fill="url(#g43)" stroke="#646567" stroke-width="1" stroke-linejoin="round" />
<polygon points="186.2,125.9 192.5,131.7 187.7,136.2 181.4,130.3" fill="url(#g44)" stroke="#646567" stroke-width="1" stroke-linejoin="round" />
<polygon points="181.4,130.3 187.7,136.2 187.7,145.4 181.4,139.5" fill="url(#g43)" stroke="#646567" stroke-width="1" stroke-linejoin="round" />
<polygon points="192.5,131.7 198.9,137.6 194.1,142.0 187.7,136.2" fill="url(#g44)" stroke="#646567" stroke-width="1" stroke-linejoin="round" />
<polygon points="187.7,136.2 194.1,142.0 194.1,151.3 187.7,145.4" fill="url(#g43)" stroke="#646567" stroke-width="1" stroke-linejoin="round" />
<polygon points="198.9,137.6 205.3,143.5 200.5,148.0 194.1,142.0" fill="url(#g44)" stroke="#646567" stroke-width="1" stroke-linejoin="round" />
<polygon points="194.1,142.0 200.5,148.0 200.5,157.3 194.1,151.3" fill="url(#g43)" stroke="#646567" stroke-width="1" stroke-linejoin="round" />
<polygon points="205.3,143.5 211.7,149.5 206.9,153.9 200.5,148.0" fill="url(#g44)" stroke="#646567" stroke-width="1" stroke-linejoin="round" />
<polygon points="200.5,148.0 206.9,153.9 206.9,163.3 200.5,157.3" fill="url(#g43)" stroke="#646567" stroke-width="1" stroke-linejoin="round" />
<polygon points="211.7,149.5 218.2,155.4 213.4,159.9 206.9,153.9" fill="url(#g44)" stroke="#646567" stroke-width="1" stroke-linejoin="round" />
<polygon points="206.9,153.9 213.4,159.9 213.4,169.3 206.9,163.3" fill="url(#g43)" stroke="#646567" stroke-width="1" stroke-linejoin="round" />
<polygon points="218.2,155.4 224.6,161.4 219.8,165.9 213.4,159.9" fill="url(#g44)" stroke="#646567" stroke-width="1" stroke-linejoin="round" />
<polygon points="213.4,159.9 219.8,165.9 219.8,175.3 213.4,169.3" fill="url(#g43)" stroke="#646567" stroke-width="1" stroke-linejoin="round" />
<polygon points="224.6,161.4 231.2,167.4 226.4,172.0 219.8,165.9" fill="url(#g44)" stroke="#646567" stroke-width="1" stroke-linejoin="round" />
<polygon points="219.8,165.9 226.4,172.0 226.4,181.4 219.8,175.3" fill="url(#g43)" stroke="#646567" stroke-width="1" stroke-linejoin="round" />
<polygon points="231.2,167.4 237.7,173.5 232.9,178.0 226.4,172.0" fill="url(#g44)" stroke="#646567" stroke-width="1" stroke-linejoin="round" />
<polygon points="226.4,172.0 232.9,178.0 232.9,187.4 226.4,181.4" fill="url(#g43)" stroke="#646567" stroke-width="1" stroke-linejoin="round" />
<polygon points="237.7,173.5 244.3,179.6 239.5,184.1 232.9,178.0" fill="url(#g44)" stroke="#646567" stroke-width="1" stroke-linejoin="round" />
<polygon points="232.9,178.0 239.5,184.1 239.5,193.6 232.9,187.4" fill="url(#g43)" stroke="#646567" stroke-width="1" stroke-linejoin="round" />
<polygon points="159.8,173.4 244.3,156.3 244.3,200.1 233.1,202.4 231.7,205.1 159.8,219.9" fill="url(#g45)" stroke="#646567" stroke-width="1.2" stroke-linejoin="round" />
<polygon points="175.9,168.6 177.9,167.3 180.1,184.3 178.7,182.7" fill="#a4a6a9" stroke="#646567" stroke-width="0.8" stroke-linejoin="round" />
<polygon points="222.4,158.3 229.2,160.1 224.8,173.1" fill="#ffffff" stroke="#646567" stroke-width="1" stroke-linejoin="round" />
<path d="M177.9,167.3 L222.4,158.3 L224.6,175.3 L182.6,183.8 Q180.1,184.3 179.7,181.8 Z" fill="url(#g46)" stroke="#646567" stroke-width="1.1" stroke-linejoin="round"/>
<polygon points="244.3,203.7 325.8,279.7 314.6,282.1 233.4,206.0" fill="url(#g42)" stroke="#646567" stroke-width="1" stroke-linejoin="round" />
<polygon points="244.3,196.9 325.8,272.7 325.8,279.7 244.3,203.7" fill="rgba(120,122,126,0.25)" stroke="none" stroke-width="1" stroke-linejoin="round" />
<polyline points="244.3,203.7 325.8,279.7" fill="none" stroke="#646567" stroke-width="1.3" stroke-linejoin="round" stroke-linecap="round"/>
<polygon points="244.3,179.6 250.9,185.7 246.1,190.2 239.5,184.1" fill="url(#g44)" stroke="#646567" stroke-width="1" stroke-linejoin="round" />
<polygon points="239.5,184.1 246.1,190.2 246.1,199.7 239.5,193.6" fill="url(#g43)" stroke="#646567" stroke-width="1" stroke-linejoin="round" />
<polygon points="250.9,185.7 257.5,191.8 252.7,196.4 246.1,190.2" fill="url(#g44)" stroke="#646567" stroke-width="1" stroke-linejoin="round" />
<polygon points="246.1,190.2 252.7,196.4 252.7,205.9 246.1,199.7" fill="url(#g43)" stroke="#646567" stroke-width="1" stroke-linejoin="round" />
<polygon points="257.5,191.8 264.2,198.0 259.4,202.6 252.7,196.4" fill="url(#g44)" stroke="#646567" stroke-width="1" stroke-linejoin="round" />
<polygon points="252.7,196.4 259.4,202.6 259.4,212.1 252.7,205.9" fill="url(#g43)" stroke="#646567" stroke-width="1" stroke-linejoin="round" />
<polygon points="264.2,198.0 270.9,204.2 266.1,208.8 259.4,202.6" fill="url(#g44)" stroke="#646567" stroke-width="1" stroke-linejoin="round" />
<polygon points="259.4,202.6 266.1,208.8 266.1,218.3 259.4,212.1" fill="url(#g43)" stroke="#646567" stroke-width="1" stroke-linejoin="round" />
<polygon points="270.9,204.2 277.7,210.4 272.8,215.0 266.1,208.8" fill="url(#g44)" stroke="#646567" stroke-width="1" stroke-linejoin="round" />
<polygon points="266.1,208.8 272.8,215.0 272.8,224.6 266.1,218.3" fill="url(#g43)" stroke="#646567" stroke-width="1" stroke-linejoin="round" />
<polygon points="277.7,210.4 284.4,216.7 279.6,221.3 272.8,215.0" fill="url(#g44)" stroke="#646567" stroke-width="1" stroke-linejoin="round" />
<polygon points="272.8,215.0 279.6,221.3 279.6,230.9 272.8,224.6" fill="url(#g43)" stroke="#646567" stroke-width="1" stroke-linejoin="round" />
<polygon points="284.4,216.7 291.2,223.0 286.4,227.6 279.6,221.3" fill="url(#g44)" stroke="#646567" stroke-width="1" stroke-linejoin="round" />
<polygon points="279.6,221.3 286.4,227.6 286.4,237.2 279.6,230.9" fill="url(#g43)" stroke="#646567" stroke-width="1" stroke-linejoin="round" />
<polygon points="291.2,223.0 298.1,229.3 293.2,233.9 286.4,227.6" fill="url(#g44)" stroke="#646567" stroke-width="1" stroke-linejoin="round" />
<polygon points="286.4,227.6 293.2,233.9 293.2,243.5 286.4,237.2" fill="url(#g43)" stroke="#646567" stroke-width="1" stroke-linejoin="round" />
<polygon points="298.1,229.3 305.0,235.6 300.0,240.3 293.2,233.9" fill="url(#g44)" stroke="#646567" stroke-width="1" stroke-linejoin="round" />
<polygon points="293.2,233.9 300.0,240.3 300.0,249.9 293.2,243.5" fill="url(#g43)" stroke="#646567" stroke-width="1" stroke-linejoin="round" />
<polygon points="305.0,235.6 311.9,242.0 306.9,246.7 300.0,240.3" fill="url(#g44)" stroke="#646567" stroke-width="1" stroke-linejoin="round" />
<polygon points="300.0,240.3 306.9,246.7 306.9,256.3 300.0,249.9" fill="url(#g43)" stroke="#646567" stroke-width="1" stroke-linejoin="round" />
<polygon points="311.9,242.0 318.8,248.4 313.9,253.1 306.9,246.7" fill="url(#g44)" stroke="#646567" stroke-width="1" stroke-linejoin="round" />
<polygon points="306.9,246.7 313.9,253.1 313.9,262.8 306.9,256.3" fill="url(#g43)" stroke="#646567" stroke-width="1" stroke-linejoin="round" />
<polygon points="318.8,248.4 325.8,254.8 320.8,259.5 313.9,253.1" fill="url(#g44)" stroke="#646567" stroke-width="1" stroke-linejoin="round" />
<polygon points="313.9,253.1 320.8,259.5 320.8,269.3 313.9,262.8" fill="url(#g43)" stroke="#646567" stroke-width="1" stroke-linejoin="round" />
<polygon points="239.3,249.0 325.8,230.9 325.8,276.0 314.3,278.4 312.9,281.2 239.3,296.8" fill="url(#g47)" stroke="#646567" stroke-width="1.2" stroke-linejoin="round" />
<polygon points="255.9,243.9 257.9,242.6 260.1,260.2 258.7,258.6" fill="#a4a6a9" stroke="#646567" stroke-width="0.8" stroke-linejoin="round" />
<polygon points="303.4,233.1 310.2,234.9 305.8,247.9" fill="#ffffff" stroke="#646567" stroke-width="1" stroke-linejoin="round" />
<path d="M257.9,242.6 L303.4,233.1 L305.7,250.6 L262.6,259.7 Q260.1,260.2 259.7,257.7 Z" fill="url(#g48)" stroke="#646567" stroke-width="1.1" stroke-linejoin="round"/>
<polygon points="325.8,279.7 404.7,353.4 393.3,355.9 314.6,282.1" fill="url(#g42)" stroke="#646567" stroke-width="1" stroke-linejoin="round" />
<polygon points="325.8,272.7 404.7,346.2 404.7,353.4 325.8,279.7" fill="rgba(120,122,126,0.25)" stroke="none" stroke-width="1" stroke-linejoin="round" />
<polyline points="325.8,279.7 404.7,353.4" fill="none" stroke="#646567" stroke-width="1.3" stroke-linejoin="round" stroke-linecap="round"/>
<polygon points="325.8,254.8 332.8,261.3 327.8,266.0 320.8,259.5" fill="url(#g44)" stroke="#646567" stroke-width="1" stroke-linejoin="round" />
<polygon points="320.8,259.5 327.8,266.0 327.8,275.8 320.8,269.3" fill="url(#g43)" stroke="#646567" stroke-width="1" stroke-linejoin="round" />
<polygon points="332.8,261.3 339.8,267.8 334.8,272.6 327.8,266.0" fill="url(#g44)" stroke="#646567" stroke-width="1" stroke-linejoin="round" />
<polygon points="327.8,266.0 334.8,272.6 334.8,282.3 327.8,275.8" fill="url(#g43)" stroke="#646567" stroke-width="1" stroke-linejoin="round" />
<polygon points="339.8,267.8 346.9,274.4 341.9,279.1 334.8,272.6" fill="url(#g44)" stroke="#646567" stroke-width="1" stroke-linejoin="round" />
<polygon points="334.8,272.6 341.9,279.1 341.9,288.9 334.8,282.3" fill="url(#g43)" stroke="#646567" stroke-width="1" stroke-linejoin="round" />
<polygon points="346.9,274.4 354.0,280.9 349.0,285.7 341.9,279.1" fill="url(#g44)" stroke="#646567" stroke-width="1" stroke-linejoin="round" />
<polygon points="341.9,279.1 349.0,285.7 349.0,295.5 341.9,288.9" fill="url(#g43)" stroke="#646567" stroke-width="1" stroke-linejoin="round" />
<polygon points="354.0,280.9 361.1,287.5 356.1,292.3 349.0,285.7" fill="url(#g44)" stroke="#646567" stroke-width="1" stroke-linejoin="round" />
<polygon points="349.0,285.7 356.1,292.3 356.1,302.1 349.0,295.5" fill="url(#g43)" stroke="#646567" stroke-width="1" stroke-linejoin="round" />
<polygon points="361.1,287.5 368.3,294.2 363.3,298.9 356.1,292.3" fill="url(#g44)" stroke="#646567" stroke-width="1" stroke-linejoin="round" />
<polygon points="356.1,292.3 363.3,298.9 363.3,308.8 356.1,302.1" fill="url(#g43)" stroke="#646567" stroke-width="1" stroke-linejoin="round" />
<polygon points="368.3,294.2 375.5,300.8 370.5,305.6 363.3,298.9" fill="url(#g44)" stroke="#646567" stroke-width="1" stroke-linejoin="round" />
<polygon points="363.3,298.9 370.5,305.6 370.5,315.5 363.3,308.8" fill="url(#g43)" stroke="#646567" stroke-width="1" stroke-linejoin="round" />
<polygon points="375.5,300.8 382.8,307.5 377.7,312.3 370.5,305.6" fill="url(#g44)" stroke="#646567" stroke-width="1" stroke-linejoin="round" />
<polygon points="370.5,305.6 377.7,312.3 377.7,322.2 370.5,315.5" fill="url(#g43)" stroke="#646567" stroke-width="1" stroke-linejoin="round" />
<polygon points="382.8,307.5 390.0,314.3 385.0,319.1 377.7,312.3" fill="url(#g44)" stroke="#646567" stroke-width="1" stroke-linejoin="round" />
<polygon points="377.7,312.3 385.0,319.1 385.0,329.0 377.7,322.2" fill="url(#g43)" stroke="#646567" stroke-width="1" stroke-linejoin="round" />
<polygon points="390.0,314.3 397.4,321.0 392.3,325.9 385.0,319.1" fill="url(#g44)" stroke="#646567" stroke-width="1" stroke-linejoin="round" />
<polygon points="385.0,319.1 392.3,325.9 392.3,335.8 385.0,329.0" fill="url(#g43)" stroke="#646567" stroke-width="1" stroke-linejoin="round" />
<polygon points="397.4,321.0 404.7,327.8 399.7,332.7 392.3,325.9" fill="url(#g44)" stroke="#646567" stroke-width="1" stroke-linejoin="round" />
<polygon points="392.3,325.9 399.7,332.7 399.7,342.7 392.3,335.8" fill="url(#g43)" stroke="#646567" stroke-width="1" stroke-linejoin="round" />
<polygon points="399.7,332.7 404.7,327.8 404.7,347.2 399.7,342.7" fill="#c9cbce" stroke="#646567" stroke-width="0.9" stroke-linejoin="round" />
<polygon points="84.7,148.4 84.7,102.0 323.7,329.1 323.7,379.7" fill="url(#g49)" stroke="#646567" stroke-width="1.2" stroke-linejoin="round" />
<polyline points="323.7,329.1 323.7,379.7" fill="none" stroke="#646567" stroke-width="1.8" stroke-linejoin="round" stroke-linecap="round"/>
<polygon points="89.9,153.4 159.8,221.1 148.7,223.4 79.0,155.5" fill="url(#g50)" stroke="#646567" stroke-width="1" stroke-linejoin="round" />
<polygon points="89.9,146.7 159.8,214.2 159.8,221.1 89.9,153.4" fill="rgba(120,122,126,0.25)" stroke="none" stroke-width="1" stroke-linejoin="round" />
<polyline points="89.9,153.4 159.8,221.1" fill="none" stroke="#646567" stroke-width="1.3" stroke-linejoin="round" stroke-linecap="round"/>
<polygon points="90.8,130.6 96.9,136.4 92.1,140.9 86.0,135.0" fill="url(#g52)" stroke="#646567" stroke-width="1" stroke-linejoin="round" />
<polygon points="86.0,135.0 92.1,140.9 92.1,150.2 86.0,144.3" fill="url(#g51)" stroke="#646567" stroke-width="1" stroke-linejoin="round" />
<polygon points="96.9,136.4 103.1,142.4 98.3,146.8 92.1,140.9" fill="url(#g52)" stroke="#646567" stroke-width="1" stroke-linejoin="round" />
<polygon points="92.1,140.9 98.3,146.8 98.3,156.1 92.1,150.2" fill="url(#g51)" stroke="#646567" stroke-width="1" stroke-linejoin="round" />
<polygon points="103.1,142.4 109.3,148.3 104.4,152.8 98.3,146.8" fill="url(#g52)" stroke="#646567" stroke-width="1" stroke-linejoin="round" />
<polygon points="98.3,146.8 104.4,152.8 104.4,162.1 98.3,156.1" fill="url(#g51)" stroke="#646567" stroke-width="1" stroke-linejoin="round" />
<polygon points="109.3,148.3 115.5,154.2 110.6,158.7 104.4,152.8" fill="url(#g52)" stroke="#646567" stroke-width="1" stroke-linejoin="round" />
<polygon points="104.4,152.8 110.6,158.7 110.6,168.1 104.4,162.1" fill="url(#g51)" stroke="#646567" stroke-width="1" stroke-linejoin="round" />
<polygon points="115.5,154.2 121.7,160.2 116.9,164.7 110.6,158.7" fill="url(#g52)" stroke="#646567" stroke-width="1" stroke-linejoin="round" />
<polygon points="110.6,158.7 116.9,164.7 116.9,174.1 110.6,168.1" fill="url(#g51)" stroke="#646567" stroke-width="1" stroke-linejoin="round" />
<polygon points="121.7,160.2 128.0,166.3 123.1,170.8 116.9,164.7" fill="url(#g52)" stroke="#646567" stroke-width="1" stroke-linejoin="round" />
<polygon points="116.9,164.7 123.1,170.8 123.1,180.2 116.9,174.1" fill="url(#g51)" stroke="#646567" stroke-width="1" stroke-linejoin="round" />
<polygon points="128.0,166.3 134.3,172.3 129.4,176.8 123.1,170.8" fill="url(#g52)" stroke="#646567" stroke-width="1" stroke-linejoin="round" />
<polygon points="123.1,170.8 129.4,176.8 129.4,186.2 123.1,180.2" fill="url(#g51)" stroke="#646567" stroke-width="1" stroke-linejoin="round" />
<polygon points="134.3,172.3 140.6,178.4 135.8,182.9 129.4,176.8" fill="url(#g52)" stroke="#646567" stroke-width="1" stroke-linejoin="round" />
<polygon points="129.4,176.8 135.8,182.9 135.8,192.4 129.4,186.2" fill="url(#g51)" stroke="#646567" stroke-width="1" stroke-linejoin="round" />
<polygon points="140.6,178.4 147.0,184.5 142.1,189.0 135.8,182.9" fill="url(#g52)" stroke="#646567" stroke-width="1" stroke-linejoin="round" />
<polygon points="135.8,182.9 142.1,189.0 142.1,198.5 135.8,192.4" fill="url(#g51)" stroke="#646567" stroke-width="1" stroke-linejoin="round" />
<polygon points="147.0,184.5 153.4,190.6 148.5,195.2 142.1,189.0" fill="url(#g52)" stroke="#646567" stroke-width="1" stroke-linejoin="round" />
<polygon points="142.1,189.0 148.5,195.2 148.5,204.7 142.1,198.5" fill="url(#g51)" stroke="#646567" stroke-width="1" stroke-linejoin="round" />
<polygon points="153.4,190.6 159.8,196.8 154.9,201.3 148.5,195.2" fill="url(#g52)" stroke="#646567" stroke-width="1" stroke-linejoin="round" />
<polygon points="148.5,195.2 154.9,201.3 154.9,210.9 148.5,204.7" fill="url(#g51)" stroke="#646567" stroke-width="1" stroke-linejoin="round" />
<polygon points="74.2,190.6 159.8,173.4 159.8,217.4 148.5,219.7 147.0,222.5 86.5,234.3 86.5,235.5 74.2,238.1" fill="url(#g53)" stroke="#646567" stroke-width="1.2" stroke-linejoin="round" />
<polygon points="90.6,185.8 92.6,184.5 94.6,201.6 93.2,200.0" fill="#a4a6a9" stroke="#646567" stroke-width="0.8" stroke-linejoin="round" />
<polygon points="137.7,175.4 144.5,177.2 140.1,190.2" fill="#ffffff" stroke="#646567" stroke-width="1" stroke-linejoin="round" />
<path d="M92.6,184.5 L137.7,175.4 L139.8,192.5 L97.1,201.1 Q94.6,201.6 94.2,199.1 Z" fill="url(#g54)" stroke="#646567" stroke-width="1.1" stroke-linejoin="round"/>
<polygon points="159.8,221.1 239.3,298.1 228.0,300.5 148.7,223.4" fill="url(#g50)" stroke="#646567" stroke-width="1" stroke-linejoin="round" />
<polygon points="159.8,214.2 239.3,291.0 239.3,298.1 159.8,221.1" fill="rgba(120,122,126,0.25)" stroke="none" stroke-width="1" stroke-linejoin="round" />
<polyline points="159.8,221.1 239.3,298.1" fill="none" stroke="#646567" stroke-width="1.3" stroke-linejoin="round" stroke-linecap="round"/>
<polygon points="159.8,196.8 166.3,203.0 161.4,207.6 154.9,201.3" fill="url(#g52)" stroke="#646567" stroke-width="1" stroke-linejoin="round" />
<polygon points="154.9,201.3 161.4,207.6 161.4,217.1 154.9,210.9" fill="url(#g51)" stroke="#646567" stroke-width="1" stroke-linejoin="round" />
<polygon points="166.3,203.0 172.7,209.2 167.8,213.8 161.4,207.6" fill="url(#g52)" stroke="#646567" stroke-width="1" stroke-linejoin="round" />
<polygon points="161.4,207.6 167.8,213.8 167.8,223.3 161.4,217.1" fill="url(#g51)" stroke="#646567" stroke-width="1" stroke-linejoin="round" />
<polygon points="172.7,209.2 179.3,215.4 174.3,220.0 167.8,213.8" fill="url(#g52)" stroke="#646567" stroke-width="1" stroke-linejoin="round" />
<polygon points="167.8,213.8 174.3,220.0 174.3,229.6 167.8,223.3" fill="url(#g51)" stroke="#646567" stroke-width="1" stroke-linejoin="round" />
<polygon points="179.3,215.4 185.8,221.7 180.9,226.3 174.3,220.0" fill="url(#g52)" stroke="#646567" stroke-width="1" stroke-linejoin="round" />
<polygon points="174.3,220.0 180.9,226.3 180.9,235.9 174.3,229.6" fill="url(#g51)" stroke="#646567" stroke-width="1" stroke-linejoin="round" />
<polygon points="185.8,221.7 192.4,228.0 187.4,232.7 180.9,226.3" fill="url(#g52)" stroke="#646567" stroke-width="1" stroke-linejoin="round" />
<polygon points="180.9,226.3 187.4,232.7 187.4,242.3 180.9,235.9" fill="url(#g51)" stroke="#646567" stroke-width="1" stroke-linejoin="round" />
<polygon points="192.4,228.0 199.0,234.4 194.0,239.0 187.4,232.7" fill="url(#g52)" stroke="#646567" stroke-width="1" stroke-linejoin="round" />
<polygon points="187.4,232.7 194.0,239.0 194.0,248.7 187.4,242.3" fill="url(#g51)" stroke="#646567" stroke-width="1" stroke-linejoin="round" />
<polygon points="199.0,234.4 205.6,240.7 200.7,245.4 194.0,239.0" fill="url(#g52)" stroke="#646567" stroke-width="1" stroke-linejoin="round" />
<polygon points="194.0,239.0 200.7,245.4 200.7,255.1 194.0,248.7" fill="url(#g51)" stroke="#646567" stroke-width="1" stroke-linejoin="round" />
<polygon points="205.6,240.7 212.3,247.1 207.3,251.8 200.7,245.4" fill="url(#g52)" stroke="#646567" stroke-width="1" stroke-linejoin="round" />
<polygon points="200.7,245.4 207.3,251.8 207.3,261.5 200.7,255.1" fill="url(#g51)" stroke="#646567" stroke-width="1" stroke-linejoin="round" />
<polygon points="212.3,247.1 219.0,253.6 214.0,258.3 207.3,251.8" fill="url(#g52)" stroke="#646567" stroke-width="1" stroke-linejoin="round" />
<polygon points="207.3,251.8 214.0,258.3 214.0,268.0 207.3,261.5" fill="url(#g51)" stroke="#646567" stroke-width="1" stroke-linejoin="round" />
<polygon points="219.0,253.6 225.8,260.0 220.8,264.7 214.0,258.3" fill="url(#g52)" stroke="#646567" stroke-width="1" stroke-linejoin="round" />
<polygon points="214.0,258.3 220.8,264.7 220.8,274.5 214.0,268.0" fill="url(#g51)" stroke="#646567" stroke-width="1" stroke-linejoin="round" />
<polygon points="225.8,260.0 232.5,266.5 227.5,271.3 220.8,264.7" fill="url(#g52)" stroke="#646567" stroke-width="1" stroke-linejoin="round" />
<polygon points="220.8,264.7 227.5,271.3 227.5,281.0 220.8,274.5" fill="url(#g51)" stroke="#646567" stroke-width="1" stroke-linejoin="round" />
<polygon points="232.5,266.5 239.3,273.1 234.3,277.8 227.5,271.3" fill="url(#g52)" stroke="#646567" stroke-width="1" stroke-linejoin="round" />
<polygon points="227.5,271.3 234.3,277.8 234.3,287.6 227.5,281.0" fill="url(#g51)" stroke="#646567" stroke-width="1" stroke-linejoin="round" />
<polygon points="151.7,267.3 239.3,249.0 239.3,294.3 227.7,296.8 226.3,299.6 164.4,312.1 164.4,313.4 151.7,316.1" fill="url(#g55)" stroke="#646567" stroke-width="1.2" stroke-linejoin="round" />
<polygon points="168.5,262.1 170.5,260.8 172.7,278.5 171.3,276.9" fill="#a4a6a9" stroke="#646567" stroke-width="0.8" stroke-linejoin="round" />
<polygon points="216.7,251.2 223.5,253.0 219.1,266.0" fill="#ffffff" stroke="#646567" stroke-width="1" stroke-linejoin="round" />
<path d="M170.5,260.8 L216.7,251.2 L218.9,268.8 L175.2,278.0 Q172.7,278.5 172.3,276.0 Z" fill="url(#g56)" stroke="#646567" stroke-width="1.1" stroke-linejoin="round"/>
<polygon points="239.3,298.1 316.4,372.8 304.9,375.3 228.0,300.5" fill="url(#g50)" stroke="#646567" stroke-width="1" stroke-linejoin="round" />
<polygon points="239.3,291.0 316.4,365.5 316.4,372.8 239.3,298.1" fill="rgba(120,122,126,0.25)" stroke="none" stroke-width="1" stroke-linejoin="round" />
<polyline points="239.3,298.1 316.4,372.8" fill="none" stroke="#646567" stroke-width="1.3" stroke-linejoin="round" stroke-linecap="round"/>
<polygon points="239.3,273.1 246.2,279.6 241.2,284.4 234.3,277.8" fill="url(#g52)" stroke="#646567" stroke-width="1" stroke-linejoin="round" />
<polygon points="234.3,277.8 241.2,284.4 241.2,294.2 234.3,287.6" fill="url(#g51)" stroke="#646567" stroke-width="1" stroke-linejoin="round" />
<polygon points="246.2,279.6 253.0,286.2 248.0,291.0 241.2,284.4" fill="url(#g52)" stroke="#646567" stroke-width="1" stroke-linejoin="round" />
<polygon points="241.2,284.4 248.0,291.0 248.0,300.8 241.2,294.2" fill="url(#g51)" stroke="#646567" stroke-width="1" stroke-linejoin="round" />
<polygon points="253.0,286.2 259.9,292.8 254.9,297.6 248.0,291.0" fill="url(#g52)" stroke="#646567" stroke-width="1" stroke-linejoin="round" />
<polygon points="248.0,291.0 254.9,297.6 254.9,307.5 248.0,300.8" fill="url(#g51)" stroke="#646567" stroke-width="1" stroke-linejoin="round" />
<polygon points="259.9,292.8 266.9,299.5 261.8,304.3 254.9,297.6" fill="url(#g52)" stroke="#646567" stroke-width="1" stroke-linejoin="round" />
<polygon points="254.9,297.6 261.8,304.3 261.8,314.2 254.9,307.5" fill="url(#g51)" stroke="#646567" stroke-width="1" stroke-linejoin="round" />
<polygon points="266.9,299.5 273.9,306.2 268.8,311.0 261.8,304.3" fill="url(#g52)" stroke="#646567" stroke-width="1" stroke-linejoin="round" />
<polygon points="261.8,304.3 268.8,311.0 268.8,320.9 261.8,314.2" fill="url(#g51)" stroke="#646567" stroke-width="1" stroke-linejoin="round" />
<polygon points="273.9,306.2 280.9,312.9 275.8,317.7 268.8,311.0" fill="url(#g52)" stroke="#646567" stroke-width="1" stroke-linejoin="round" />
<polygon points="268.8,311.0 275.8,317.7 275.8,327.7 268.8,320.9" fill="url(#g51)" stroke="#646567" stroke-width="1" stroke-linejoin="round" />
<polygon points="280.9,312.9 287.9,319.7 282.8,324.5 275.8,317.7" fill="url(#g52)" stroke="#646567" stroke-width="1" stroke-linejoin="round" />
<polygon points="275.8,317.7 282.8,324.5 282.8,334.5 275.8,327.7" fill="url(#g51)" stroke="#646567" stroke-width="1" stroke-linejoin="round" />
<polygon points="287.9,319.7 295.0,326.4 289.9,331.3 282.8,324.5" fill="url(#g52)" stroke="#646567" stroke-width="1" stroke-linejoin="round" />
<polygon points="282.8,324.5 289.9,331.3 289.9,341.3 282.8,334.5" fill="url(#g51)" stroke="#646567" stroke-width="1" stroke-linejoin="round" />
<polygon points="295.0,326.4 302.1,333.3 297.0,338.1 289.9,331.3" fill="url(#g52)" stroke="#646567" stroke-width="1" stroke-linejoin="round" />
<polygon points="289.9,331.3 297.0,338.1 297.0,348.1 289.9,341.3" fill="url(#g51)" stroke="#646567" stroke-width="1" stroke-linejoin="round" />
<polygon points="302.1,333.3 309.3,340.1 304.2,345.0 297.0,338.1" fill="url(#g52)" stroke="#646567" stroke-width="1" stroke-linejoin="round" />
<polygon points="297.0,338.1 304.2,345.0 304.2,355.0 297.0,348.1" fill="url(#g51)" stroke="#646567" stroke-width="1" stroke-linejoin="round" />
<polygon points="309.3,340.1 316.4,347.0 311.3,351.9 304.2,345.0" fill="url(#g52)" stroke="#646567" stroke-width="1" stroke-linejoin="round" />
<polygon points="304.2,345.0 311.3,351.9 311.3,362.0 304.2,355.0" fill="url(#g51)" stroke="#646567" stroke-width="1" stroke-linejoin="round" />
<polygon points="311.3,351.9 316.4,347.0 316.4,366.6 311.3,362.0" fill="#c9cbce" stroke="#646567" stroke-width="0.9" stroke-linejoin="round" /></svg></body></html>
